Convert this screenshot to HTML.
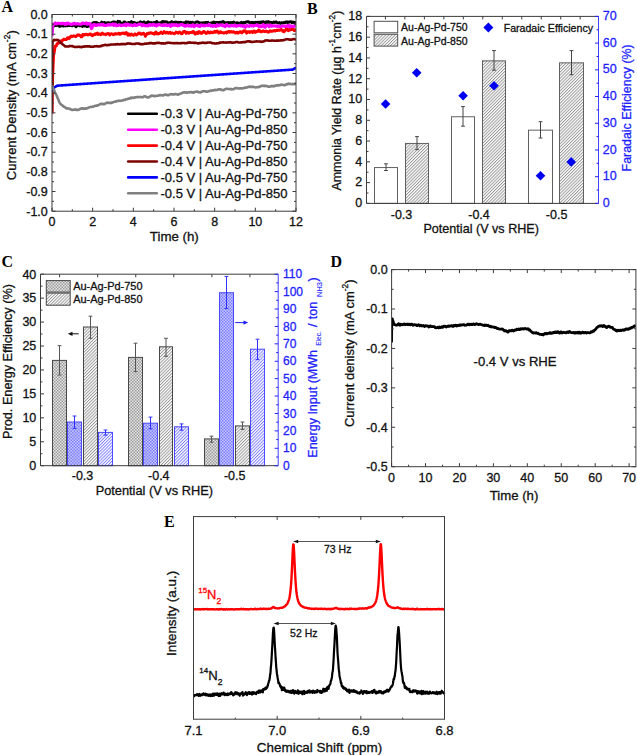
<!DOCTYPE html>
<html><head><meta charset="utf-8"><style>
html,body{margin:0;padding:0;background:#fff;width:637px;height:755px;overflow:hidden}
svg{display:block;font-family:"Liberation Sans", sans-serif}
</style></head><body>
<svg width="637" height="755" viewBox="0 0 637 755">
<defs>
<pattern id="hatchG" patternUnits="userSpaceOnUse" width="2.2" height="2.2" patternTransform="rotate(45)">
<rect width="2.2" height="2.2" fill="#fff"/><rect x="0" y="0" width="0.95" height="2.2" fill="#999999"/></pattern>
<pattern id="hatchB" patternUnits="userSpaceOnUse" width="2.2" height="2.2" patternTransform="rotate(45)">
<rect width="2.2" height="2.2" fill="#fff"/><rect x="0" y="0" width="0.95" height="2.2" fill="#8080ff"/></pattern>
<pattern id="xhatchG" patternUnits="userSpaceOnUse" width="3" height="3">
<rect width="3" height="3" fill="#e4e4e4"/><rect width="1.5" height="1.5" fill="#9c9c9c"/><rect x="1.5" y="1.5" width="1.5" height="1.5" fill="#9c9c9c"/></pattern>
<pattern id="xhatchB" patternUnits="userSpaceOnUse" width="3" height="3">
<rect width="3" height="3" fill="#c8c8ff"/><rect width="1.5" height="1.5" fill="#7c7cff"/><rect x="1.5" y="1.5" width="1.5" height="1.5" fill="#7c7cff"/></pattern>
</defs>
<rect width="637" height="755" fill="#fff"/>
<text x="1.5" y="11.8" font-family="Liberation Serif, serif" font-weight="bold" font-size="16" fill="#000">A</text>
<clipPath id="clipA"><rect x="52" y="14.5" width="244" height="196.7"/></clipPath>
<g clip-path="url(#clipA)">
<path d="M52.00,113.76 L52.16,104.56 L52.31,94.71 L52.47,85.64 L52.63,76.98 L52.78,73.20 L52.94,69.91 L53.09,66.07 L53.25,62.55 L53.41,59.10 L53.56,55.35 L53.72,53.88 L53.88,52.85 L54.03,52.64 L54.19,52.46 L54.35,51.77 L54.50,50.83 L54.66,49.75 L54.82,48.34 L54.97,46.78 L55.13,46.25 L55.28,46.54 L55.44,46.67 L55.60,46.59 L55.75,46.33 L55.91,45.84 L56.07,45.66 L56.22,45.84 L56.38,46.01 L56.54,44.95 L56.69,44.92 L56.85,44.44 L57.01,43.70 L57.16,44.12 L57.32,43.72 L57.47,43.52 L57.63,43.66 L57.79,43.73 L57.94,43.51 L58.10,42.93 L58.10,43.49 L58.53,42.54 L58.95,42.31 L59.38,42.78 L59.80,41.33 L60.23,41.14 L60.65,41.38 L61.08,40.91 L61.50,41.19 L61.93,41.30 L62.36,40.43 L62.78,40.26 L63.21,40.01 L63.63,39.22 L64.06,39.47 L64.48,39.16 L64.91,39.33 L65.33,39.57 L65.76,39.53 L66.19,39.58 L66.61,39.27 L67.04,38.78 L67.46,37.75 L67.89,37.79 L68.31,37.78 L68.74,37.65 L69.17,38.52 L69.59,38.00 L70.02,37.54 L70.44,37.16 L70.87,36.17 L71.29,36.06 L71.72,36.09 L72.14,36.56 L72.57,36.21 L73.00,36.18 L73.42,36.10 L73.85,35.83 L74.27,36.35 L74.70,36.21 L75.12,36.43 L75.55,36.50 L75.97,36.55 L76.40,36.01 L76.83,35.34 L77.25,35.29 L77.68,34.84 L78.10,35.30 L78.53,35.11 L78.95,35.04 L79.38,35.01 L79.80,35.28 L80.23,35.47 L80.66,35.99 L81.08,36.84 L81.51,36.44 L81.93,36.82 L82.36,36.11 L82.78,34.56 L83.21,34.69 L83.63,34.53 L84.06,34.46 L84.49,35.01 L84.91,34.72 L85.34,34.52 L85.76,34.28 L86.19,34.21 L86.61,34.45 L87.04,34.35 L87.47,34.52 L87.89,35.01 L88.32,34.50 L88.74,34.73 L89.17,34.39 L89.59,33.94 L90.02,33.99 L90.44,33.88 L90.87,34.25 L91.30,35.00 L91.72,35.41 L92.15,35.07 L92.57,35.75 L93.00,34.75 L93.42,34.95 L93.85,34.80 L94.27,34.34 L94.70,34.35 L95.13,33.68 L95.55,34.47 L95.98,33.73 L96.40,33.48 L96.83,33.54 L97.25,33.09 L97.68,33.56 L98.10,34.39 L98.53,33.97 L98.96,34.06 L99.38,34.00 L99.81,33.93 L100.23,34.52 L100.66,34.76 L101.08,34.29 L101.51,34.05 L101.93,33.49 L102.36,33.03 L102.79,33.69 L103.21,33.74 L103.64,34.26 L104.06,34.25 L104.49,34.12 L104.91,34.10 L105.34,34.37 L105.77,34.64 L106.19,33.92 L106.62,34.04 L107.04,33.91 L107.47,33.50 L107.89,33.57 L108.32,33.86 L108.74,33.58 L109.17,33.93 L109.60,35.05 L110.02,34.30 L110.45,34.25 L110.87,34.02 L111.30,33.68 L111.72,33.80 L112.15,33.99 L112.57,34.08 L113.00,34.22 L113.43,34.81 L113.85,34.18 L114.28,34.32 L114.70,33.84 L115.13,33.45 L115.55,34.08 L115.98,34.10 L116.40,33.99 L116.83,34.10 L117.26,34.01 L117.68,33.84 L118.11,33.67 L118.53,33.34 L118.96,33.17 L119.38,33.39 L119.81,34.29 L120.23,34.21 L120.66,34.03 L121.09,33.89 L121.51,33.24 L121.94,33.31 L122.36,33.37 L122.79,33.02 L123.21,33.38 L123.64,33.14 L124.07,33.88 L124.49,33.91 L124.92,33.60 L125.34,33.82 L125.77,32.72 L126.19,32.49 L126.62,33.05 L127.04,33.92 L127.47,34.28 L127.90,35.13 L128.32,34.72 L128.75,33.83 L129.17,34.67 L129.60,35.04 L130.02,34.93 L130.45,35.19 L130.87,34.69 L131.30,33.93 L131.73,34.30 L132.15,34.83 L132.58,34.79 L133.00,35.12 L133.43,35.38 L133.85,34.66 L134.28,34.61 L134.70,34.12 L135.13,33.88 L135.56,34.27 L135.98,34.58 L136.41,35.01 L136.83,34.59 L137.26,34.61 L137.68,34.13 L138.11,33.69 L138.53,33.04 L138.96,33.23 L139.39,33.03 L139.81,33.17 L140.24,33.86 L140.66,33.87 L141.09,34.32 L141.51,34.02 L141.94,34.03 L142.37,33.48 L142.79,33.41 L143.22,33.25 L143.64,33.21 L144.07,33.99 L144.49,34.12 L144.92,35.19 L145.34,36.30 L145.77,35.70 L146.20,34.98 L146.62,34.27 L147.05,33.53 L147.47,33.66 L147.90,33.71 L148.32,33.66 L148.75,33.22 L149.17,32.90 L149.60,33.26 L150.03,33.02 L150.45,32.83 L150.88,32.72 L151.30,33.08 L151.73,33.17 L152.15,33.59 L152.58,33.27 L153.00,33.33 L153.43,33.54 L153.86,33.30 L154.28,34.13 L154.71,33.08 L155.13,32.52 L155.56,32.67 L155.98,31.93 L156.41,32.40 L156.83,33.81 L157.26,33.55 L157.69,33.83 L158.11,33.93 L158.54,33.39 L158.96,33.56 L159.39,33.60 L159.81,33.20 L160.24,32.71 L160.67,32.61 L161.09,32.01 L161.52,32.61 L161.94,32.85 L162.37,33.48 L162.79,33.45 L163.22,32.92 L163.64,32.46 L164.07,31.59 L164.50,32.09 L164.92,32.34 L165.35,32.74 L165.77,33.04 L166.20,33.05 L166.62,32.59 L167.05,32.30 L167.47,32.25 L167.90,32.46 L168.33,33.20 L168.75,32.83 L169.18,32.63 L169.60,32.39 L170.03,32.29 L170.45,33.22 L170.88,33.42 L171.30,33.13 L171.73,33.14 L172.16,32.82 L172.58,32.87 L173.01,33.13 L173.43,33.54 L173.86,33.54 L174.28,33.75 L174.71,33.47 L175.13,33.18 L175.56,32.89 L175.99,32.06 L176.41,32.47 L176.84,32.40 L177.26,32.53 L177.69,33.05 L178.11,33.28 L178.54,32.90 L178.97,32.26 L179.39,32.35 L179.82,32.06 L180.24,32.58 L180.67,33.16 L181.09,33.50 L181.52,33.81 L181.94,32.99 L182.37,33.41 L182.80,32.60 L183.22,31.67 L183.65,32.02 L184.07,31.51 L184.50,31.20 L184.92,31.79 L185.35,32.08 L185.77,32.74 L186.20,33.39 L186.63,32.80 L187.05,32.26 L187.48,32.11 L187.90,32.41 L188.33,33.09 L188.75,33.32 L189.18,33.06 L189.60,32.68 L190.03,32.39 L190.46,32.59 L190.88,32.53 L191.31,32.52 L191.73,32.65 L192.16,32.36 L192.58,31.69 L193.01,31.55 L193.43,31.49 L193.86,32.25 L194.29,32.76 L194.71,33.63 L195.14,34.14 L195.56,33.25 L195.99,33.13 L196.41,32.50 L196.84,32.59 L197.27,33.01 L197.69,33.49 L198.12,33.21 L198.54,31.82 L198.97,31.61 L199.39,31.64 L199.82,32.26 L200.24,33.06 L200.67,33.19 L201.10,33.31 L201.52,32.86 L201.95,33.23 L202.37,32.77 L202.80,32.00 L203.22,31.65 L203.65,31.41 L204.07,31.61 L204.50,32.02 L204.93,32.53 L205.35,32.47 L205.78,33.10 L206.20,33.55 L206.63,33.13 L207.05,33.07 L207.48,32.54 L207.90,31.68 L208.33,32.55 L208.76,32.75 L209.18,32.76 L209.61,32.96 L210.03,32.48 L210.46,31.85 L210.88,31.83 L211.31,32.38 L211.73,32.56 L212.16,32.64 L212.59,32.54 L213.01,32.77 L213.44,31.97 L213.86,32.04 L214.29,31.73 L214.71,31.19 L215.14,31.75 L215.57,32.34 L215.99,31.92 L216.42,31.83 L216.84,31.17 L217.27,30.99 L217.69,31.81 L218.12,32.32 L218.54,32.99 L218.97,32.41 L219.40,32.90 L219.82,31.93 L220.25,31.67 L220.67,32.37 L221.10,32.09 L221.52,32.62 L221.95,32.74 L222.37,32.55 L222.80,32.66 L223.23,32.59 L223.65,32.92 L224.08,33.18 L224.50,32.89 L224.93,32.47 L225.35,32.63 L225.78,32.17 L226.20,32.37 L226.63,33.01 L227.06,32.17 L227.48,32.34 L227.91,31.58 L228.33,31.51 L228.76,31.66 L229.18,31.55 L229.61,32.32 L230.03,31.83 L230.46,32.01 L230.89,31.71 L231.31,31.46 L231.74,32.03 L232.16,32.00 L232.59,32.18 L233.01,31.82 L233.44,31.75 L233.87,31.72 L234.29,32.32 L234.72,32.42 L235.14,32.47 L235.57,33.07 L235.99,32.49 L236.42,32.32 L236.84,32.46 L237.27,32.20 L237.70,32.43 L238.12,33.20 L238.55,32.52 L238.97,32.42 L239.40,32.40 L239.82,31.79 L240.25,32.18 L240.67,31.73 L241.10,31.81 L241.53,32.43 L241.95,32.79 L242.38,32.28 L242.80,32.05 L243.23,31.53 L243.65,30.89 L244.08,31.47 L244.50,31.33 L244.93,30.75 L245.36,31.09 L245.78,31.67 L246.21,32.03 L246.63,33.15 L247.06,32.52 L247.48,31.68 L247.91,31.65 L248.33,31.66 L248.76,32.03 L249.19,31.83 L249.61,32.46 L250.04,31.78 L250.46,32.03 L250.89,32.14 L251.31,31.52 L251.74,31.79 L252.17,31.93 L252.59,32.62 L253.02,31.76 L253.44,31.36 L253.87,30.97 L254.29,30.92 L254.72,32.05 L255.14,32.46 L255.57,32.32 L256.00,32.03 L256.42,31.39 L256.85,31.62 L257.27,31.62 L257.70,31.59 L258.12,31.09 L258.55,30.03 L258.97,30.04 L259.40,30.28 L259.83,30.73 L260.25,31.58 L260.68,31.77 L261.10,31.51 L261.53,31.83 L261.95,31.39 L262.38,31.16 L262.80,31.03 L263.23,30.72 L263.66,31.16 L264.08,31.44 L264.51,31.59 L264.93,31.70 L265.36,31.35 L265.78,31.01 L266.21,31.38 L266.63,31.15 L267.06,31.69 L267.49,31.88 L267.91,31.49 L268.34,32.22 L268.76,31.71 L269.19,31.42 L269.61,31.36 L270.04,30.77 L270.47,30.91 L270.89,31.29 L271.32,31.31 L271.74,31.34 L272.17,31.16 L272.59,31.22 L273.02,31.03 L273.44,30.77 L273.87,30.84 L274.30,30.56 L274.72,30.43 L275.15,31.04 L275.57,30.82 L276.00,30.56 L276.42,30.64 L276.85,29.91 L277.27,30.28 L277.70,30.44 L278.13,30.30 L278.55,30.27 L278.98,29.95 L279.40,30.37 L279.83,30.39 L280.25,30.12 L280.68,29.82 L281.10,29.20 L281.53,29.91 L281.96,29.97 L282.38,30.36 L282.81,31.30 L283.23,30.61 L283.66,31.44 L284.08,31.83 L284.51,31.15 L284.93,30.82 L285.36,30.42 L285.79,29.85 L286.21,29.01 L286.64,28.88 L287.06,28.77 L287.49,28.93 L287.91,29.96 L288.34,30.74 L288.77,30.54 L289.19,30.30 L289.62,29.81 L290.04,29.21 L290.47,29.61 L290.89,29.75 L291.32,29.51 L291.74,29.64 L292.17,28.98 L292.60,28.81 L293.02,29.15 L293.45,29.22 L293.87,29.92 L294.30,30.61 L294.72,30.29 L295.15,30.42 L295.57,29.94 L296.00,29.95" fill="none" stroke="#ff0000" stroke-width="2.9" stroke-linejoin="round" stroke-linecap="butt" />
<path d="M52.00,112.64 L52.41,41.76 L52.81,41.47 L53.22,40.85 L53.63,40.37 L54.04,39.86 L54.44,39.91 L54.85,40.04 L55.26,40.10 L55.67,39.99 L56.07,40.00 L56.48,39.92 L56.89,39.94 L57.30,39.93 L57.70,40.00 L58.11,40.09 L58.52,40.35 L58.92,40.83 L59.33,41.28 L59.74,41.73 L60.15,42.14 L60.55,42.75 L60.96,42.94 L61.37,43.24 L61.78,43.54 L62.18,44.01 L62.59,44.37 L63.00,44.62 L63.41,44.81 L63.81,45.28 L64.22,45.65 L64.63,45.87 L65.04,46.35 L65.44,46.35 L65.85,46.38 L66.26,46.43 L66.66,46.52 L67.07,46.54 L67.48,46.57 L67.89,46.56 L68.29,46.53 L68.70,46.46 L69.11,46.22 L69.52,46.13 L69.92,46.15 L70.33,46.07 L70.74,45.96 L71.15,45.95 L71.55,46.12 L71.96,46.07 L72.37,46.00 L72.77,46.19 L73.18,46.52 L73.59,46.82 L74.00,46.78 L74.40,46.87 L74.81,47.02 L75.22,47.01 L75.63,46.89 L76.03,46.93 L76.44,46.94 L76.85,46.96 L77.26,46.86 L77.66,46.84 L78.07,46.81 L78.48,46.76 L78.88,46.82 L79.29,46.88 L79.70,46.96 L80.11,46.89 L80.51,47.07 L80.92,47.10 L81.33,47.11 L81.74,46.82 L82.14,46.85 L82.55,46.87 L82.96,46.76 L83.37,46.57 L83.77,46.58 L84.18,46.68 L84.59,46.46 L84.99,46.34 L85.40,46.26 L85.81,46.53 L86.22,46.46 L86.62,46.31 L87.03,46.29 L87.44,46.37 L87.85,46.49 L88.25,46.37 L88.66,46.45 L89.07,46.42 L89.48,46.39 L89.88,46.34 L90.29,46.61 L90.70,46.69 L91.11,46.76 L91.51,46.81 L91.92,46.66 L92.33,46.71 L92.73,46.85 L93.14,46.75 L93.55,46.75 L93.96,46.60 L94.36,46.26 L94.77,46.25 L95.18,46.31 L95.59,46.32 L95.99,46.34 L96.40,46.32 L96.81,46.08 L97.22,46.32 L97.62,46.28 L98.03,46.46 L98.44,46.57 L98.84,46.55 L99.25,46.39 L99.66,46.29 L100.07,46.20 L100.47,46.17 L100.88,46.29 L101.29,46.08 L101.70,45.92 L102.10,45.59 L102.51,45.46 L102.92,45.35 L103.33,45.34 L103.73,45.18 L104.14,45.10 L104.55,45.01 L104.95,44.86 L105.36,44.81 L105.77,44.96 L106.18,45.09 L106.58,45.25 L106.99,45.30 L107.40,45.02 L107.81,45.11 L108.21,45.08 L108.62,44.99 L109.03,44.87 L109.44,44.93 L109.84,44.87 L110.25,44.75 L110.66,44.60 L111.07,44.52 L111.47,44.54 L111.88,44.55 L112.29,44.48 L112.69,44.53 L113.10,44.43 L113.51,44.46 L113.92,44.45 L114.32,44.54 L114.73,44.46 L115.14,44.38 L115.55,44.36 L115.95,44.39 L116.36,44.30 L116.77,44.24 L117.18,44.38 L117.58,44.13 L117.99,44.11 L118.40,44.20 L118.80,44.25 L119.21,44.39 L119.62,44.52 L120.03,44.32 L120.43,44.31 L120.84,44.12 L121.25,44.05 L121.66,44.22 L122.06,44.20 L122.47,44.10 L122.88,44.16 L123.29,44.00 L123.69,43.99 L124.10,44.18 L124.51,44.15 L124.91,44.28 L125.32,44.23 L125.73,44.09 L126.14,43.97 L126.54,43.88 L126.95,43.67 L127.36,43.67 L127.77,43.58 L128.17,43.37 L128.58,43.55 L128.99,43.55 L129.40,43.60 L129.80,43.58 L130.21,43.74 L130.62,43.60 L131.03,43.69 L131.43,43.83 L131.84,44.00 L132.25,44.05 L132.65,43.93 L133.06,43.97 L133.47,43.94 L133.88,44.00 L134.28,43.84 L134.69,44.03 L135.10,44.04 L135.51,43.85 L135.91,43.49 L136.32,43.54 L136.73,43.57 L137.14,43.57 L137.54,43.51 L137.95,43.55 L138.36,43.63 L138.76,43.57 L139.17,43.64 L139.58,43.80 L139.99,44.05 L140.39,44.13 L140.80,44.21 L141.21,44.17 L141.62,44.22 L142.02,44.13 L142.43,44.24 L142.84,44.27 L143.25,44.11 L143.65,43.98 L144.06,43.94 L144.47,43.84 L144.87,43.66 L145.28,43.67 L145.69,43.77 L146.10,43.82 L146.50,43.55 L146.91,43.49 L147.32,43.45 L147.73,43.53 L148.13,43.44 L148.54,43.41 L148.95,43.47 L149.36,43.21 L149.76,43.05 L150.17,43.02 L150.58,43.14 L150.98,43.13 L151.39,43.12 L151.80,43.11 L152.21,43.33 L152.61,43.30 L153.02,43.28 L153.43,43.47 L153.84,43.42 L154.24,43.35 L154.65,43.27 L155.06,43.39 L155.47,43.41 L155.87,43.19 L156.28,42.98 L156.69,42.93 L157.10,42.91 L157.50,42.77 L157.91,42.95 L158.32,42.99 L158.72,43.01 L159.13,42.85 L159.54,42.96 L159.95,43.10 L160.35,43.19 L160.76,43.19 L161.17,43.21 L161.58,43.45 L161.98,43.38 L162.39,43.29 L162.80,43.40 L163.21,43.48 L163.61,43.39 L164.02,43.50 L164.43,43.45 L164.83,43.55 L165.24,43.44 L165.65,43.15 L166.06,42.97 L166.46,43.06 L166.87,42.91 L167.28,42.88 L167.69,42.92 L168.09,42.70 L168.50,42.82 L168.91,42.64 L169.32,42.74 L169.72,42.81 L170.13,42.96 L170.54,42.99 L170.94,43.03 L171.35,42.97 L171.76,42.97 L172.17,43.06 L172.57,42.99 L172.98,43.25 L173.39,43.17 L173.80,43.22 L174.20,43.22 L174.61,43.15 L175.02,43.09 L175.43,43.18 L175.83,43.24 L176.24,43.29 L176.65,43.15 L177.06,43.08 L177.46,43.05 L177.87,43.16 L178.28,43.26 L178.68,43.16 L179.09,43.25 L179.50,43.31 L179.91,43.28 L180.31,43.18 L180.72,43.18 L181.13,43.09 L181.54,43.16 L181.94,43.04 L182.35,43.00 L182.76,43.07 L183.17,43.06 L183.57,42.99 L183.98,43.00 L184.39,43.07 L184.79,43.16 L185.20,43.17 L185.61,43.23 L186.02,43.20 L186.42,43.12 L186.83,43.07 L187.24,42.97 L187.65,42.87 L188.05,42.63 L188.46,42.70 L188.87,42.63 L189.28,42.61 L189.68,42.42 L190.09,42.36 L190.50,42.54 L190.90,42.69 L191.31,42.73 L191.72,42.71 L192.13,42.84 L192.53,42.77 L192.94,42.79 L193.35,42.71 L193.76,42.87 L194.16,42.92 L194.57,42.94 L194.98,42.80 L195.39,42.94 L195.79,42.92 L196.20,43.00 L196.61,43.06 L197.02,43.07 L197.42,43.19 L197.83,43.26 L198.24,43.47 L198.64,43.28 L199.05,43.29 L199.46,43.11 L199.87,43.20 L200.27,43.09 L200.68,43.01 L201.09,43.05 L201.50,42.92 L201.90,42.75 L202.31,42.64 L202.72,42.66 L203.13,42.71 L203.53,42.78 L203.94,42.84 L204.35,42.84 L204.75,42.87 L205.16,42.82 L205.57,42.93 L205.98,42.99 L206.38,42.92 L206.79,42.93 L207.20,42.75 L207.61,42.72 L208.01,42.49 L208.42,42.49 L208.83,42.51 L209.24,42.58 L209.64,42.47 L210.05,42.49 L210.46,42.51 L210.86,42.50 L211.27,42.81 L211.68,42.86 L212.09,43.19 L212.49,43.24 L212.90,43.24 L213.31,43.26 L213.72,43.31 L214.12,43.29 L214.53,43.41 L214.94,43.52 L215.35,43.45 L215.75,43.59 L216.16,43.47 L216.57,43.36 L216.97,43.37 L217.38,43.25 L217.79,43.33 L218.20,43.32 L218.60,43.21 L219.01,43.06 L219.42,42.91 L219.83,42.58 L220.23,42.48 L220.64,42.59 L221.05,42.57 L221.46,42.56 L221.86,42.46 L222.27,42.40 L222.68,42.36 L223.09,42.20 L223.49,42.40 L223.90,42.56 L224.31,42.49 L224.71,42.52 L225.12,42.49 L225.53,42.55 L225.94,42.64 L226.34,42.68 L226.75,42.46 L227.16,42.50 L227.57,42.42 L227.97,42.45 L228.38,42.55 L228.79,42.42 L229.20,42.42 L229.60,42.44 L230.01,42.24 L230.42,42.16 L230.82,42.39 L231.23,42.56 L231.64,42.59 L232.05,42.56 L232.45,42.70 L232.86,42.71 L233.27,42.68 L233.68,42.58 L234.08,42.48 L234.49,42.44 L234.90,42.50 L235.31,42.32 L235.71,42.08 L236.12,42.07 L236.53,41.96 L236.93,42.02 L237.34,42.08 L237.75,41.99 L238.16,42.33 L238.56,42.51 L238.97,42.43 L239.38,42.51 L239.79,42.58 L240.19,42.48 L240.60,42.41 L241.01,42.29 L241.42,42.33 L241.82,42.44 L242.23,42.28 L242.64,42.17 L243.05,42.12 L243.45,42.16 L243.86,42.22 L244.27,42.16 L244.67,42.10 L245.08,42.24 L245.49,41.88 L245.90,41.68 L246.30,41.73 L246.71,41.70 L247.12,41.50 L247.53,41.35 L247.93,41.26 L248.34,41.33 L248.75,41.40 L249.16,41.34 L249.56,41.55 L249.97,41.67 L250.38,41.57 L250.78,41.62 L251.19,41.92 L251.60,41.97 L252.01,42.05 L252.41,42.04 L252.82,41.90 L253.23,41.84 L253.64,41.74 L254.04,41.76 L254.45,41.71 L254.86,41.67 L255.27,41.58 L255.67,41.49 L256.08,41.48 L256.49,41.33 L256.89,41.39 L257.30,41.46 L257.71,41.51 L258.12,41.57 L258.52,41.54 L258.93,41.56 L259.34,41.42 L259.75,41.52 L260.15,41.59 L260.56,41.74 L260.97,41.88 L261.38,41.80 L261.78,41.65 L262.19,41.51 L262.60,41.61 L263.01,41.59 L263.41,41.51 L263.82,41.39 L264.23,41.17 L264.63,41.00 L265.04,40.60 L265.45,40.46 L265.86,40.52 L266.26,40.51 L266.67,40.33 L267.08,40.29 L267.49,40.50 L267.89,40.50 L268.30,40.55 L268.71,40.62 L269.12,40.79 L269.52,40.68 L269.93,40.73 L270.34,40.75 L270.74,40.79 L271.15,40.67 L271.56,40.47 L271.97,40.49 L272.37,40.46 L272.78,40.56 L273.19,40.62 L273.60,40.75 L274.00,40.65 L274.41,40.69 L274.82,40.69 L275.23,40.69 L275.63,40.71 L276.04,40.70 L276.45,40.62 L276.85,40.61 L277.26,40.61 L277.67,40.49 L278.08,40.65 L278.48,40.57 L278.89,40.49 L279.30,40.50 L279.71,40.59 L280.11,40.52 L280.52,40.47 L280.93,40.30 L281.34,40.33 L281.74,40.46 L282.15,40.32 L282.56,40.31 L282.96,40.29 L283.37,40.18 L283.78,40.01 L284.19,40.02 L284.59,39.91 L285.00,39.78 L285.41,39.51 L285.82,39.35 L286.22,39.27 L286.63,39.21 L287.04,39.14 L287.45,39.28 L287.85,39.31 L288.26,39.29 L288.67,39.37 L289.08,39.59 L289.48,39.73 L289.89,39.82 L290.30,39.71 L290.70,39.59 L291.11,39.64 L291.52,39.51 L291.93,39.58 L292.33,39.47 L292.74,39.44 L293.15,39.21 L293.56,38.97 L293.96,38.94 L294.37,39.12 L294.78,39.25 L295.19,39.34 L295.59,39.39 L296.00,39.19" fill="none" stroke="#7b0000" stroke-width="2.6" stroke-linejoin="round" stroke-linecap="butt" />
<path d="M52.00,23.51 L52.41,23.84 L52.81,24.26 L53.22,24.65 L53.63,25.39 L54.04,25.80 L54.44,25.90 L54.85,25.59 L55.26,25.31 L55.67,25.50 L56.07,25.65 L56.48,25.51 L56.89,25.23 L57.30,24.93 L57.70,25.07 L58.11,24.97 L58.52,24.94 L58.92,25.86 L59.33,26.34 L59.74,26.56 L60.15,26.16 L60.55,25.93 L60.96,25.49 L61.37,25.35 L61.78,25.72 L62.18,25.50 L62.59,25.49 L63.00,25.52 L63.41,26.01 L63.81,25.78 L64.22,25.64 L64.63,25.49 L65.04,25.75 L65.44,25.81 L65.85,25.98 L66.26,25.64 L66.66,25.57 L67.07,25.53 L67.48,25.77 L67.89,24.84 L68.29,25.12 L68.70,24.73 L69.11,25.51 L69.52,25.36 L69.92,25.54 L70.33,25.29 L70.74,24.91 L71.15,25.02 L71.55,25.43 L71.96,25.93 L72.37,25.88 L72.77,25.57 L73.18,25.05 L73.59,25.07 L74.00,24.95 L74.40,24.92 L74.81,24.99 L75.22,25.69 L75.63,26.42 L76.03,26.86 L76.44,26.03 L76.85,25.95 L77.26,25.23 L77.66,25.50 L78.07,24.81 L78.48,24.88 L78.88,25.07 L79.29,25.59 L79.70,25.85 L80.11,25.77 L80.51,25.87 L80.92,25.90 L81.33,25.52 L81.74,25.84 L82.14,25.77 L82.55,26.45 L82.96,25.95 L83.37,25.79 L83.77,25.57 L84.18,25.41 L84.59,26.07 L84.99,25.76 L85.40,26.14 L85.81,25.54 L86.22,25.80 L86.62,26.34 L87.03,26.72 L87.44,26.71 L87.85,25.59 L88.25,25.31 L88.66,25.31 L89.07,26.12 L89.48,25.81 L89.88,25.40 L90.29,25.01 L90.70,25.46 L91.11,26.39 L91.51,26.17 L91.92,24.96 L92.33,23.69 L92.73,22.96 L93.14,22.92 L93.55,22.75 L93.96,22.52 L94.36,23.00 L94.77,22.79 L95.18,23.07 L95.59,22.50 L95.99,22.33 L96.40,22.30 L96.81,22.74 L97.22,23.21 L97.62,23.29 L98.03,23.28 L98.44,23.28 L98.84,23.64 L99.25,23.58 L99.66,23.73 L100.07,23.75 L100.47,24.06 L100.88,23.51 L101.29,23.03 L101.70,22.04 L102.10,22.50 L102.51,22.79 L102.92,23.09 L103.33,22.74 L103.73,22.64 L104.14,22.42 L104.55,22.46 L104.95,22.68 L105.36,23.50 L105.77,23.32 L106.18,22.92 L106.58,22.93 L106.99,23.29 L107.40,23.23 L107.81,22.70 L108.21,22.61 L108.62,22.58 L109.03,22.58 L109.44,22.89 L109.84,23.14 L110.25,23.18 L110.66,22.86 L111.07,23.35 L111.47,23.54 L111.88,23.18 L112.29,22.17 L112.69,22.69 L113.10,22.18 L113.51,22.91 L113.92,22.06 L114.32,22.43 L114.73,21.86 L115.14,22.08 L115.55,22.73 L115.95,22.82 L116.36,23.06 L116.77,23.42 L117.18,22.83 L117.58,22.44 L117.99,21.26 L118.40,22.28 L118.80,22.07 L119.21,22.13 L119.62,21.46 L120.03,21.86 L120.43,22.62 L120.84,23.09 L121.25,23.68 L121.66,23.81 L122.06,23.74 L122.47,23.41 L122.88,22.99 L123.29,23.05 L123.69,22.25 L124.10,21.86 L124.51,21.84 L124.91,22.03 L125.32,22.60 L125.73,22.67 L126.14,22.75 L126.54,22.88 L126.95,22.86 L127.36,23.47 L127.77,23.10 L128.17,22.58 L128.58,22.42 L128.99,22.39 L129.40,23.08 L129.80,23.19 L130.21,23.58 L130.62,22.94 L131.03,21.99 L131.43,21.52 L131.84,22.11 L132.25,22.56 L132.65,22.78 L133.06,22.37 L133.47,22.48 L133.88,22.31 L134.28,22.36 L134.69,22.60 L135.10,22.78 L135.51,23.41 L135.91,23.38 L136.32,23.65 L136.73,23.22 L137.14,23.36 L137.54,22.95 L137.95,22.78 L138.36,22.91 L138.76,23.16 L139.17,23.53 L139.58,22.95 L139.99,22.26 L140.39,21.77 L140.80,22.07 L141.21,22.14 L141.62,22.78 L142.02,22.27 L142.43,22.85 L142.84,23.19 L143.25,22.88 L143.65,22.27 L144.06,21.80 L144.47,22.47 L144.87,22.95 L145.28,22.65 L145.69,23.09 L146.10,23.22 L146.50,23.12 L146.91,22.66 L147.32,22.14 L147.73,22.25 L148.13,21.67 L148.54,22.19 L148.95,22.14 L149.36,23.30 L149.76,23.44 L150.17,23.15 L150.58,22.89 L150.98,22.40 L151.39,22.78 L151.80,22.80 L152.21,23.04 L152.61,23.16 L153.02,23.01 L153.43,22.71 L153.84,22.40 L154.24,22.42 L154.65,22.87 L155.06,22.97 L155.47,22.84 L155.87,22.31 L156.28,21.67 L156.69,21.41 L157.10,21.70 L157.50,22.46 L157.91,22.92 L158.32,23.16 L158.72,23.39 L159.13,23.26 L159.54,23.13 L159.95,22.65 L160.35,22.65 L160.76,22.59 L161.17,23.12 L161.58,22.57 L161.98,22.38 L162.39,21.56 L162.80,21.79 L163.21,21.52 L163.61,22.07 L164.02,22.09 L164.43,21.76 L164.83,22.03 L165.24,21.90 L165.65,22.17 L166.06,21.73 L166.46,21.84 L166.87,21.95 L167.28,22.25 L167.69,22.34 L168.09,22.93 L168.50,22.93 L168.91,23.21 L169.32,23.01 L169.72,22.78 L170.13,22.49 L170.54,22.84 L170.94,22.33 L171.35,22.13 L171.76,21.54 L172.17,22.19 L172.57,22.53 L172.98,22.58 L173.39,22.36 L173.80,22.81 L174.20,22.75 L174.61,22.05 L175.02,22.10 L175.43,22.03 L175.83,22.74 L176.24,22.25 L176.65,22.15 L177.06,22.58 L177.46,22.50 L177.87,22.47 L178.28,22.20 L178.68,22.36 L179.09,22.73 L179.50,22.80 L179.91,22.25 L180.31,22.54 L180.72,22.17 L181.13,22.95 L181.54,22.51 L181.94,22.78 L182.35,23.15 L182.76,23.34 L183.17,23.61 L183.57,23.01 L183.98,22.58 L184.39,22.59 L184.79,22.76 L185.20,22.79 L185.61,22.44 L186.02,21.72 L186.42,22.03 L186.83,22.31 L187.24,22.75 L187.65,22.50 L188.05,21.99 L188.46,21.97 L188.87,22.30 L189.28,22.59 L189.68,22.75 L190.09,22.23 L190.50,22.19 L190.90,22.35 L191.31,23.02 L191.72,22.82 L192.13,22.32 L192.53,22.23 L192.94,22.61 L193.35,22.79 L193.76,23.21 L194.16,23.39 L194.57,23.17 L194.98,22.84 L195.39,22.37 L195.79,22.25 L196.20,21.94 L196.61,22.03 L197.02,21.78 L197.42,21.77 L197.83,21.88 L198.24,22.27 L198.64,22.34 L199.05,22.48 L199.46,22.66 L199.87,22.82 L200.27,23.13 L200.68,23.20 L201.09,23.23 L201.50,22.80 L201.90,23.21 L202.31,23.23 L202.72,23.12 L203.13,22.63 L203.53,22.85 L203.94,22.66 L204.35,23.03 L204.75,22.77 L205.16,22.58 L205.57,22.44 L205.98,22.51 L206.38,22.58 L206.79,22.49 L207.20,22.43 L207.61,22.67 L208.01,22.27 L208.42,22.80 L208.83,23.09 L209.24,23.66 L209.64,23.35 L210.05,23.36 L210.46,23.31 L210.86,22.92 L211.27,22.93 L211.68,22.66 L212.09,22.63 L212.49,22.59 L212.90,22.58 L213.31,22.24 L213.72,21.95 L214.12,22.16 L214.53,22.63 L214.94,22.98 L215.35,22.72 L215.75,22.46 L216.16,22.44 L216.57,22.57 L216.97,22.50 L217.38,22.41 L217.79,22.30 L218.20,22.89 L218.60,22.98 L219.01,23.17 L219.42,22.30 L219.83,22.18 L220.23,22.18 L220.64,22.92 L221.05,22.86 L221.46,22.53 L221.86,22.33 L222.27,21.72 L222.68,21.84 L223.09,21.50 L223.49,21.98 L223.90,21.88 L224.31,22.66 L224.71,22.77 L225.12,22.95 L225.53,22.62 L225.94,23.17 L226.34,22.91 L226.75,22.95 L227.16,22.49 L227.57,22.79 L227.97,22.75 L228.38,22.52 L228.79,22.79 L229.20,22.98 L229.60,23.02 L230.01,22.63 L230.42,22.48 L230.82,22.71 L231.23,22.98 L231.64,22.89 L232.05,22.41 L232.45,22.47 L232.86,22.04 L233.27,22.13 L233.68,21.97 L234.08,22.17 L234.49,22.80 L234.90,23.14 L235.31,23.70 L235.71,23.42 L236.12,23.03 L236.53,22.82 L236.93,22.68 L237.34,23.17 L237.75,22.90 L238.16,23.31 L238.56,22.91 L238.97,23.16 L239.38,23.08 L239.79,23.27 L240.19,23.43 L240.60,23.12 L241.01,22.59 L241.42,22.16 L241.82,22.43 L242.23,22.80 L242.64,23.21 L243.05,22.81 L243.45,23.15 L243.86,22.56 L244.27,22.82 L244.67,22.48 L245.08,22.72 L245.49,22.31 L245.90,22.00 L246.30,21.81 L246.71,22.05 L247.12,21.81 L247.53,21.75 L247.93,21.82 L248.34,21.76 L248.75,22.05 L249.16,22.00 L249.56,22.64 L249.97,22.76 L250.38,22.57 L250.78,22.68 L251.19,22.42 L251.60,22.54 L252.01,22.11 L252.41,22.88 L252.82,23.00 L253.23,22.90 L253.64,22.51 L254.04,22.46 L254.45,23.28 L254.86,22.89 L255.27,23.09 L255.67,22.21 L256.08,22.89 L256.49,22.52 L256.89,22.82 L257.30,22.10 L257.71,22.54 L258.12,22.64 L258.52,22.25 L258.93,22.22 L259.34,22.25 L259.75,22.93 L260.15,22.98 L260.56,22.47 L260.97,21.92 L261.38,21.84 L261.78,22.63 L262.19,22.78 L262.60,22.28 L263.01,21.59 L263.41,21.59 L263.82,22.13 L264.23,22.40 L264.63,23.09 L265.04,23.23 L265.45,22.92 L265.86,22.73 L266.26,21.72 L266.67,21.97 L267.08,21.96 L267.49,22.36 L267.89,21.89 L268.30,21.58 L268.71,22.13 L269.12,22.52 L269.52,22.28 L269.93,22.08 L270.34,22.39 L270.74,22.49 L271.15,22.31 L271.56,22.40 L271.97,22.78 L272.37,23.02 L272.78,22.64 L273.19,22.51 L273.60,21.99 L274.00,21.88 L274.41,22.33 L274.82,22.53 L275.23,22.48 L275.63,21.93 L276.04,21.76 L276.45,22.15 L276.85,22.53 L277.26,22.56 L277.67,22.70 L278.08,23.03 L278.48,23.00 L278.89,22.91 L279.30,22.40 L279.71,23.06 L280.11,23.22 L280.52,23.45 L280.93,23.17 L281.34,22.71 L281.74,23.02 L282.15,22.71 L282.56,23.13 L282.96,22.80 L283.37,22.82 L283.78,22.52 L284.19,22.64 L284.59,22.33 L285.00,22.54 L285.41,22.05 L285.82,22.50 L286.22,21.88 L286.63,22.07 L287.04,21.85 L287.45,22.44 L287.85,22.01 L288.26,22.49 L288.67,22.38 L289.08,22.17 L289.48,21.88 L289.89,21.75 L290.30,21.66 L290.70,21.64 L291.11,21.89 L291.52,22.30 L291.93,22.72 L292.33,22.19 L292.74,22.06 L293.15,21.90 L293.56,22.37 L293.96,22.65 L294.37,22.49 L294.78,22.58 L295.19,22.48 L295.59,23.03 L296.00,22.89" fill="none" stroke="#000000" stroke-width="2.8" stroke-linejoin="round" stroke-linecap="butt" />
<path d="M52.00,36.21 L52.41,31.04 L52.81,25.63 L53.22,25.08 L53.63,24.71 L54.04,24.09 L54.44,23.90 L54.85,23.33 L55.26,22.91 L55.67,23.29 L56.07,23.89 L56.48,24.04 L56.89,23.87 L57.30,23.25 L57.70,23.53 L58.11,23.28 L58.52,23.36 L58.92,23.16 L59.33,23.36 L59.74,23.48 L60.15,23.62 L60.55,23.70 L60.96,23.53 L61.37,23.74 L61.78,23.32 L62.18,23.63 L62.59,23.20 L63.00,23.72 L63.41,23.76 L63.81,23.46 L64.22,23.52 L64.63,23.82 L65.04,24.59 L65.44,24.59 L65.85,23.62 L66.26,23.36 L66.66,23.01 L67.07,23.90 L67.48,23.86 L67.89,23.94 L68.29,23.14 L68.70,23.44 L69.11,23.46 L69.52,23.88 L69.92,23.97 L70.33,24.15 L70.74,24.31 L71.15,24.68 L71.55,24.50 L71.96,24.28 L72.37,23.74 L72.77,24.29 L73.18,24.03 L73.59,23.83 L74.00,23.16 L74.40,23.18 L74.81,23.40 L75.22,23.46 L75.63,23.93 L76.03,23.80 L76.44,24.05 L76.85,23.98 L77.26,23.65 L77.66,23.59 L78.07,23.63 L78.48,24.03 L78.88,23.97 L79.29,24.18 L79.70,24.24 L80.11,24.35 L80.51,24.26 L80.92,24.15 L81.33,24.31 L81.74,23.58 L82.14,23.17 L82.55,22.87 L82.96,23.45 L83.37,23.21 L83.77,23.25 L84.18,23.25 L84.59,23.79 L84.99,23.79 L85.40,23.37 L85.81,23.46 L86.22,22.95 L86.62,23.60 L87.03,23.40 L87.44,24.28 L87.85,23.51 L88.25,23.80 L88.66,23.54 L89.07,23.79 L89.48,23.34 L89.88,23.64 L90.29,24.00 L90.70,25.21 L91.11,27.74 L91.51,28.65 L91.92,28.36 L92.33,27.02 L92.73,25.13 L93.14,25.25 L93.55,24.91 L93.96,24.37 L94.36,24.71 L94.77,24.89 L95.18,25.44 L95.59,24.76 L95.99,25.00 L96.40,24.93 L96.81,25.36 L97.22,24.90 L97.62,24.83 L98.03,24.59 L98.44,24.68 L98.84,24.78 L99.25,25.18 L99.66,25.12 L100.07,24.97 L100.47,24.57 L100.88,24.47 L101.29,24.21 L101.70,24.48 L102.10,24.98 L102.51,24.89 L102.92,24.18 L103.33,24.17 L103.73,24.94 L104.14,25.53 L104.55,25.46 L104.95,25.58 L105.36,25.39 L105.77,25.62 L106.18,25.52 L106.58,25.27 L106.99,25.10 L107.40,24.78 L107.81,24.87 L108.21,24.45 L108.62,24.52 L109.03,24.69 L109.44,25.16 L109.84,24.57 L110.25,24.40 L110.66,24.48 L111.07,24.98 L111.47,24.96 L111.88,24.52 L112.29,24.01 L112.69,23.82 L113.10,24.11 L113.51,24.66 L113.92,25.41 L114.32,25.19 L114.73,25.13 L115.14,24.00 L115.55,24.05 L115.95,24.69 L116.36,25.64 L116.77,25.64 L117.18,25.41 L117.58,25.47 L117.99,25.60 L118.40,25.15 L118.80,24.96 L119.21,25.11 L119.62,24.99 L120.03,25.10 L120.43,24.99 L120.84,25.60 L121.25,25.68 L121.66,25.35 L122.06,25.42 L122.47,25.22 L122.88,25.21 L123.29,24.86 L123.69,24.77 L124.10,25.30 L124.51,24.82 L124.91,24.58 L125.32,24.20 L125.73,25.07 L126.14,25.68 L126.54,25.47 L126.95,24.50 L127.36,24.12 L127.77,24.04 L128.17,24.70 L128.58,24.84 L128.99,25.20 L129.40,24.91 L129.80,25.29 L130.21,25.03 L130.62,24.78 L131.03,24.67 L131.43,25.33 L131.84,25.60 L132.25,25.47 L132.65,25.76 L133.06,25.63 L133.47,25.40 L133.88,24.87 L134.28,24.50 L134.69,24.51 L135.10,24.59 L135.51,25.16 L135.91,25.50 L136.32,25.51 L136.73,25.43 L137.14,25.29 L137.54,25.21 L137.95,24.85 L138.36,24.45 L138.76,24.10 L139.17,24.42 L139.58,24.53 L139.99,24.35 L140.39,24.51 L140.80,24.12 L141.21,24.81 L141.62,24.88 L142.02,25.79 L142.43,25.62 L142.84,25.41 L143.25,24.61 L143.65,24.70 L144.06,24.85 L144.47,25.37 L144.87,25.39 L145.28,25.73 L145.69,25.62 L146.10,25.90 L146.50,25.53 L146.91,25.55 L147.32,25.25 L147.73,25.57 L148.13,25.97 L148.54,25.26 L148.95,25.35 L149.36,24.52 L149.76,24.88 L150.17,24.61 L150.58,25.38 L150.98,25.26 L151.39,24.67 L151.80,24.61 L152.21,24.99 L152.61,25.19 L153.02,24.83 L153.43,24.18 L153.84,24.64 L154.24,24.59 L154.65,25.51 L155.06,24.76 L155.47,25.12 L155.87,25.39 L156.28,26.03 L156.69,25.86 L157.10,24.70 L157.50,24.76 L157.91,24.73 L158.32,25.10 L158.72,24.56 L159.13,24.58 L159.54,24.46 L159.95,24.76 L160.35,24.83 L160.76,25.10 L161.17,25.25 L161.58,25.42 L161.98,25.11 L162.39,25.51 L162.80,24.92 L163.21,25.00 L163.61,24.63 L164.02,25.18 L164.43,25.52 L164.83,25.36 L165.24,24.94 L165.65,24.80 L166.06,24.65 L166.46,25.02 L166.87,25.04 L167.28,25.77 L167.69,25.40 L168.09,25.42 L168.50,25.10 L168.91,24.99 L169.32,24.84 L169.72,25.52 L170.13,25.84 L170.54,26.45 L170.94,25.36 L171.35,24.67 L171.76,24.40 L172.17,24.69 L172.57,25.47 L172.98,25.22 L173.39,25.06 L173.80,24.63 L174.20,25.01 L174.61,24.75 L175.02,25.38 L175.43,25.03 L175.83,25.15 L176.24,24.69 L176.65,25.03 L177.06,25.56 L177.46,25.90 L177.87,25.65 L178.28,25.13 L178.68,25.37 L179.09,25.22 L179.50,25.38 L179.91,24.86 L180.31,24.86 L180.72,24.61 L181.13,24.63 L181.54,24.52 L181.94,24.79 L182.35,24.43 L182.76,25.21 L183.17,25.01 L183.57,25.59 L183.98,25.14 L184.39,25.78 L184.79,26.23 L185.20,26.27 L185.61,26.19 L186.02,25.52 L186.42,25.83 L186.83,25.24 L187.24,25.30 L187.65,24.96 L188.05,25.57 L188.46,25.87 L188.87,26.12 L189.28,26.08 L189.68,25.86 L190.09,25.59 L190.50,25.84 L190.90,25.92 L191.31,26.12 L191.72,25.68 L192.13,25.08 L192.53,24.65 L192.94,24.79 L193.35,25.78 L193.76,26.36 L194.16,26.75 L194.57,26.09 L194.98,25.91 L195.39,25.42 L195.79,25.80 L196.20,25.56 L196.61,25.19 L197.02,25.21 L197.42,25.33 L197.83,25.96 L198.24,25.52 L198.64,25.72 L199.05,25.81 L199.46,26.46 L199.87,26.57 L200.27,26.12 L200.68,25.00 L201.09,24.88 L201.50,24.75 L201.90,25.41 L202.31,25.44 L202.72,25.79 L203.13,25.93 L203.53,25.82 L203.94,25.20 L204.35,25.67 L204.75,25.37 L205.16,25.83 L205.57,25.46 L205.98,25.52 L206.38,25.37 L206.79,25.17 L207.20,25.09 L207.61,25.15 L208.01,25.77 L208.42,25.47 L208.83,25.03 L209.24,24.18 L209.64,24.31 L210.05,25.36 L210.46,25.67 L210.86,26.19 L211.27,25.96 L211.68,25.66 L212.09,25.66 L212.49,25.53 L212.90,26.35 L213.31,26.17 L213.72,26.11 L214.12,25.77 L214.53,25.93 L214.94,25.43 L215.35,25.57 L215.75,25.67 L216.16,26.43 L216.57,25.75 L216.97,24.87 L217.38,24.55 L217.79,25.09 L218.20,25.81 L218.60,25.60 L219.01,25.66 L219.42,25.13 L219.83,25.04 L220.23,24.76 L220.64,24.99 L221.05,25.18 L221.46,24.77 L221.86,25.25 L222.27,25.13 L222.68,25.68 L223.09,25.60 L223.49,25.91 L223.90,25.87 L224.31,25.93 L224.71,26.41 L225.12,26.62 L225.53,25.94 L225.94,24.93 L226.34,24.48 L226.75,24.56 L227.16,25.27 L227.57,25.47 L227.97,25.73 L228.38,25.90 L228.79,26.16 L229.20,26.21 L229.60,26.00 L230.01,26.02 L230.42,25.94 L230.82,25.93 L231.23,25.34 L231.64,25.46 L232.05,25.47 L232.45,25.73 L232.86,25.78 L233.27,25.88 L233.68,26.03 L234.08,25.78 L234.49,25.41 L234.90,24.93 L235.31,25.63 L235.71,25.92 L236.12,26.41 L236.53,25.88 L236.93,25.90 L237.34,25.93 L237.75,25.76 L238.16,25.59 L238.56,25.77 L238.97,25.62 L239.38,25.39 L239.79,25.23 L240.19,25.37 L240.60,25.87 L241.01,25.39 L241.42,25.69 L241.82,25.71 L242.23,26.14 L242.64,26.29 L243.05,26.01 L243.45,25.86 L243.86,25.64 L244.27,25.85 L244.67,26.94 L245.08,26.93 L245.49,27.31 L245.90,26.21 L246.30,25.92 L246.71,25.30 L247.12,25.49 L247.53,25.86 L247.93,25.98 L248.34,26.03 L248.75,26.14 L249.16,26.37 L249.56,25.88 L249.97,25.72 L250.38,25.19 L250.78,25.60 L251.19,25.58 L251.60,25.90 L252.01,25.70 L252.41,25.49 L252.82,25.38 L253.23,25.70 L253.64,26.16 L254.04,25.76 L254.45,25.65 L254.86,25.52 L255.27,25.58 L255.67,25.19 L256.08,24.96 L256.49,25.49 L256.89,25.14 L257.30,25.18 L257.71,24.91 L258.12,25.63 L258.52,26.15 L258.93,26.68 L259.34,26.52 L259.75,26.01 L260.15,25.70 L260.56,26.15 L260.97,26.68 L261.38,26.70 L261.78,26.79 L262.19,26.13 L262.60,25.71 L263.01,24.50 L263.41,24.51 L263.82,25.01 L264.23,26.06 L264.63,27.28 L265.04,27.29 L265.45,27.09 L265.86,25.85 L266.26,25.51 L266.67,25.29 L267.08,25.51 L267.49,25.50 L267.89,25.26 L268.30,25.62 L268.71,25.94 L269.12,26.75 L269.52,25.99 L269.93,25.50 L270.34,24.89 L270.74,25.69 L271.15,26.01 L271.56,26.30 L271.97,25.94 L272.37,26.04 L272.78,25.83 L273.19,25.97 L273.60,25.68 L274.00,25.76 L274.41,25.73 L274.82,26.01 L275.23,26.20 L275.63,25.89 L276.04,25.94 L276.45,25.74 L276.85,26.08 L277.26,26.43 L277.67,26.26 L278.08,26.45 L278.48,25.84 L278.89,25.98 L279.30,26.15 L279.71,26.61 L280.11,26.88 L280.52,26.65 L280.93,26.72 L281.34,26.36 L281.74,26.20 L282.15,25.76 L282.56,26.09 L282.96,25.94 L283.37,26.27 L283.78,26.16 L284.19,26.08 L284.59,25.86 L285.00,25.98 L285.41,26.46 L285.82,26.43 L286.22,26.20 L286.63,25.97 L287.04,26.24 L287.45,26.18 L287.85,25.41 L288.26,25.28 L288.67,25.34 L289.08,25.94 L289.48,26.59 L289.89,26.65 L290.30,26.96 L290.70,25.84 L291.11,25.95 L291.52,25.98 L291.93,26.43 L292.33,26.32 L292.74,26.26 L293.15,26.21 L293.56,26.65 L293.96,26.55 L294.37,26.32 L294.78,25.38 L295.19,25.12 L295.59,25.27 L296.00,25.49" fill="none" stroke="#ff00ff" stroke-width="3.0" stroke-linejoin="round" stroke-linecap="butt" />
<path d="M52.00,91.21 L52.41,90.03 L52.81,88.85 L53.22,88.13 L53.63,87.88 L54.04,87.62 L54.44,87.36 L54.85,87.11 L55.26,86.85 L55.67,86.60 L56.07,86.34 L56.48,86.08 L56.89,85.83 L57.30,85.69 L57.70,85.66 L58.11,85.64 L58.52,85.61 L58.92,85.58 L59.33,85.55 L59.74,85.52 L60.15,85.50 L60.55,85.47 L60.96,85.44 L61.37,85.41 L61.78,85.38 L62.18,85.36 L62.59,85.33 L63.00,85.30 L63.41,85.27 L63.81,85.25 L64.22,85.22 L64.63,85.19 L65.04,85.16 L65.44,85.13 L65.85,85.11 L66.26,85.08 L66.66,85.05 L67.07,85.02 L67.48,84.99 L67.89,84.97 L68.29,84.94 L68.70,84.91 L69.11,84.88 L69.52,84.86 L69.92,84.83 L70.33,84.80 L70.74,84.77 L71.15,84.74 L71.55,84.72 L71.96,84.69 L72.37,84.66 L72.77,84.63 L73.18,84.60 L73.59,84.58 L74.00,84.55 L74.40,84.52 L74.81,84.49 L75.22,84.47 L75.63,84.44 L76.03,84.41 L76.44,84.38 L76.85,84.35 L77.26,84.33 L77.66,84.30 L78.07,84.27 L78.48,84.24 L78.88,84.21 L79.29,84.19 L79.70,84.16 L80.11,84.13 L80.51,84.10 L80.92,84.08 L81.33,84.05 L81.74,84.02 L82.14,83.99 L82.55,83.96 L82.96,83.94 L83.37,83.91 L83.77,83.88 L84.18,83.85 L84.59,83.82 L84.99,83.80 L85.40,83.77 L85.81,83.74 L86.22,83.71 L86.62,83.69 L87.03,83.66 L87.44,83.63 L87.85,83.60 L88.25,83.57 L88.66,83.55 L89.07,83.52 L89.48,83.49 L89.88,83.46 L90.29,83.43 L90.70,83.41 L91.11,83.38 L91.51,83.35 L91.92,83.32 L92.33,83.30 L92.73,83.27 L93.14,83.24 L93.55,83.21 L93.96,83.18 L94.36,83.16 L94.77,83.13 L95.18,83.10 L95.59,83.07 L95.99,83.04 L96.40,83.02 L96.81,82.99 L97.22,82.96 L97.62,82.93 L98.03,82.91 L98.44,82.88 L98.84,82.85 L99.25,82.82 L99.66,82.79 L100.07,82.77 L100.47,82.74 L100.88,82.71 L101.29,82.68 L101.70,82.65 L102.10,82.63 L102.51,82.60 L102.92,82.57 L103.33,82.54 L103.73,82.52 L104.14,82.49 L104.55,82.46 L104.95,82.43 L105.36,82.40 L105.77,82.38 L106.18,82.35 L106.58,82.32 L106.99,82.29 L107.40,82.26 L107.81,82.24 L108.21,82.21 L108.62,82.18 L109.03,82.15 L109.44,82.13 L109.84,82.10 L110.25,82.07 L110.66,82.04 L111.07,82.01 L111.47,81.99 L111.88,81.96 L112.29,81.93 L112.69,81.90 L113.10,81.87 L113.51,81.85 L113.92,81.82 L114.32,81.79 L114.73,81.76 L115.14,81.74 L115.55,81.71 L115.95,81.68 L116.36,81.65 L116.77,81.62 L117.18,81.60 L117.58,81.57 L117.99,81.54 L118.40,81.51 L118.80,81.48 L119.21,81.46 L119.62,81.43 L120.03,81.40 L120.43,81.37 L120.84,81.35 L121.25,81.32 L121.66,81.29 L122.06,81.26 L122.47,81.23 L122.88,81.21 L123.29,81.18 L123.69,81.15 L124.10,81.12 L124.51,81.09 L124.91,81.07 L125.32,81.04 L125.73,81.01 L126.14,80.98 L126.54,80.96 L126.95,80.93 L127.36,80.90 L127.77,80.87 L128.17,80.84 L128.58,80.82 L128.99,80.79 L129.40,80.76 L129.80,80.73 L130.21,80.70 L130.62,80.68 L131.03,80.65 L131.43,80.62 L131.84,80.59 L132.25,80.57 L132.65,80.54 L133.06,80.51 L133.47,80.48 L133.88,80.45 L134.28,80.43 L134.69,80.40 L135.10,80.37 L135.51,80.34 L135.91,80.31 L136.32,80.29 L136.73,80.26 L137.14,80.23 L137.54,80.20 L137.95,80.18 L138.36,80.15 L138.76,80.12 L139.17,80.09 L139.58,80.06 L139.99,80.04 L140.39,80.01 L140.80,79.98 L141.21,79.95 L141.62,79.92 L142.02,79.90 L142.43,79.87 L142.84,79.84 L143.25,79.81 L143.65,79.79 L144.06,79.76 L144.47,79.73 L144.87,79.70 L145.28,79.67 L145.69,79.65 L146.10,79.62 L146.50,79.59 L146.91,79.56 L147.32,79.53 L147.73,79.51 L148.13,79.48 L148.54,79.45 L148.95,79.42 L149.36,79.40 L149.76,79.37 L150.17,79.34 L150.58,79.31 L150.98,79.28 L151.39,79.26 L151.80,79.23 L152.21,79.20 L152.61,79.17 L153.02,79.14 L153.43,79.12 L153.84,79.09 L154.24,79.06 L154.65,79.03 L155.06,79.01 L155.47,78.98 L155.87,78.95 L156.28,78.92 L156.69,78.89 L157.10,78.87 L157.50,78.84 L157.91,78.81 L158.32,78.78 L158.72,78.75 L159.13,78.73 L159.54,78.70 L159.95,78.67 L160.35,78.64 L160.76,78.62 L161.17,78.59 L161.58,78.56 L161.98,78.53 L162.39,78.50 L162.80,78.48 L163.21,78.45 L163.61,78.42 L164.02,78.39 L164.43,78.36 L164.83,78.34 L165.24,78.31 L165.65,78.28 L166.06,78.25 L166.46,78.23 L166.87,78.20 L167.28,78.17 L167.69,78.14 L168.09,78.11 L168.50,78.09 L168.91,78.06 L169.32,78.03 L169.72,78.00 L170.13,77.97 L170.54,77.95 L170.94,77.92 L171.35,77.89 L171.76,77.86 L172.17,77.84 L172.57,77.81 L172.98,77.78 L173.39,77.75 L173.80,77.72 L174.20,77.70 L174.61,77.67 L175.02,77.64 L175.43,77.61 L175.83,77.58 L176.24,77.56 L176.65,77.53 L177.06,77.50 L177.46,77.47 L177.87,77.45 L178.28,77.42 L178.68,77.39 L179.09,77.36 L179.50,77.33 L179.91,77.31 L180.31,77.28 L180.72,77.25 L181.13,77.22 L181.54,77.19 L181.94,77.17 L182.35,77.14 L182.76,77.11 L183.17,77.08 L183.57,77.06 L183.98,77.03 L184.39,77.00 L184.79,76.97 L185.20,76.94 L185.61,76.92 L186.02,76.89 L186.42,76.86 L186.83,76.83 L187.24,76.80 L187.65,76.78 L188.05,76.75 L188.46,76.72 L188.87,76.69 L189.28,76.67 L189.68,76.64 L190.09,76.61 L190.50,76.58 L190.90,76.55 L191.31,76.53 L191.72,76.50 L192.13,76.47 L192.53,76.44 L192.94,76.41 L193.35,76.39 L193.76,76.36 L194.16,76.33 L194.57,76.30 L194.98,76.28 L195.39,76.25 L195.79,76.22 L196.20,76.19 L196.61,76.16 L197.02,76.14 L197.42,76.11 L197.83,76.08 L198.24,76.05 L198.64,76.02 L199.05,76.00 L199.46,75.97 L199.87,75.94 L200.27,75.91 L200.68,75.89 L201.09,75.86 L201.50,75.83 L201.90,75.80 L202.31,75.77 L202.72,75.75 L203.13,75.72 L203.53,75.69 L203.94,75.66 L204.35,75.63 L204.75,75.61 L205.16,75.58 L205.57,75.55 L205.98,75.52 L206.38,75.50 L206.79,75.47 L207.20,75.44 L207.61,75.41 L208.01,75.38 L208.42,75.36 L208.83,75.33 L209.24,75.30 L209.64,75.27 L210.05,75.24 L210.46,75.22 L210.86,75.19 L211.27,75.16 L211.68,75.13 L212.09,75.11 L212.49,75.08 L212.90,75.05 L213.31,75.02 L213.72,74.99 L214.12,74.97 L214.53,74.94 L214.94,74.91 L215.35,74.88 L215.75,74.86 L216.16,74.83 L216.57,74.80 L216.97,74.77 L217.38,74.74 L217.79,74.72 L218.20,74.69 L218.60,74.66 L219.01,74.63 L219.42,74.60 L219.83,74.58 L220.23,74.55 L220.64,74.52 L221.05,74.49 L221.46,74.47 L221.86,74.44 L222.27,74.41 L222.68,74.38 L223.09,74.35 L223.49,74.33 L223.90,74.30 L224.31,74.27 L224.71,74.24 L225.12,74.21 L225.53,74.19 L225.94,74.16 L226.34,74.13 L226.75,74.10 L227.16,74.08 L227.57,74.05 L227.97,74.02 L228.38,73.99 L228.79,73.96 L229.20,73.94 L229.60,73.91 L230.01,73.88 L230.42,73.85 L230.82,73.82 L231.23,73.80 L231.64,73.77 L232.05,73.74 L232.45,73.71 L232.86,73.69 L233.27,73.66 L233.68,73.63 L234.08,73.60 L234.49,73.57 L234.90,73.55 L235.31,73.52 L235.71,73.49 L236.12,73.46 L236.53,73.43 L236.93,73.41 L237.34,73.38 L237.75,73.35 L238.16,73.32 L238.56,73.30 L238.97,73.27 L239.38,73.24 L239.79,73.21 L240.19,73.18 L240.60,73.16 L241.01,73.13 L241.42,73.10 L241.82,73.07 L242.23,73.04 L242.64,73.02 L243.05,72.99 L243.45,72.96 L243.86,72.93 L244.27,72.91 L244.67,72.88 L245.08,72.85 L245.49,72.82 L245.90,72.79 L246.30,72.77 L246.71,72.74 L247.12,72.71 L247.53,72.68 L247.93,72.65 L248.34,72.63 L248.75,72.60 L249.16,72.57 L249.56,72.54 L249.97,72.52 L250.38,72.49 L250.78,72.46 L251.19,72.43 L251.60,72.40 L252.01,72.38 L252.41,72.35 L252.82,72.32 L253.23,72.29 L253.64,72.26 L254.04,72.24 L254.45,72.21 L254.86,72.18 L255.27,72.15 L255.67,72.13 L256.08,72.10 L256.49,72.07 L256.89,72.04 L257.30,72.01 L257.71,71.99 L258.12,71.96 L258.52,71.93 L258.93,71.90 L259.34,71.87 L259.75,71.85 L260.15,71.82 L260.56,71.79 L260.97,71.76 L261.38,71.74 L261.78,71.71 L262.19,71.68 L262.60,71.65 L263.01,71.62 L263.41,71.60 L263.82,71.57 L264.23,71.54 L264.63,71.51 L265.04,71.48 L265.45,71.46 L265.86,71.43 L266.26,71.40 L266.67,71.37 L267.08,71.35 L267.49,71.32 L267.89,71.29 L268.30,71.26 L268.71,71.23 L269.12,71.21 L269.52,71.18 L269.93,71.15 L270.34,71.12 L270.74,71.09 L271.15,71.07 L271.56,71.04 L271.97,71.01 L272.37,70.98 L272.78,70.96 L273.19,70.93 L273.60,70.90 L274.00,70.87 L274.41,70.84 L274.82,70.82 L275.23,70.79 L275.63,70.76 L276.04,70.73 L276.45,70.70 L276.85,70.68 L277.26,70.65 L277.67,70.62 L278.08,70.59 L278.48,70.57 L278.89,70.54 L279.30,70.51 L279.71,70.48 L280.11,70.45 L280.52,70.43 L280.93,70.40 L281.34,70.37 L281.74,70.34 L282.15,70.31 L282.56,70.29 L282.96,70.26 L283.37,70.23 L283.78,70.20 L284.19,70.18 L284.59,70.15 L285.00,70.12 L285.41,70.09 L285.82,70.06 L286.22,70.04 L286.63,70.01 L287.04,69.98 L287.45,69.95 L287.85,69.92 L288.26,69.90 L288.67,69.87 L289.08,69.84 L289.48,69.81 L289.89,69.79 L290.30,69.76 L290.70,69.73 L291.11,69.70 L291.52,69.67 L291.93,69.65 L292.33,69.62 L292.74,69.59 L293.15,69.45 L293.56,69.19 L293.96,68.92 L294.37,68.66 L294.78,68.40 L295.19,68.13 L295.59,67.87 L296.00,67.61" fill="none" stroke="#0000ff" stroke-width="2.6" stroke-linejoin="round" stroke-linecap="butt" />
<path d="M52.00,85.00 L52.41,86.45 L52.81,87.56 L53.22,88.52 L53.63,89.41 L54.04,90.28 L54.44,90.94 L54.85,92.29 L55.26,93.14 L55.67,93.64 L56.07,94.46 L56.48,95.24 L56.89,96.14 L57.30,97.23 L57.70,98.38 L58.11,99.11 L58.52,100.05 L58.92,101.09 L59.33,102.08 L59.74,102.91 L60.15,103.60 L60.55,103.84 L60.96,104.35 L61.37,104.72 L61.78,105.15 L62.18,105.32 L62.59,105.62 L63.00,105.94 L63.41,106.31 L63.81,106.72 L64.22,106.84 L64.63,107.01 L65.04,107.36 L65.44,107.58 L65.85,107.81 L66.26,108.27 L66.66,108.37 L67.07,108.41 L67.48,108.38 L67.89,108.46 L68.29,108.46 L68.70,108.60 L69.11,108.76 L69.52,108.72 L69.92,108.84 L70.33,109.30 L70.74,109.37 L71.15,109.59 L71.55,109.82 L71.96,109.93 L72.37,110.03 L72.77,109.88 L73.18,109.77 L73.59,109.67 L74.00,109.74 L74.40,109.77 L74.81,109.32 L75.22,109.40 L75.63,109.55 L76.03,109.78 L76.44,109.86 L76.85,109.67 L77.26,110.00 L77.66,109.85 L78.07,109.85 L78.48,109.93 L78.88,109.43 L79.29,109.48 L79.70,109.08 L80.11,108.93 L80.51,108.64 L80.92,108.51 L81.33,108.63 L81.74,108.42 L82.14,108.44 L82.55,108.39 L82.96,108.85 L83.37,108.54 L83.77,108.47 L84.18,108.60 L84.59,108.53 L84.99,108.57 L85.40,108.75 L85.81,108.66 L86.22,108.39 L86.62,108.56 L87.03,108.27 L87.44,108.15 L87.85,108.04 L88.25,107.65 L88.66,107.52 L89.07,107.33 L89.48,107.29 L89.88,107.07 L90.29,107.06 L90.70,106.90 L91.11,107.05 L91.51,107.02 L91.92,106.89 L92.33,106.73 L92.73,106.52 L93.14,106.68 L93.55,106.53 L93.96,106.34 L94.36,106.15 L94.77,105.92 L95.18,105.77 L95.59,105.82 L95.99,105.69 L96.40,105.59 L96.81,105.69 L97.22,105.71 L97.62,105.34 L98.03,105.20 L98.44,105.11 L98.84,104.76 L99.25,104.69 L99.66,104.45 L100.07,104.18 L100.47,104.03 L100.88,103.82 L101.29,103.90 L101.70,103.93 L102.10,103.88 L102.51,103.84 L102.92,103.84 L103.33,104.27 L103.73,104.09 L104.14,104.21 L104.55,104.04 L104.95,103.66 L105.36,103.52 L105.77,103.38 L106.18,103.12 L106.58,102.73 L106.99,102.82 L107.40,102.70 L107.81,102.66 L108.21,102.88 L108.62,102.97 L109.03,102.90 L109.44,103.04 L109.84,102.79 L110.25,102.71 L110.66,102.97 L111.07,103.08 L111.47,102.58 L111.88,102.74 L112.29,102.59 L112.69,102.31 L113.10,102.19 L113.51,102.23 L113.92,101.98 L114.32,101.73 L114.73,101.78 L115.14,101.59 L115.55,101.70 L115.95,101.56 L116.36,101.42 L116.77,101.13 L117.18,101.09 L117.58,100.98 L117.99,100.99 L118.40,100.71 L118.80,100.64 L119.21,100.68 L119.62,100.77 L120.03,100.89 L120.43,100.70 L120.84,100.68 L121.25,100.67 L121.66,100.65 L122.06,100.59 L122.47,100.53 L122.88,100.38 L123.29,100.11 L123.69,99.92 L124.10,100.00 L124.51,100.07 L124.91,100.01 L125.32,99.68 L125.73,99.31 L126.14,99.21 L126.54,99.29 L126.95,99.24 L127.36,99.12 L127.77,99.04 L128.17,98.64 L128.58,98.58 L128.99,98.69 L129.40,98.62 L129.80,98.18 L130.21,98.17 L130.62,97.81 L131.03,97.67 L131.43,98.13 L131.84,97.90 L132.25,97.72 L132.65,97.65 L133.06,97.79 L133.47,97.73 L133.88,97.95 L134.28,97.56 L134.69,97.24 L135.10,97.32 L135.51,97.42 L135.91,97.31 L136.32,97.23 L136.73,97.11 L137.14,97.13 L137.54,97.22 L137.95,96.98 L138.36,97.07 L138.76,97.09 L139.17,97.07 L139.58,96.97 L139.99,96.94 L140.39,96.96 L140.80,96.91 L141.21,97.32 L141.62,97.32 L142.02,97.19 L142.43,97.30 L142.84,97.28 L143.25,96.90 L143.65,96.53 L144.06,96.46 L144.47,96.38 L144.87,96.31 L145.28,96.48 L145.69,96.47 L146.10,96.68 L146.50,97.15 L146.91,97.24 L147.32,97.43 L147.73,97.45 L148.13,97.51 L148.54,97.26 L148.95,97.14 L149.36,96.81 L149.76,96.54 L150.17,96.51 L150.58,96.24 L150.98,96.20 L151.39,95.67 L151.80,95.53 L152.21,95.52 L152.61,95.77 L153.02,95.82 L153.43,95.98 L153.84,96.13 L154.24,95.80 L154.65,96.06 L155.06,96.24 L155.47,96.05 L155.87,95.99 L156.28,95.96 L156.69,95.74 L157.10,95.71 L157.50,95.71 L157.91,95.81 L158.32,95.45 L158.72,95.62 L159.13,95.18 L159.54,95.32 L159.95,95.13 L160.35,95.14 L160.76,95.34 L161.17,95.15 L161.58,95.27 L161.98,95.33 L162.39,95.40 L162.80,95.32 L163.21,95.34 L163.61,95.09 L164.02,94.79 L164.43,95.01 L164.83,94.85 L165.24,94.56 L165.65,94.74 L166.06,94.73 L166.46,94.94 L166.87,95.13 L167.28,95.10 L167.69,94.86 L168.09,95.19 L168.50,95.30 L168.91,94.99 L169.32,94.86 L169.72,94.67 L170.13,94.27 L170.54,94.24 L170.94,94.15 L171.35,94.04 L171.76,94.14 L172.17,94.46 L172.57,94.44 L172.98,94.36 L173.39,94.45 L173.80,94.40 L174.20,94.34 L174.61,94.19 L175.02,94.08 L175.43,94.17 L175.83,94.14 L176.24,94.20 L176.65,94.30 L177.06,94.37 L177.46,94.53 L177.87,94.67 L178.28,94.51 L178.68,94.17 L179.09,94.15 L179.50,93.92 L179.91,93.82 L180.31,93.89 L180.72,93.68 L181.13,93.24 L181.54,93.28 L181.94,93.10 L182.35,92.79 L182.76,92.62 L183.17,92.66 L183.57,92.22 L183.98,92.17 L184.39,92.42 L184.79,92.32 L185.20,92.36 L185.61,92.50 L186.02,92.69 L186.42,92.37 L186.83,92.70 L187.24,92.82 L187.65,92.64 L188.05,92.48 L188.46,92.37 L188.87,92.49 L189.28,92.28 L189.68,92.35 L190.09,91.98 L190.50,91.97 L190.90,92.01 L191.31,92.10 L191.72,92.42 L192.13,92.34 L192.53,92.30 L192.94,92.39 L193.35,92.68 L193.76,92.36 L194.16,92.22 L194.57,92.01 L194.98,91.87 L195.39,91.74 L195.79,91.72 L196.20,91.71 L196.61,91.67 L197.02,91.64 L197.42,91.53 L197.83,91.77 L198.24,91.98 L198.64,92.13 L199.05,92.36 L199.46,92.26 L199.87,92.04 L200.27,92.13 L200.68,92.40 L201.09,92.18 L201.50,91.93 L201.90,91.70 L202.31,91.62 L202.72,91.20 L203.13,91.14 L203.53,91.19 L203.94,91.19 L204.35,91.23 L204.75,91.29 L205.16,91.34 L205.57,91.32 L205.98,91.52 L206.38,91.65 L206.79,91.61 L207.20,91.62 L207.61,91.68 L208.01,91.43 L208.42,91.32 L208.83,91.03 L209.24,91.20 L209.64,90.96 L210.05,90.78 L210.46,90.57 L210.86,90.64 L211.27,90.77 L211.68,90.60 L212.09,90.53 L212.49,90.38 L212.90,90.38 L213.31,90.44 L213.72,90.45 L214.12,90.23 L214.53,89.89 L214.94,89.91 L215.35,90.09 L215.75,90.13 L216.16,90.12 L216.57,89.99 L216.97,90.02 L217.38,89.67 L217.79,89.73 L218.20,89.74 L218.60,89.48 L219.01,89.26 L219.42,89.32 L219.83,89.26 L220.23,89.25 L220.64,89.54 L221.05,89.84 L221.46,89.64 L221.86,90.06 L222.27,90.08 L222.68,90.14 L223.09,90.31 L223.49,90.16 L223.90,90.01 L224.31,89.59 L224.71,89.48 L225.12,89.14 L225.53,89.08 L225.94,89.02 L226.34,88.76 L226.75,88.68 L227.16,88.74 L227.57,88.80 L227.97,89.02 L228.38,89.01 L228.79,89.04 L229.20,88.99 L229.60,89.15 L230.01,89.04 L230.42,89.17 L230.82,89.21 L231.23,88.96 L231.64,89.31 L232.05,89.43 L232.45,89.23 L232.86,89.32 L233.27,89.04 L233.68,89.12 L234.08,88.82 L234.49,88.78 L234.90,88.26 L235.31,88.17 L235.71,88.18 L236.12,88.04 L236.53,88.25 L236.93,88.02 L237.34,88.21 L237.75,88.26 L238.16,88.49 L238.56,88.48 L238.97,88.47 L239.38,88.50 L239.79,88.42 L240.19,88.19 L240.60,88.32 L241.01,88.43 L241.42,88.35 L241.82,88.35 L242.23,88.33 L242.64,88.21 L243.05,88.21 L243.45,88.31 L243.86,87.95 L244.27,87.91 L244.67,87.66 L245.08,87.61 L245.49,87.66 L245.90,87.68 L246.30,87.70 L246.71,87.45 L247.12,87.26 L247.53,87.05 L247.93,87.10 L248.34,87.02 L248.75,86.86 L249.16,86.68 L249.56,86.53 L249.97,86.49 L250.38,86.86 L250.78,87.09 L251.19,86.90 L251.60,86.80 L252.01,86.85 L252.41,86.65 L252.82,86.87 L253.23,87.00 L253.64,86.92 L254.04,87.05 L254.45,87.09 L254.86,87.26 L255.27,87.27 L255.67,87.50 L256.08,87.31 L256.49,87.25 L256.89,87.16 L257.30,87.09 L257.71,87.19 L258.12,87.19 L258.52,87.04 L258.93,86.86 L259.34,86.93 L259.75,86.61 L260.15,86.51 L260.56,86.18 L260.97,86.12 L261.38,85.91 L261.78,85.79 L262.19,85.66 L262.60,85.80 L263.01,85.90 L263.41,85.87 L263.82,85.79 L264.23,85.72 L264.63,85.83 L265.04,86.08 L265.45,85.96 L265.86,85.72 L266.26,86.02 L266.67,86.01 L267.08,86.15 L267.49,86.43 L267.89,86.54 L268.30,86.56 L268.71,86.74 L269.12,86.75 L269.52,86.56 L269.93,86.54 L270.34,86.38 L270.74,86.38 L271.15,86.08 L271.56,85.95 L271.97,86.12 L272.37,86.15 L272.78,86.10 L273.19,86.15 L273.60,86.39 L274.00,86.14 L274.41,85.80 L274.82,85.80 L275.23,85.83 L275.63,85.69 L276.04,85.56 L276.45,85.43 L276.85,85.35 L277.26,85.12 L277.67,85.47 L278.08,85.45 L278.48,85.27 L278.89,85.29 L279.30,85.24 L279.71,85.19 L280.11,85.01 L280.52,84.99 L280.93,84.84 L281.34,84.54 L281.74,84.61 L282.15,84.78 L282.56,84.74 L282.96,84.98 L283.37,84.98 L283.78,85.09 L284.19,85.13 L284.59,85.28 L285.00,84.88 L285.41,84.97 L285.82,84.93 L286.22,84.40 L286.63,84.33 L287.04,84.28 L287.45,84.09 L287.85,83.75 L288.26,84.07 L288.67,83.68 L289.08,83.80 L289.48,84.00 L289.89,83.95 L290.30,83.83 L290.70,83.95 L291.11,84.15 L291.52,84.05 L291.93,84.12 L292.33,84.09 L292.74,84.15 L293.15,84.29 L293.56,84.14 L293.96,84.07 L294.37,84.23 L294.78,83.96 L295.19,83.94 L295.59,83.82 L296.00,83.78" fill="none" stroke="#808080" stroke-width="2.6" stroke-linejoin="round" stroke-linecap="butt" />
</g>
<rect x="52" y="14.5" width="244" height="196.7" fill="none" stroke="#3c3c3c" stroke-width="1"/>
<line x1="52.00" y1="14.50" x2="55.50" y2="14.50" stroke="#3c3c3c" stroke-width="1"/>
<line x1="296.00" y1="14.50" x2="292.50" y2="14.50" stroke="#3c3c3c" stroke-width="1"/>
<line x1="52.00" y1="24.34" x2="54.00" y2="24.34" stroke="#3c3c3c" stroke-width="1"/>
<line x1="296.00" y1="24.34" x2="294.00" y2="24.34" stroke="#3c3c3c" stroke-width="1"/>
<line x1="52.00" y1="34.17" x2="55.50" y2="34.17" stroke="#3c3c3c" stroke-width="1"/>
<line x1="296.00" y1="34.17" x2="292.50" y2="34.17" stroke="#3c3c3c" stroke-width="1"/>
<line x1="52.00" y1="44.01" x2="54.00" y2="44.01" stroke="#3c3c3c" stroke-width="1"/>
<line x1="296.00" y1="44.01" x2="294.00" y2="44.01" stroke="#3c3c3c" stroke-width="1"/>
<line x1="52.00" y1="53.84" x2="55.50" y2="53.84" stroke="#3c3c3c" stroke-width="1"/>
<line x1="296.00" y1="53.84" x2="292.50" y2="53.84" stroke="#3c3c3c" stroke-width="1"/>
<line x1="52.00" y1="63.67" x2="54.00" y2="63.67" stroke="#3c3c3c" stroke-width="1"/>
<line x1="296.00" y1="63.67" x2="294.00" y2="63.67" stroke="#3c3c3c" stroke-width="1"/>
<line x1="52.00" y1="73.51" x2="55.50" y2="73.51" stroke="#3c3c3c" stroke-width="1"/>
<line x1="296.00" y1="73.51" x2="292.50" y2="73.51" stroke="#3c3c3c" stroke-width="1"/>
<line x1="52.00" y1="83.34" x2="54.00" y2="83.34" stroke="#3c3c3c" stroke-width="1"/>
<line x1="296.00" y1="83.34" x2="294.00" y2="83.34" stroke="#3c3c3c" stroke-width="1"/>
<line x1="52.00" y1="93.18" x2="55.50" y2="93.18" stroke="#3c3c3c" stroke-width="1"/>
<line x1="296.00" y1="93.18" x2="292.50" y2="93.18" stroke="#3c3c3c" stroke-width="1"/>
<line x1="52.00" y1="103.02" x2="54.00" y2="103.02" stroke="#3c3c3c" stroke-width="1"/>
<line x1="296.00" y1="103.02" x2="294.00" y2="103.02" stroke="#3c3c3c" stroke-width="1"/>
<line x1="52.00" y1="112.85" x2="55.50" y2="112.85" stroke="#3c3c3c" stroke-width="1"/>
<line x1="296.00" y1="112.85" x2="292.50" y2="112.85" stroke="#3c3c3c" stroke-width="1"/>
<line x1="52.00" y1="122.69" x2="54.00" y2="122.69" stroke="#3c3c3c" stroke-width="1"/>
<line x1="296.00" y1="122.69" x2="294.00" y2="122.69" stroke="#3c3c3c" stroke-width="1"/>
<line x1="52.00" y1="132.52" x2="55.50" y2="132.52" stroke="#3c3c3c" stroke-width="1"/>
<line x1="296.00" y1="132.52" x2="292.50" y2="132.52" stroke="#3c3c3c" stroke-width="1"/>
<line x1="52.00" y1="142.36" x2="54.00" y2="142.36" stroke="#3c3c3c" stroke-width="1"/>
<line x1="296.00" y1="142.36" x2="294.00" y2="142.36" stroke="#3c3c3c" stroke-width="1"/>
<line x1="52.00" y1="152.19" x2="55.50" y2="152.19" stroke="#3c3c3c" stroke-width="1"/>
<line x1="296.00" y1="152.19" x2="292.50" y2="152.19" stroke="#3c3c3c" stroke-width="1"/>
<line x1="52.00" y1="162.02" x2="54.00" y2="162.02" stroke="#3c3c3c" stroke-width="1"/>
<line x1="296.00" y1="162.02" x2="294.00" y2="162.02" stroke="#3c3c3c" stroke-width="1"/>
<line x1="52.00" y1="171.86" x2="55.50" y2="171.86" stroke="#3c3c3c" stroke-width="1"/>
<line x1="296.00" y1="171.86" x2="292.50" y2="171.86" stroke="#3c3c3c" stroke-width="1"/>
<line x1="52.00" y1="181.70" x2="54.00" y2="181.70" stroke="#3c3c3c" stroke-width="1"/>
<line x1="296.00" y1="181.70" x2="294.00" y2="181.70" stroke="#3c3c3c" stroke-width="1"/>
<line x1="52.00" y1="191.53" x2="55.50" y2="191.53" stroke="#3c3c3c" stroke-width="1"/>
<line x1="296.00" y1="191.53" x2="292.50" y2="191.53" stroke="#3c3c3c" stroke-width="1"/>
<line x1="52.00" y1="201.37" x2="54.00" y2="201.37" stroke="#3c3c3c" stroke-width="1"/>
<line x1="296.00" y1="201.37" x2="294.00" y2="201.37" stroke="#3c3c3c" stroke-width="1"/>
<line x1="52.00" y1="211.20" x2="55.50" y2="211.20" stroke="#3c3c3c" stroke-width="1"/>
<line x1="296.00" y1="211.20" x2="292.50" y2="211.20" stroke="#3c3c3c" stroke-width="1"/>
<line x1="52.00" y1="211.20" x2="52.00" y2="207.70" stroke="#3c3c3c" stroke-width="1"/>
<line x1="52.00" y1="14.50" x2="52.00" y2="18.00" stroke="#3c3c3c" stroke-width="1"/>
<line x1="72.33" y1="211.20" x2="72.33" y2="209.20" stroke="#3c3c3c" stroke-width="1"/>
<line x1="72.33" y1="14.50" x2="72.33" y2="16.50" stroke="#3c3c3c" stroke-width="1"/>
<line x1="92.67" y1="211.20" x2="92.67" y2="207.70" stroke="#3c3c3c" stroke-width="1"/>
<line x1="92.67" y1="14.50" x2="92.67" y2="18.00" stroke="#3c3c3c" stroke-width="1"/>
<line x1="113.00" y1="211.20" x2="113.00" y2="209.20" stroke="#3c3c3c" stroke-width="1"/>
<line x1="113.00" y1="14.50" x2="113.00" y2="16.50" stroke="#3c3c3c" stroke-width="1"/>
<line x1="133.33" y1="211.20" x2="133.33" y2="207.70" stroke="#3c3c3c" stroke-width="1"/>
<line x1="133.33" y1="14.50" x2="133.33" y2="18.00" stroke="#3c3c3c" stroke-width="1"/>
<line x1="153.67" y1="211.20" x2="153.67" y2="209.20" stroke="#3c3c3c" stroke-width="1"/>
<line x1="153.67" y1="14.50" x2="153.67" y2="16.50" stroke="#3c3c3c" stroke-width="1"/>
<line x1="174.00" y1="211.20" x2="174.00" y2="207.70" stroke="#3c3c3c" stroke-width="1"/>
<line x1="174.00" y1="14.50" x2="174.00" y2="18.00" stroke="#3c3c3c" stroke-width="1"/>
<line x1="194.33" y1="211.20" x2="194.33" y2="209.20" stroke="#3c3c3c" stroke-width="1"/>
<line x1="194.33" y1="14.50" x2="194.33" y2="16.50" stroke="#3c3c3c" stroke-width="1"/>
<line x1="214.67" y1="211.20" x2="214.67" y2="207.70" stroke="#3c3c3c" stroke-width="1"/>
<line x1="214.67" y1="14.50" x2="214.67" y2="18.00" stroke="#3c3c3c" stroke-width="1"/>
<line x1="235.00" y1="211.20" x2="235.00" y2="209.20" stroke="#3c3c3c" stroke-width="1"/>
<line x1="235.00" y1="14.50" x2="235.00" y2="16.50" stroke="#3c3c3c" stroke-width="1"/>
<line x1="255.33" y1="211.20" x2="255.33" y2="207.70" stroke="#3c3c3c" stroke-width="1"/>
<line x1="255.33" y1="14.50" x2="255.33" y2="18.00" stroke="#3c3c3c" stroke-width="1"/>
<line x1="275.67" y1="211.20" x2="275.67" y2="209.20" stroke="#3c3c3c" stroke-width="1"/>
<line x1="275.67" y1="14.50" x2="275.67" y2="16.50" stroke="#3c3c3c" stroke-width="1"/>
<line x1="296.00" y1="211.20" x2="296.00" y2="207.70" stroke="#3c3c3c" stroke-width="1"/>
<line x1="296.00" y1="14.50" x2="296.00" y2="18.00" stroke="#3c3c3c" stroke-width="1"/>
<text x="47.80" y="18.80" font-size="12.5" text-anchor="end" fill="#111"  stroke="#111" stroke-width="0.3">0.0</text>
<text x="47.80" y="38.47" font-size="12.5" text-anchor="end" fill="#111"  stroke="#111" stroke-width="0.3">-0.1</text>
<text x="47.80" y="58.14" font-size="12.5" text-anchor="end" fill="#111"  stroke="#111" stroke-width="0.3">-0.2</text>
<text x="47.80" y="77.81" font-size="12.5" text-anchor="end" fill="#111"  stroke="#111" stroke-width="0.3">-0.3</text>
<text x="47.80" y="97.48" font-size="12.5" text-anchor="end" fill="#111"  stroke="#111" stroke-width="0.3">-0.4</text>
<text x="47.80" y="117.15" font-size="12.5" text-anchor="end" fill="#111"  stroke="#111" stroke-width="0.3">-0.5</text>
<text x="47.80" y="136.82" font-size="12.5" text-anchor="end" fill="#111"  stroke="#111" stroke-width="0.3">-0.6</text>
<text x="47.80" y="156.49" font-size="12.5" text-anchor="end" fill="#111"  stroke="#111" stroke-width="0.3">-0.7</text>
<text x="47.80" y="176.16" font-size="12.5" text-anchor="end" fill="#111"  stroke="#111" stroke-width="0.3">-0.8</text>
<text x="47.80" y="195.83" font-size="12.5" text-anchor="end" fill="#111"  stroke="#111" stroke-width="0.3">-0.9</text>
<text x="47.80" y="215.50" font-size="12.5" text-anchor="end" fill="#111"  stroke="#111" stroke-width="0.3">-1.0</text>
<text x="52.00" y="226.00" font-size="12.5" text-anchor="middle" fill="#111"  stroke="#111" stroke-width="0.3">0</text>
<text x="92.67" y="226.00" font-size="12.5" text-anchor="middle" fill="#111"  stroke="#111" stroke-width="0.3">2</text>
<text x="133.33" y="226.00" font-size="12.5" text-anchor="middle" fill="#111"  stroke="#111" stroke-width="0.3">4</text>
<text x="174.00" y="226.00" font-size="12.5" text-anchor="middle" fill="#111"  stroke="#111" stroke-width="0.3">6</text>
<text x="214.67" y="226.00" font-size="12.5" text-anchor="middle" fill="#111"  stroke="#111" stroke-width="0.3">8</text>
<text x="255.33" y="226.00" font-size="12.5" text-anchor="middle" fill="#111"  stroke="#111" stroke-width="0.3">10</text>
<text x="296.00" y="226.00" font-size="12.5" text-anchor="middle" fill="#111"  stroke="#111" stroke-width="0.3">12</text>
<text x="174.30" y="240.80" font-size="13.3" text-anchor="middle" fill="#111"  stroke="#111" stroke-width="0.3">Time (h)</text>
<text transform="translate(15.6,105.2) rotate(-90)" font-size="13" text-anchor="middle" fill="#111" stroke="#111" stroke-width="0.3">Current Density (mA cm<tspan font-size="8.5" dy="-6">-2</tspan><tspan dy="6">)</tspan></text>
<line x1="128.2" y1="113.80" x2="156.8" y2="113.80" stroke="#000000" stroke-width="2.6" stroke-linecap="round"/>
<text x="160.50" y="118.30" font-size="13.0" text-anchor="start" fill="#111"  stroke="#111" stroke-width="0.3">-0.3 V | Au-Ag-Pd-750</text>
<line x1="128.2" y1="129.70" x2="156.8" y2="129.70" stroke="#ff00ff" stroke-width="2.6" stroke-linecap="round"/>
<text x="160.50" y="134.20" font-size="13.0" text-anchor="start" fill="#111"  stroke="#111" stroke-width="0.3">-0.3 V | Au-Ag-Pd-850</text>
<line x1="128.2" y1="145.60" x2="156.8" y2="145.60" stroke="#ff0000" stroke-width="2.6" stroke-linecap="round"/>
<text x="160.50" y="150.10" font-size="13.0" text-anchor="start" fill="#111"  stroke="#111" stroke-width="0.3">-0.4 V | Au-Ag-Pd-750</text>
<line x1="128.2" y1="161.50" x2="156.8" y2="161.50" stroke="#7b0000" stroke-width="2.6" stroke-linecap="round"/>
<text x="160.50" y="166.00" font-size="13.0" text-anchor="start" fill="#111"  stroke="#111" stroke-width="0.3">-0.4 V | Au-Ag-Pd-850</text>
<line x1="128.2" y1="177.40" x2="156.8" y2="177.40" stroke="#0000ff" stroke-width="2.6" stroke-linecap="round"/>
<text x="160.50" y="181.90" font-size="13.0" text-anchor="start" fill="#111"  stroke="#111" stroke-width="0.3">-0.5 V | Au-Ag-Pd-750</text>
<line x1="128.2" y1="193.30" x2="156.8" y2="193.30" stroke="#808080" stroke-width="2.6" stroke-linecap="round"/>
<text x="160.50" y="197.80" font-size="13.0" text-anchor="start" fill="#111"  stroke="#111" stroke-width="0.3">-0.5 V | Au-Ag-Pd-850</text>
<text x="307" y="14.4" font-family="Liberation Serif, serif" font-weight="bold" font-size="16" fill="#000">B</text>
<rect x="374.50" y="167.56" width="23.00" height="35.84" fill="#fff" stroke="#606060" stroke-width="1"/>
<line x1="386.00" y1="163.80" x2="386.00" y2="170.50" stroke="#444" stroke-width="1"/>
<line x1="384.10" y1="163.80" x2="387.90" y2="163.80" stroke="#444" stroke-width="1"/>
<line x1="384.10" y1="170.50" x2="387.90" y2="170.50" stroke="#444" stroke-width="1"/>
<rect x="405.50" y="143.46" width="23.00" height="59.94" fill="url(#hatchG)" stroke="#606060" stroke-width="1"/>
<line x1="417.00" y1="136.60" x2="417.00" y2="149.60" stroke="#444" stroke-width="1"/>
<line x1="415.10" y1="136.60" x2="418.90" y2="136.60" stroke="#444" stroke-width="1"/>
<line x1="415.10" y1="149.60" x2="418.90" y2="149.60" stroke="#444" stroke-width="1"/>
<rect x="451.50" y="116.76" width="23.00" height="86.64" fill="#fff" stroke="#606060" stroke-width="1"/>
<line x1="463.00" y1="106.60" x2="463.00" y2="126.20" stroke="#444" stroke-width="1"/>
<line x1="461.10" y1="106.60" x2="464.90" y2="106.60" stroke="#444" stroke-width="1"/>
<line x1="461.10" y1="126.20" x2="464.90" y2="126.20" stroke="#444" stroke-width="1"/>
<rect x="482.50" y="60.86" width="23.00" height="142.54" fill="url(#hatchG)" stroke="#606060" stroke-width="1"/>
<line x1="494.00" y1="50.60" x2="494.00" y2="70.20" stroke="#444" stroke-width="1"/>
<line x1="492.10" y1="50.60" x2="495.90" y2="50.60" stroke="#444" stroke-width="1"/>
<line x1="492.10" y1="70.20" x2="495.90" y2="70.20" stroke="#444" stroke-width="1"/>
<rect x="528.50" y="130.16" width="24.00" height="73.24" fill="#fff" stroke="#606060" stroke-width="1"/>
<line x1="540.50" y1="121.70" x2="540.50" y2="138.00" stroke="#444" stroke-width="1"/>
<line x1="538.60" y1="121.70" x2="542.40" y2="121.70" stroke="#444" stroke-width="1"/>
<line x1="538.60" y1="138.00" x2="542.40" y2="138.00" stroke="#444" stroke-width="1"/>
<rect x="559.50" y="62.84" width="24.00" height="140.56" fill="url(#hatchG)" stroke="#606060" stroke-width="1"/>
<line x1="571.50" y1="50.60" x2="571.50" y2="74.70" stroke="#444" stroke-width="1"/>
<line x1="569.60" y1="50.60" x2="573.40" y2="50.60" stroke="#444" stroke-width="1"/>
<line x1="569.60" y1="74.70" x2="573.40" y2="74.70" stroke="#444" stroke-width="1"/>
<path d="M385.60,99.20 L390.40,104.00 L385.60,108.80 L380.80,104.00 Z" fill="#0000f0"/>
<path d="M416.70,67.97 L421.50,72.77 L416.70,77.57 L411.90,72.77 Z" fill="#0000f0"/>
<path d="M463.10,91.00 L467.90,95.80 L463.10,100.60 L458.30,95.80 Z" fill="#0000f0"/>
<path d="M494.00,80.90 L498.80,85.70 L494.00,90.50 L489.20,85.70 Z" fill="#0000f0"/>
<path d="M540.50,170.90 L545.30,175.70 L540.50,180.50 L535.70,175.70 Z" fill="#0000f0"/>
<path d="M571.20,157.10 L576.00,161.90 L571.20,166.70 L566.40,161.90 Z" fill="#0000f0"/>
<line x1="366.50" y1="16.40" x2="598.50" y2="16.40" stroke="#3c3c3c" stroke-width="1"/>
<line x1="366.50" y1="16.40" x2="366.50" y2="203.40" stroke="#3c3c3c" stroke-width="1"/>
<line x1="366.50" y1="203.40" x2="598.50" y2="203.40" stroke="#3c3c3c" stroke-width="1"/>
<line x1="598.50" y1="16.40" x2="598.50" y2="203.40" stroke="#4040ff" stroke-width="1"/>
<line x1="366.50" y1="203.40" x2="370.00" y2="203.40" stroke="#3c3c3c" stroke-width="1"/>
<line x1="366.50" y1="193.01" x2="368.50" y2="193.01" stroke="#3c3c3c" stroke-width="1"/>
<line x1="366.50" y1="182.62" x2="370.00" y2="182.62" stroke="#3c3c3c" stroke-width="1"/>
<line x1="366.50" y1="172.23" x2="368.50" y2="172.23" stroke="#3c3c3c" stroke-width="1"/>
<line x1="366.50" y1="161.84" x2="370.00" y2="161.84" stroke="#3c3c3c" stroke-width="1"/>
<line x1="366.50" y1="151.46" x2="368.50" y2="151.46" stroke="#3c3c3c" stroke-width="1"/>
<line x1="366.50" y1="141.07" x2="370.00" y2="141.07" stroke="#3c3c3c" stroke-width="1"/>
<line x1="366.50" y1="130.68" x2="368.50" y2="130.68" stroke="#3c3c3c" stroke-width="1"/>
<line x1="366.50" y1="120.29" x2="370.00" y2="120.29" stroke="#3c3c3c" stroke-width="1"/>
<line x1="366.50" y1="109.90" x2="368.50" y2="109.90" stroke="#3c3c3c" stroke-width="1"/>
<line x1="366.50" y1="99.51" x2="370.00" y2="99.51" stroke="#3c3c3c" stroke-width="1"/>
<line x1="366.50" y1="89.12" x2="368.50" y2="89.12" stroke="#3c3c3c" stroke-width="1"/>
<line x1="366.50" y1="78.73" x2="370.00" y2="78.73" stroke="#3c3c3c" stroke-width="1"/>
<line x1="366.50" y1="68.34" x2="368.50" y2="68.34" stroke="#3c3c3c" stroke-width="1"/>
<line x1="366.50" y1="57.96" x2="370.00" y2="57.96" stroke="#3c3c3c" stroke-width="1"/>
<line x1="366.50" y1="47.57" x2="368.50" y2="47.57" stroke="#3c3c3c" stroke-width="1"/>
<line x1="366.50" y1="37.18" x2="370.00" y2="37.18" stroke="#3c3c3c" stroke-width="1"/>
<line x1="366.50" y1="26.79" x2="368.50" y2="26.79" stroke="#3c3c3c" stroke-width="1"/>
<line x1="366.50" y1="16.40" x2="370.00" y2="16.40" stroke="#3c3c3c" stroke-width="1"/>
<line x1="598.50" y1="203.40" x2="595.00" y2="203.40" stroke="#1f1fff" stroke-width="1"/>
<line x1="598.50" y1="190.04" x2="596.50" y2="190.04" stroke="#1f1fff" stroke-width="1"/>
<line x1="598.50" y1="176.69" x2="595.00" y2="176.69" stroke="#1f1fff" stroke-width="1"/>
<line x1="598.50" y1="163.33" x2="596.50" y2="163.33" stroke="#1f1fff" stroke-width="1"/>
<line x1="598.50" y1="149.97" x2="595.00" y2="149.97" stroke="#1f1fff" stroke-width="1"/>
<line x1="598.50" y1="136.61" x2="596.50" y2="136.61" stroke="#1f1fff" stroke-width="1"/>
<line x1="598.50" y1="123.26" x2="595.00" y2="123.26" stroke="#1f1fff" stroke-width="1"/>
<line x1="598.50" y1="109.90" x2="596.50" y2="109.90" stroke="#1f1fff" stroke-width="1"/>
<line x1="598.50" y1="96.54" x2="595.00" y2="96.54" stroke="#1f1fff" stroke-width="1"/>
<line x1="598.50" y1="83.19" x2="596.50" y2="83.19" stroke="#1f1fff" stroke-width="1"/>
<line x1="598.50" y1="69.83" x2="595.00" y2="69.83" stroke="#1f1fff" stroke-width="1"/>
<line x1="598.50" y1="56.47" x2="596.50" y2="56.47" stroke="#1f1fff" stroke-width="1"/>
<line x1="598.50" y1="43.11" x2="595.00" y2="43.11" stroke="#1f1fff" stroke-width="1"/>
<line x1="598.50" y1="29.76" x2="596.50" y2="29.76" stroke="#1f1fff" stroke-width="1"/>
<line x1="598.50" y1="16.40" x2="595.00" y2="16.40" stroke="#1f1fff" stroke-width="1"/>
<line x1="385.40" y1="16.40" x2="385.40" y2="19.40" stroke="#3c3c3c" stroke-width="1"/>
<line x1="404.88" y1="16.40" x2="404.88" y2="19.40" stroke="#3c3c3c" stroke-width="1"/>
<line x1="424.36" y1="16.40" x2="424.36" y2="19.40" stroke="#3c3c3c" stroke-width="1"/>
<line x1="443.84" y1="16.40" x2="443.84" y2="19.40" stroke="#3c3c3c" stroke-width="1"/>
<line x1="463.32" y1="16.40" x2="463.32" y2="19.40" stroke="#3c3c3c" stroke-width="1"/>
<line x1="482.80" y1="16.40" x2="482.80" y2="19.40" stroke="#3c3c3c" stroke-width="1"/>
<line x1="502.28" y1="16.40" x2="502.28" y2="19.40" stroke="#3c3c3c" stroke-width="1"/>
<line x1="521.76" y1="16.40" x2="521.76" y2="19.40" stroke="#3c3c3c" stroke-width="1"/>
<line x1="541.24" y1="16.40" x2="541.24" y2="19.40" stroke="#3c3c3c" stroke-width="1"/>
<line x1="560.72" y1="16.40" x2="560.72" y2="19.40" stroke="#3c3c3c" stroke-width="1"/>
<line x1="580.20" y1="16.40" x2="580.20" y2="19.40" stroke="#3c3c3c" stroke-width="1"/>
<text x="362.20" y="207.20" font-size="12.5" text-anchor="end" fill="#111"  stroke="#111" stroke-width="0.3">0</text>
<text x="362.20" y="186.42" font-size="12.5" text-anchor="end" fill="#111"  stroke="#111" stroke-width="0.3">2</text>
<text x="362.20" y="165.64" font-size="12.5" text-anchor="end" fill="#111"  stroke="#111" stroke-width="0.3">4</text>
<text x="362.20" y="144.87" font-size="12.5" text-anchor="end" fill="#111"  stroke="#111" stroke-width="0.3">6</text>
<text x="362.20" y="124.09" font-size="12.5" text-anchor="end" fill="#111"  stroke="#111" stroke-width="0.3">8</text>
<text x="362.20" y="103.31" font-size="12.5" text-anchor="end" fill="#111"  stroke="#111" stroke-width="0.3">10</text>
<text x="362.20" y="82.53" font-size="12.5" text-anchor="end" fill="#111"  stroke="#111" stroke-width="0.3">12</text>
<text x="362.20" y="61.76" font-size="12.5" text-anchor="end" fill="#111"  stroke="#111" stroke-width="0.3">14</text>
<text x="362.20" y="40.98" font-size="12.5" text-anchor="end" fill="#111"  stroke="#111" stroke-width="0.3">16</text>
<text x="362.20" y="20.20" font-size="12.5" text-anchor="end" fill="#111"  stroke="#111" stroke-width="0.3">18</text>
<text x="602.80" y="207.00" font-size="12.5" text-anchor="start" fill="#1f1fff"  stroke="#1f1fff" stroke-width="0.3">0</text>
<text x="602.80" y="180.29" font-size="12.5" text-anchor="start" fill="#1f1fff"  stroke="#1f1fff" stroke-width="0.3">10</text>
<text x="602.80" y="153.57" font-size="12.5" text-anchor="start" fill="#1f1fff"  stroke="#1f1fff" stroke-width="0.3">20</text>
<text x="602.80" y="126.86" font-size="12.5" text-anchor="start" fill="#1f1fff"  stroke="#1f1fff" stroke-width="0.3">30</text>
<text x="602.80" y="100.14" font-size="12.5" text-anchor="start" fill="#1f1fff"  stroke="#1f1fff" stroke-width="0.3">40</text>
<text x="602.80" y="73.43" font-size="12.5" text-anchor="start" fill="#1f1fff"  stroke="#1f1fff" stroke-width="0.3">50</text>
<text x="602.80" y="46.71" font-size="12.5" text-anchor="start" fill="#1f1fff"  stroke="#1f1fff" stroke-width="0.3">60</text>
<text x="602.80" y="20.00" font-size="12.5" text-anchor="start" fill="#1f1fff"  stroke="#1f1fff" stroke-width="0.3">70</text>
<text x="401.50" y="218.80" font-size="12.5" text-anchor="middle" fill="#111"  stroke="#111" stroke-width="0.3">-0.3</text>
<text x="479.00" y="218.80" font-size="12.5" text-anchor="middle" fill="#111"  stroke="#111" stroke-width="0.3">-0.4</text>
<text x="556.60" y="218.80" font-size="12.5" text-anchor="middle" fill="#111"  stroke="#111" stroke-width="0.3">-0.5</text>
<text x="481.20" y="233.10" font-size="12.6" text-anchor="middle" fill="#111"  stroke="#111" stroke-width="0.3">Potential (V vs RHE)</text>
<text transform="translate(341.4,100.6) rotate(-90)" font-size="12.42" text-anchor="middle" fill="#111" stroke="#111" stroke-width="0.3">Ammonia Yield Rate (µg h<tspan font-size="8.3" dy="-6.5">-1</tspan><tspan dy="6.5">cm</tspan><tspan font-size="8.3" dy="-6.5">-2</tspan><tspan dy="6.5">)</tspan></text>
<text transform="translate(631.2,107.85) rotate(-90)" font-size="12.4" text-anchor="middle" fill="#1f1fff" stroke="#1f1fff" stroke-width="0.3">Faradaic Efficiency (%)</text>
<rect x="374.1" y="21.3" width="23.6" height="11.5" fill="#fff" stroke="#505050" stroke-width="1"/>
<rect x="374.1" y="34.3" width="23.6" height="11.8" fill="url(#hatchG)" stroke="#505050" stroke-width="1"/>
<text x="401.10" y="31.40" font-size="10.5" text-anchor="start" fill="#111"  stroke="#111" stroke-width="0.3">Au-Ag-Pd-750</text>
<text x="401.10" y="44.50" font-size="10.5" text-anchor="start" fill="#111"  stroke="#111" stroke-width="0.3">Au-Ag-Pd-850</text>
<path d="M488.40,22.60 L493.40,27.60 L488.40,32.60 L483.40,27.60 Z" fill="#0000f0"/>
<text x="503.70" y="31.70" font-size="10.6" text-anchor="start" fill="#111"  stroke="#111" stroke-width="0.3">Faradaic Efficiency</text>
<text x="1.5" y="267" font-family="Liberation Serif, serif" font-weight="bold" font-size="16" fill="#000">C</text>
<rect x="52.50" y="360.40" width="14" height="105.30" fill="url(#xhatchG)" stroke="#484848" stroke-width="1"/>
<line x1="59.50" y1="345.70" x2="59.50" y2="375.00" stroke="#555555" stroke-width="1"/>
<line x1="57.60" y1="345.70" x2="61.40" y2="345.70" stroke="#555555" stroke-width="1"/>
<line x1="57.60" y1="375.00" x2="61.40" y2="375.00" stroke="#555555" stroke-width="1"/>
<rect x="67.50" y="422.00" width="14" height="43.70" fill="url(#xhatchB)" stroke="#4a4aff" stroke-width="1"/>
<line x1="74.50" y1="416.00" x2="74.50" y2="428.40" stroke="#3030ff" stroke-width="1"/>
<line x1="72.60" y1="416.00" x2="76.40" y2="416.00" stroke="#3030ff" stroke-width="1"/>
<line x1="72.60" y1="428.40" x2="76.40" y2="428.40" stroke="#3030ff" stroke-width="1"/>
<rect x="83.50" y="327.00" width="14" height="138.70" fill="url(#hatchG)" stroke="#484848" stroke-width="1"/>
<line x1="90.50" y1="316.20" x2="90.50" y2="338.30" stroke="#555555" stroke-width="1"/>
<line x1="88.60" y1="316.20" x2="92.40" y2="316.20" stroke="#555555" stroke-width="1"/>
<line x1="88.60" y1="338.30" x2="92.40" y2="338.30" stroke="#555555" stroke-width="1"/>
<rect x="98.50" y="432.40" width="14" height="33.30" fill="url(#hatchB)" stroke="#4a4aff" stroke-width="1"/>
<line x1="105.50" y1="430.00" x2="105.50" y2="435.10" stroke="#3030ff" stroke-width="1"/>
<line x1="103.60" y1="430.00" x2="107.40" y2="430.00" stroke="#3030ff" stroke-width="1"/>
<line x1="103.60" y1="435.10" x2="107.40" y2="435.10" stroke="#3030ff" stroke-width="1"/>
<rect x="128.50" y="357.40" width="14" height="108.30" fill="url(#xhatchG)" stroke="#484848" stroke-width="1"/>
<line x1="135.50" y1="343.20" x2="135.50" y2="371.60" stroke="#555555" stroke-width="1"/>
<line x1="133.60" y1="343.20" x2="137.40" y2="343.20" stroke="#555555" stroke-width="1"/>
<line x1="133.60" y1="371.60" x2="137.40" y2="371.60" stroke="#555555" stroke-width="1"/>
<rect x="143.50" y="423.20" width="14" height="42.50" fill="url(#xhatchB)" stroke="#4a4aff" stroke-width="1"/>
<line x1="150.50" y1="417.10" x2="150.50" y2="428.80" stroke="#3030ff" stroke-width="1"/>
<line x1="148.60" y1="417.10" x2="152.40" y2="417.10" stroke="#3030ff" stroke-width="1"/>
<line x1="148.60" y1="428.80" x2="152.40" y2="428.80" stroke="#3030ff" stroke-width="1"/>
<rect x="159.50" y="346.80" width="13" height="118.90" fill="url(#hatchG)" stroke="#484848" stroke-width="1"/>
<line x1="166.00" y1="338.30" x2="166.00" y2="356.30" stroke="#555555" stroke-width="1"/>
<line x1="164.10" y1="338.30" x2="167.90" y2="338.30" stroke="#555555" stroke-width="1"/>
<line x1="164.10" y1="356.30" x2="167.90" y2="356.30" stroke="#555555" stroke-width="1"/>
<rect x="174.50" y="426.80" width="14" height="38.90" fill="url(#hatchB)" stroke="#4a4aff" stroke-width="1"/>
<line x1="181.50" y1="423.90" x2="181.50" y2="430.20" stroke="#3030ff" stroke-width="1"/>
<line x1="179.60" y1="423.90" x2="183.40" y2="423.90" stroke="#3030ff" stroke-width="1"/>
<line x1="179.60" y1="430.20" x2="183.40" y2="430.20" stroke="#3030ff" stroke-width="1"/>
<rect x="204.50" y="438.90" width="14" height="26.80" fill="url(#xhatchG)" stroke="#484848" stroke-width="1"/>
<line x1="211.50" y1="436.20" x2="211.50" y2="442.20" stroke="#555555" stroke-width="1"/>
<line x1="209.60" y1="436.20" x2="213.40" y2="436.20" stroke="#555555" stroke-width="1"/>
<line x1="209.60" y1="442.20" x2="213.40" y2="442.20" stroke="#555555" stroke-width="1"/>
<rect x="219.50" y="292.70" width="14" height="173.00" fill="url(#xhatchB)" stroke="#4a4aff" stroke-width="1"/>
<line x1="226.50" y1="276.40" x2="226.50" y2="308.50" stroke="#3030ff" stroke-width="1"/>
<line x1="224.60" y1="276.40" x2="228.40" y2="276.40" stroke="#3030ff" stroke-width="1"/>
<line x1="224.60" y1="308.50" x2="228.40" y2="308.50" stroke="#3030ff" stroke-width="1"/>
<rect x="235.50" y="425.90" width="14" height="39.80" fill="url(#hatchG)" stroke="#484848" stroke-width="1"/>
<line x1="242.50" y1="422.00" x2="242.50" y2="429.40" stroke="#555555" stroke-width="1"/>
<line x1="240.60" y1="422.00" x2="244.40" y2="422.00" stroke="#555555" stroke-width="1"/>
<line x1="240.60" y1="429.40" x2="244.40" y2="429.40" stroke="#555555" stroke-width="1"/>
<rect x="250.50" y="349.20" width="14" height="116.50" fill="url(#hatchB)" stroke="#4a4aff" stroke-width="1"/>
<line x1="257.50" y1="339.20" x2="257.50" y2="359.60" stroke="#3030ff" stroke-width="1"/>
<line x1="255.60" y1="339.20" x2="259.40" y2="339.20" stroke="#3030ff" stroke-width="1"/>
<line x1="255.60" y1="359.60" x2="259.40" y2="359.60" stroke="#3030ff" stroke-width="1"/>
<line x1="40.50" y1="274.20" x2="278.20" y2="274.20" stroke="#3c3c3c" stroke-width="1"/>
<line x1="40.50" y1="274.20" x2="40.50" y2="465.70" stroke="#3c3c3c" stroke-width="1"/>
<line x1="40.50" y1="465.70" x2="278.20" y2="465.70" stroke="#3c3c3c" stroke-width="1"/>
<line x1="278.20" y1="274.20" x2="278.20" y2="465.70" stroke="#4040ff" stroke-width="1"/>
<line x1="40.50" y1="465.70" x2="44.00" y2="465.70" stroke="#3c3c3c" stroke-width="1"/>
<line x1="40.50" y1="453.73" x2="42.50" y2="453.73" stroke="#3c3c3c" stroke-width="1"/>
<line x1="40.50" y1="441.76" x2="44.00" y2="441.76" stroke="#3c3c3c" stroke-width="1"/>
<line x1="40.50" y1="429.79" x2="42.50" y2="429.79" stroke="#3c3c3c" stroke-width="1"/>
<line x1="40.50" y1="417.82" x2="44.00" y2="417.82" stroke="#3c3c3c" stroke-width="1"/>
<line x1="40.50" y1="405.86" x2="42.50" y2="405.86" stroke="#3c3c3c" stroke-width="1"/>
<line x1="40.50" y1="393.89" x2="44.00" y2="393.89" stroke="#3c3c3c" stroke-width="1"/>
<line x1="40.50" y1="381.92" x2="42.50" y2="381.92" stroke="#3c3c3c" stroke-width="1"/>
<line x1="40.50" y1="369.95" x2="44.00" y2="369.95" stroke="#3c3c3c" stroke-width="1"/>
<line x1="40.50" y1="357.98" x2="42.50" y2="357.98" stroke="#3c3c3c" stroke-width="1"/>
<line x1="40.50" y1="346.01" x2="44.00" y2="346.01" stroke="#3c3c3c" stroke-width="1"/>
<line x1="40.50" y1="334.04" x2="42.50" y2="334.04" stroke="#3c3c3c" stroke-width="1"/>
<line x1="40.50" y1="322.07" x2="44.00" y2="322.07" stroke="#3c3c3c" stroke-width="1"/>
<line x1="40.50" y1="310.11" x2="42.50" y2="310.11" stroke="#3c3c3c" stroke-width="1"/>
<line x1="40.50" y1="298.14" x2="44.00" y2="298.14" stroke="#3c3c3c" stroke-width="1"/>
<line x1="40.50" y1="286.17" x2="42.50" y2="286.17" stroke="#3c3c3c" stroke-width="1"/>
<line x1="40.50" y1="274.20" x2="44.00" y2="274.20" stroke="#3c3c3c" stroke-width="1"/>
<line x1="278.20" y1="465.70" x2="274.70" y2="465.70" stroke="#1f1fff" stroke-width="1"/>
<line x1="278.20" y1="457.00" x2="276.20" y2="457.00" stroke="#1f1fff" stroke-width="1"/>
<line x1="278.20" y1="448.29" x2="274.70" y2="448.29" stroke="#1f1fff" stroke-width="1"/>
<line x1="278.20" y1="439.59" x2="276.20" y2="439.59" stroke="#1f1fff" stroke-width="1"/>
<line x1="278.20" y1="430.88" x2="274.70" y2="430.88" stroke="#1f1fff" stroke-width="1"/>
<line x1="278.20" y1="422.18" x2="276.20" y2="422.18" stroke="#1f1fff" stroke-width="1"/>
<line x1="278.20" y1="413.47" x2="274.70" y2="413.47" stroke="#1f1fff" stroke-width="1"/>
<line x1="278.20" y1="404.77" x2="276.20" y2="404.77" stroke="#1f1fff" stroke-width="1"/>
<line x1="278.20" y1="396.06" x2="274.70" y2="396.06" stroke="#1f1fff" stroke-width="1"/>
<line x1="278.20" y1="387.36" x2="276.20" y2="387.36" stroke="#1f1fff" stroke-width="1"/>
<line x1="278.20" y1="378.65" x2="274.70" y2="378.65" stroke="#1f1fff" stroke-width="1"/>
<line x1="278.20" y1="369.95" x2="276.20" y2="369.95" stroke="#1f1fff" stroke-width="1"/>
<line x1="278.20" y1="361.25" x2="274.70" y2="361.25" stroke="#1f1fff" stroke-width="1"/>
<line x1="278.20" y1="352.54" x2="276.20" y2="352.54" stroke="#1f1fff" stroke-width="1"/>
<line x1="278.20" y1="343.84" x2="274.70" y2="343.84" stroke="#1f1fff" stroke-width="1"/>
<line x1="278.20" y1="335.13" x2="276.20" y2="335.13" stroke="#1f1fff" stroke-width="1"/>
<line x1="278.20" y1="326.43" x2="274.70" y2="326.43" stroke="#1f1fff" stroke-width="1"/>
<line x1="278.20" y1="317.72" x2="276.20" y2="317.72" stroke="#1f1fff" stroke-width="1"/>
<line x1="278.20" y1="309.02" x2="274.70" y2="309.02" stroke="#1f1fff" stroke-width="1"/>
<line x1="278.20" y1="300.31" x2="276.20" y2="300.31" stroke="#1f1fff" stroke-width="1"/>
<line x1="278.20" y1="291.61" x2="274.70" y2="291.61" stroke="#1f1fff" stroke-width="1"/>
<line x1="278.20" y1="282.90" x2="276.20" y2="282.90" stroke="#1f1fff" stroke-width="1"/>
<line x1="278.20" y1="274.20" x2="274.70" y2="274.20" stroke="#1f1fff" stroke-width="1"/>
<line x1="59.60" y1="274.20" x2="59.60" y2="277.20" stroke="#3c3c3c" stroke-width="1"/>
<line x1="97.67" y1="274.20" x2="97.67" y2="277.20" stroke="#3c3c3c" stroke-width="1"/>
<line x1="135.74" y1="274.20" x2="135.74" y2="277.20" stroke="#3c3c3c" stroke-width="1"/>
<line x1="173.81" y1="274.20" x2="173.81" y2="277.20" stroke="#3c3c3c" stroke-width="1"/>
<line x1="211.88" y1="274.20" x2="211.88" y2="277.20" stroke="#3c3c3c" stroke-width="1"/>
<line x1="249.95" y1="274.20" x2="249.95" y2="277.20" stroke="#3c3c3c" stroke-width="1"/>
<text x="36.30" y="470.00" font-size="12.5" text-anchor="end" fill="#111"  stroke="#111" stroke-width="0.3">0</text>
<text x="36.30" y="446.06" font-size="12.5" text-anchor="end" fill="#111"  stroke="#111" stroke-width="0.3">5</text>
<text x="36.30" y="422.12" font-size="12.5" text-anchor="end" fill="#111"  stroke="#111" stroke-width="0.3">10</text>
<text x="36.30" y="398.19" font-size="12.5" text-anchor="end" fill="#111"  stroke="#111" stroke-width="0.3">15</text>
<text x="36.30" y="374.25" font-size="12.5" text-anchor="end" fill="#111"  stroke="#111" stroke-width="0.3">20</text>
<text x="36.30" y="350.31" font-size="12.5" text-anchor="end" fill="#111"  stroke="#111" stroke-width="0.3">25</text>
<text x="36.30" y="326.38" font-size="12.5" text-anchor="end" fill="#111"  stroke="#111" stroke-width="0.3">30</text>
<text x="36.30" y="302.44" font-size="12.5" text-anchor="end" fill="#111"  stroke="#111" stroke-width="0.3">35</text>
<text x="36.30" y="278.50" font-size="12.5" text-anchor="end" fill="#111"  stroke="#111" stroke-width="0.3">40</text>
<text x="283.00" y="469.80" font-size="12" text-anchor="start" fill="#1f1fff"  stroke="#1f1fff" stroke-width="0.3">0</text>
<text x="283.00" y="452.39" font-size="12" text-anchor="start" fill="#1f1fff"  stroke="#1f1fff" stroke-width="0.3">10</text>
<text x="283.00" y="434.98" font-size="12" text-anchor="start" fill="#1f1fff"  stroke="#1f1fff" stroke-width="0.3">20</text>
<text x="283.00" y="417.57" font-size="12" text-anchor="start" fill="#1f1fff"  stroke="#1f1fff" stroke-width="0.3">30</text>
<text x="283.00" y="400.16" font-size="12" text-anchor="start" fill="#1f1fff"  stroke="#1f1fff" stroke-width="0.3">40</text>
<text x="283.00" y="382.75" font-size="12" text-anchor="start" fill="#1f1fff"  stroke="#1f1fff" stroke-width="0.3">50</text>
<text x="283.00" y="365.35" font-size="12" text-anchor="start" fill="#1f1fff"  stroke="#1f1fff" stroke-width="0.3">60</text>
<text x="283.00" y="347.94" font-size="12" text-anchor="start" fill="#1f1fff"  stroke="#1f1fff" stroke-width="0.3">70</text>
<text x="283.00" y="330.53" font-size="12" text-anchor="start" fill="#1f1fff"  stroke="#1f1fff" stroke-width="0.3">80</text>
<text x="283.00" y="313.12" font-size="12" text-anchor="start" fill="#1f1fff"  stroke="#1f1fff" stroke-width="0.3">90</text>
<text x="283.00" y="295.71" font-size="12" text-anchor="start" fill="#1f1fff"  stroke="#1f1fff" stroke-width="0.3">100</text>
<text x="283.00" y="278.30" font-size="12" text-anchor="start" fill="#1f1fff"  stroke="#1f1fff" stroke-width="0.3">110</text>
<text x="82.50" y="480.30" font-size="12.5" text-anchor="middle" fill="#111"  stroke="#111" stroke-width="0.3">-0.3</text>
<text x="158.80" y="480.30" font-size="12.5" text-anchor="middle" fill="#111"  stroke="#111" stroke-width="0.3">-0.4</text>
<text x="234.70" y="480.30" font-size="12.5" text-anchor="middle" fill="#111"  stroke="#111" stroke-width="0.3">-0.5</text>
<text x="154.30" y="495.10" font-size="12.8" text-anchor="middle" fill="#111"  stroke="#111" stroke-width="0.3">Potential (V vs RHE)</text>
<text transform="translate(12.0,361.5) rotate(-90)" font-size="12.7" text-anchor="middle" fill="#111" stroke="#111" stroke-width="0.3">Prod. Energy Efficiency (%)</text>
<text transform="translate(316.90,457.70) rotate(-90)" font-size="12.5" fill="#1f1fff" stroke="#1f1fff" stroke-width="0.3">Energy Input (MWh</text>
<text transform="translate(321.30,345.80) rotate(-90)" font-size="6.6" fill="#1f1fff" stroke="#1f1fff" stroke-width="0.1">Elec.</text>
<text transform="translate(316.90,327.00) rotate(-90)" font-size="12.5" fill="#1f1fff" stroke="#1f1fff" stroke-width="0.3">/</text>
<text transform="translate(316.90,319.20) rotate(-90)" font-size="12.5" fill="#1f1fff" stroke="#1f1fff" stroke-width="0.3">ton</text>
<text transform="translate(321.50,297.00) rotate(-90)" font-size="7.5" fill="#1f1fff" stroke="#1f1fff" stroke-width="0.1">NH3</text>
<text transform="translate(316.90,281.60) rotate(-90)" font-size="12.5" fill="#1f1fff" stroke="#1f1fff" stroke-width="0.3">)</text>
<line x1="70.00" y1="333.80" x2="78.70" y2="333.80" stroke="#111" stroke-width="1"/>
<path d="M67.8,333.8 L72.5,331.7 L72.5,335.9 Z" fill="#111"/>
<line x1="235.20" y1="322.60" x2="245.50" y2="322.60" stroke="#1f1fff" stroke-width="1"/>
<path d="M248.2,322.6 L243.5,320.5 L243.5,324.7 Z" fill="#1f1fff"/>
<rect x="46.3" y="280.6" width="23.9" height="11.5" fill="url(#xhatchG)" stroke="#454545" stroke-width="1"/>
<rect x="46.3" y="293.1" width="23.9" height="12.1" fill="url(#hatchG)" stroke="#454545" stroke-width="1"/>
<text x="73.20" y="290.30" font-size="10.95" text-anchor="start" fill="#111"  stroke="#111" stroke-width="0.3">Au-Ag-Pd-750</text>
<text x="73.20" y="303.30" font-size="10.95" text-anchor="start" fill="#111"  stroke="#111" stroke-width="0.3">Au-Ag-Pd-850</text>
<text x="330.5" y="267" font-family="Liberation Serif, serif" font-weight="bold" font-size="16" fill="#000">D</text>
<clipPath id="clipD"><rect x="391.6" y="269.6" width="244.3" height="197.1"/></clipPath>
<g clip-path="url(#clipD)">
<path d="M391.60,342.50 L391.87,319.09 L392.14,318.91 L392.42,318.95 L392.69,319.88 L392.96,320.71 L393.23,321.96 L393.50,322.83 L393.77,323.75 L394.05,324.54 L394.32,324.61 L394.59,324.57 L394.86,324.48 L395.13,324.68 L395.40,324.82 L395.68,325.00 L395.95,325.25 L396.22,325.12 L396.49,325.17 L396.76,325.27 L397.03,325.06 L397.31,324.79 L397.58,324.60 L397.85,324.16 L398.12,324.24 L398.39,323.82 L398.67,323.62 L398.94,323.90 L399.21,323.97 L399.48,325.07 L399.75,325.27 L400.02,325.32 L400.30,324.86 L400.57,324.58 L400.84,324.18 L401.11,324.25 L401.38,324.46 L401.65,324.66 L401.93,324.98 L402.20,324.98 L402.47,324.98 L402.74,324.48 L403.01,324.70 L403.29,324.45 L403.56,324.44 L403.83,324.33 L404.10,323.92 L404.37,323.88 L404.64,324.00 L404.92,324.35 L405.19,324.78 L405.46,324.72 L405.73,324.57 L406.00,324.29 L406.27,324.10 L406.55,324.33 L406.82,324.45 L407.09,324.52 L407.36,324.55 L407.63,324.14 L407.90,324.09 L408.18,324.13 L408.45,324.23 L408.72,324.78 L408.99,324.72 L409.26,324.50 L409.54,324.33 L409.81,324.21 L410.08,324.43 L410.35,324.81 L410.62,324.56 L410.89,324.53 L411.17,324.04 L411.44,324.01 L411.71,324.31 L411.98,324.24 L412.25,324.78 L412.52,324.93 L412.80,325.11 L413.07,325.28 L413.34,325.20 L413.61,324.99 L413.88,324.66 L414.15,324.53 L414.43,324.56 L414.70,324.57 L414.97,324.84 L415.24,324.95 L415.51,324.87 L415.79,324.89 L416.06,324.79 L416.33,324.99 L416.60,325.45 L416.87,325.67 L417.14,325.65 L417.42,325.53 L417.69,325.01 L417.96,324.84 L418.23,324.86 L418.50,324.72 L418.77,324.87 L419.05,325.02 L419.32,325.24 L419.59,325.50 L419.86,325.89 L420.13,325.72 L420.41,325.53 L420.68,325.67 L420.95,325.16 L421.22,325.33 L421.49,325.59 L421.76,325.57 L422.04,326.10 L422.31,326.00 L422.58,325.99 L422.85,325.67 L423.12,325.45 L423.39,325.46 L423.67,325.54 L423.94,326.14 L424.21,326.30 L424.48,326.59 L424.75,326.40 L425.02,326.17 L425.30,325.88 L425.57,325.62 L425.84,325.67 L426.11,325.65 L426.38,325.95 L426.66,326.00 L426.93,326.01 L427.20,326.22 L427.47,326.19 L427.74,325.86 L428.01,326.08 L428.29,326.02 L428.56,326.27 L428.83,327.06 L429.10,326.85 L429.37,326.82 L429.64,326.67 L429.92,326.09 L430.19,325.88 L430.46,326.09 L430.73,325.98 L431.00,326.23 L431.27,326.65 L431.55,326.43 L431.82,326.66 L432.09,326.51 L432.36,326.50 L432.63,326.56 L432.91,326.35 L433.18,326.51 L433.45,326.57 L433.72,326.61 L433.99,326.54 L434.26,326.64 L434.54,326.78 L434.81,327.03 L435.08,327.45 L435.35,327.77 L435.62,327.76 L435.89,327.58 L436.17,327.93 L436.44,327.76 L436.71,327.69 L436.98,327.72 L437.25,327.49 L437.53,327.23 L437.80,327.45 L438.07,327.68 L438.34,327.67 L438.61,327.88 L438.88,327.54 L439.16,327.07 L439.43,326.80 L439.70,326.99 L439.97,327.26 L440.24,327.61 L440.51,327.66 L440.79,327.73 L441.06,327.56 L441.33,327.25 L441.60,327.21 L441.87,326.77 L442.14,326.93 L442.42,327.29 L442.69,327.35 L442.96,327.20 L443.23,326.80 L443.50,326.59 L443.78,326.22 L444.05,326.46 L444.32,326.34 L444.59,326.14 L444.86,326.42 L445.13,326.18 L445.41,326.57 L445.68,326.81 L445.95,326.96 L446.22,327.03 L446.49,326.87 L446.76,326.68 L447.04,326.46 L447.31,326.21 L447.58,326.25 L447.85,326.34 L448.12,326.00 L448.39,325.98 L448.67,325.81 L448.94,325.97 L449.21,326.28 L449.48,326.40 L449.75,326.43 L450.03,325.79 L450.30,325.90 L450.57,325.86 L450.84,325.95 L451.11,325.96 L451.38,325.69 L451.66,325.60 L451.93,325.57 L452.20,326.05 L452.47,326.21 L452.74,326.49 L453.01,326.53 L453.29,326.01 L453.56,325.53 L453.83,325.34 L454.10,325.31 L454.37,325.53 L454.65,325.87 L454.92,325.62 L455.19,325.34 L455.46,325.20 L455.73,325.12 L456.00,325.73 L456.28,325.90 L456.55,326.17 L456.82,326.00 L457.09,325.58 L457.36,325.56 L457.63,325.39 L457.91,325.14 L458.18,325.31 L458.45,325.30 L458.72,325.24 L458.99,325.63 L459.26,325.50 L459.54,325.20 L459.81,324.81 L460.08,324.98 L460.35,324.89 L460.62,324.97 L460.90,325.30 L461.17,324.99 L461.44,325.04 L461.71,324.85 L461.98,324.91 L462.25,324.89 L462.53,324.82 L462.80,324.97 L463.07,324.91 L463.34,324.69 L463.61,324.68 L463.88,324.66 L464.16,324.63 L464.43,324.99 L464.70,325.13 L464.97,325.34 L465.24,325.29 L465.52,325.23 L465.79,325.26 L466.06,325.01 L466.33,324.94 L466.60,325.12 L466.87,324.60 L467.15,324.63 L467.42,324.74 L467.69,324.20 L467.96,324.49 L468.23,324.60 L468.50,324.16 L468.78,324.55 L469.05,324.57 L469.32,324.29 L469.59,324.88 L469.86,324.69 L470.13,324.59 L470.41,324.30 L470.68,324.25 L470.95,324.23 L471.22,324.17 L471.49,324.59 L471.77,324.64 L472.04,324.54 L472.31,324.64 L472.58,324.56 L472.85,324.11 L473.12,323.99 L473.40,323.93 L473.67,323.94 L473.94,324.34 L474.21,324.55 L474.48,324.57 L474.75,324.69 L475.03,324.46 L475.30,324.58 L475.57,324.32 L475.84,323.84 L476.11,323.92 L476.38,323.68 L476.66,324.00 L476.93,324.15 L477.20,323.99 L477.47,324.04 L477.74,324.03 L478.02,324.26 L478.29,324.55 L478.56,324.46 L478.83,324.58 L479.10,324.53 L479.37,324.34 L479.65,324.29 L479.92,324.18 L480.19,324.12 L480.46,324.34 L480.73,324.45 L481.00,324.51 L481.28,324.69 L481.55,324.53 L481.82,324.50 L482.09,324.85 L482.36,324.85 L482.64,325.17 L482.91,325.14 L483.18,325.16 L483.45,325.43 L483.72,325.49 L483.99,325.43 L484.27,325.33 L484.54,325.15 L484.81,324.96 L485.08,325.62 L485.35,325.49 L485.62,325.46 L485.90,325.46 L486.17,325.02 L486.44,325.10 L486.71,325.29 L486.98,325.40 L487.25,325.58 L487.53,325.23 L487.80,325.24 L488.07,325.20 L488.34,325.45 L488.61,326.01 L488.89,325.88 L489.16,326.19 L489.43,326.32 L489.70,326.27 L489.97,326.69 L490.24,326.19 L490.52,326.53 L490.79,326.52 L491.06,326.38 L491.33,327.02 L491.60,326.77 L491.87,326.83 L492.15,326.73 L492.42,326.76 L492.69,327.00 L492.96,326.97 L493.23,327.06 L493.50,327.03 L493.78,327.22 L494.05,327.20 L494.32,327.59 L494.59,327.39 L494.86,327.06 L495.14,327.47 L495.41,327.60 L495.68,327.62 L495.95,327.43 L496.22,327.84 L496.49,328.01 L496.77,328.04 L497.04,328.45 L497.31,328.39 L497.58,328.30 L497.85,328.73 L498.12,328.77 L498.40,328.69 L498.67,328.83 L498.94,328.98 L499.21,328.98 L499.48,329.13 L499.76,329.20 L500.03,329.23 L500.30,329.13 L500.57,329.00 L500.84,329.05 L501.11,329.00 L501.39,329.25 L501.66,329.21 L501.93,329.17 L502.20,329.03 L502.47,328.93 L502.74,329.23 L503.02,329.48 L503.29,329.73 L503.56,329.97 L503.83,330.06 L504.10,330.34 L504.37,330.93 L504.65,331.04 L504.92,330.97 L505.19,330.63 L505.46,330.61 L505.73,330.57 L506.01,330.89 L506.28,331.05 L506.55,330.82 L506.82,331.24 L507.09,331.34 L507.36,331.85 L507.64,332.04 L507.91,332.18 L508.18,331.94 L508.45,331.50 L508.72,331.11 L508.99,330.66 L509.27,330.81 L509.54,330.71 L509.81,330.90 L510.08,330.80 L510.35,330.58 L510.62,330.78 L510.90,330.66 L511.17,330.71 L511.44,330.78 L511.71,330.38 L511.98,330.01 L512.26,330.04 L512.53,330.00 L512.80,330.53 L513.07,330.83 L513.34,330.79 L513.61,331.08 L513.89,330.56 L514.16,330.37 L514.43,330.38 L514.70,330.00 L514.97,330.18 L515.24,330.10 L515.52,330.20 L515.79,330.14 L516.06,329.55 L516.33,329.63 L516.60,329.22 L516.88,329.14 L517.15,329.67 L517.42,329.64 L517.69,329.60 L517.96,329.72 L518.23,329.40 L518.51,329.12 L518.78,328.95 L519.05,329.01 L519.32,329.21 L519.59,329.69 L519.86,329.65 L520.14,329.20 L520.41,328.84 L520.68,328.66 L520.95,329.03 L521.22,329.08 L521.49,329.15 L521.77,329.10 L522.04,328.82 L522.31,328.67 L522.58,328.60 L522.85,328.59 L523.13,328.96 L523.40,329.08 L523.67,329.05 L523.94,328.86 L524.21,328.51 L524.48,328.54 L524.76,328.45 L525.03,328.47 L525.30,328.43 L525.57,328.54 L525.84,328.85 L526.11,328.87 L526.39,329.14 L526.66,329.26 L526.93,329.26 L527.20,329.13 L527.47,328.97 L527.74,328.53 L528.02,328.55 L528.29,328.89 L528.56,329.39 L528.83,330.02 L529.10,329.97 L529.38,330.10 L529.65,329.96 L529.92,329.97 L530.19,330.48 L530.46,330.83 L530.73,331.19 L531.01,331.44 L531.28,331.60 L531.55,331.72 L531.82,331.96 L532.09,332.46 L532.36,332.64 L532.64,332.95 L532.91,332.84 L533.18,333.13 L533.45,333.17 L533.72,332.60 L534.00,332.90 L534.27,332.76 L534.54,332.77 L534.81,333.02 L535.08,333.04 L535.35,332.76 L535.63,332.79 L535.90,333.14 L536.17,332.57 L536.44,332.72 L536.71,332.89 L536.98,332.95 L537.26,333.51 L537.53,333.50 L537.80,333.30 L538.07,333.23 L538.34,333.61 L538.61,333.64 L538.89,333.89 L539.16,334.01 L539.43,334.07 L539.70,334.32 L539.97,334.44 L540.25,334.44 L540.52,334.49 L540.79,334.42 L541.06,334.31 L541.33,334.55 L541.60,334.45 L541.88,334.66 L542.15,334.49 L542.42,334.72 L542.69,334.63 L542.96,334.75 L543.23,334.96 L543.51,334.30 L543.78,334.32 L544.05,333.96 L544.32,334.00 L544.59,333.76 L544.86,333.44 L545.14,333.23 L545.41,333.28 L545.68,333.81 L545.95,333.75 L546.22,333.96 L546.50,333.72 L546.77,333.43 L547.04,333.82 L547.31,333.61 L547.58,333.53 L547.85,333.46 L548.13,333.32 L548.40,333.34 L548.67,333.44 L548.94,333.31 L549.21,332.95 L549.48,332.84 L549.76,332.58 L550.03,332.60 L550.30,333.28 L550.57,333.26 L550.84,333.37 L551.12,333.44 L551.39,332.96 L551.66,333.34 L551.93,333.35 L552.20,333.21 L552.47,332.86 L552.75,332.69 L553.02,332.72 L553.29,332.54 L553.56,332.93 L553.83,332.40 L554.10,332.19 L554.38,332.59 L554.65,332.21 L554.92,332.24 L555.19,332.48 L555.46,332.00 L555.73,332.23 L556.01,332.27 L556.28,332.07 L556.55,332.65 L556.82,332.51 L557.09,332.61 L557.37,332.15 L557.64,331.54 L557.91,331.51 L558.18,331.72 L558.45,332.21 L558.72,332.58 L559.00,332.86 L559.27,332.87 L559.54,333.24 L559.81,333.16 L560.08,333.01 L560.35,332.48 L560.63,331.87 L560.90,331.99 L561.17,331.88 L561.44,332.59 L561.71,332.84 L561.98,333.09 L562.26,332.93 L562.53,332.60 L562.80,332.70 L563.07,332.37 L563.34,332.46 L563.62,332.48 L563.89,332.19 L564.16,332.33 L564.43,332.63 L564.70,332.70 L564.97,332.60 L565.25,332.60 L565.52,332.69 L565.79,332.49 L566.06,332.84 L566.33,332.48 L566.60,332.23 L566.88,332.28 L567.15,331.78 L567.42,331.86 L567.69,331.76 L567.96,332.09 L568.24,332.54 L568.51,332.55 L568.78,332.41 L569.05,331.98 L569.32,331.42 L569.59,331.49 L569.87,331.73 L570.14,331.80 L570.41,332.23 L570.68,332.30 L570.95,332.53 L571.22,332.53 L571.50,332.73 L571.77,332.63 L572.04,332.70 L572.31,332.68 L572.58,332.67 L572.85,332.61 L573.13,332.64 L573.40,332.92 L573.67,332.52 L573.94,332.82 L574.21,332.51 L574.49,332.52 L574.76,333.17 L575.03,332.96 L575.30,332.89 L575.57,333.01 L575.84,332.48 L576.12,332.68 L576.39,332.95 L576.66,332.74 L576.93,332.97 L577.20,332.40 L577.47,332.50 L577.75,332.37 L578.02,332.06 L578.29,332.85 L578.56,332.88 L578.83,332.91 L579.11,333.19 L579.38,332.75 L579.65,332.22 L579.92,332.39 L580.19,332.50 L580.46,333.07 L580.74,333.25 L581.01,333.35 L581.28,333.10 L581.55,332.55 L581.82,332.84 L582.09,332.35 L582.37,332.21 L582.64,332.09 L582.91,332.06 L583.18,332.45 L583.45,332.75 L583.72,332.99 L584.00,332.98 L584.27,332.82 L584.54,332.68 L584.81,332.53 L585.08,332.42 L585.36,332.26 L585.63,332.27 L585.90,332.84 L586.17,332.87 L586.44,333.12 L586.71,332.97 L586.99,332.52 L587.26,332.45 L587.53,332.56 L587.80,332.62 L588.07,332.64 L588.34,332.71 L588.62,332.72 L588.89,332.74 L589.16,332.76 L589.43,332.96 L589.70,332.70 L589.97,332.94 L590.25,332.77 L590.52,332.36 L590.79,332.14 L591.06,331.70 L591.33,331.76 L591.61,331.75 L591.88,332.09 L592.15,331.86 L592.42,331.56 L592.69,331.16 L592.96,330.86 L593.24,331.44 L593.51,331.13 L593.78,331.25 L594.05,330.90 L594.32,330.22 L594.59,330.08 L594.87,329.70 L595.14,329.72 L595.41,329.24 L595.68,329.16 L595.95,329.04 L596.23,328.13 L596.50,327.86 L596.77,327.53 L597.04,327.49 L597.31,327.48 L597.58,327.26 L597.86,326.91 L598.13,326.50 L598.40,326.38 L598.67,326.52 L598.94,326.49 L599.21,326.14 L599.49,325.82 L599.76,325.75 L600.03,325.77 L600.30,325.85 L600.57,326.16 L600.84,326.07 L601.12,325.75 L601.39,325.84 L601.66,325.60 L601.93,325.68 L602.20,326.09 L602.48,326.47 L602.75,326.66 L603.02,326.39 L603.29,326.03 L603.56,325.52 L603.83,325.41 L604.11,325.64 L604.38,326.17 L604.65,326.44 L604.92,326.48 L605.19,326.66 L605.46,326.40 L605.74,326.58 L606.01,327.05 L606.28,327.11 L606.55,327.62 L606.82,327.72 L607.09,327.20 L607.37,327.08 L607.64,326.75 L607.91,326.31 L608.18,326.31 L608.45,326.39 L608.73,326.21 L609.00,326.38 L609.27,326.63 L609.54,326.48 L609.81,327.02 L610.08,327.26 L610.36,327.30 L610.63,327.30 L610.90,327.20 L611.17,327.28 L611.44,327.28 L611.71,327.34 L611.99,327.33 L612.26,327.28 L612.53,327.74 L612.80,328.26 L613.07,328.55 L613.35,329.04 L613.62,329.27 L613.89,329.11 L614.16,329.41 L614.43,329.73 L614.70,329.75 L614.98,329.92 L615.25,330.08 L615.52,329.87 L615.79,330.25 L616.06,330.73 L616.33,330.84 L616.61,331.07 L616.88,330.62 L617.15,330.71 L617.42,330.25 L617.69,330.38 L617.96,330.74 L618.24,330.34 L618.51,330.49 L618.78,330.23 L619.05,330.46 L619.32,330.52 L619.60,330.79 L619.87,330.34 L620.14,330.05 L620.41,330.05 L620.68,330.04 L620.95,330.56 L621.23,330.71 L621.50,330.52 L621.77,330.31 L622.04,330.07 L622.31,329.92 L622.58,330.15 L622.86,329.81 L623.13,330.05 L623.40,330.22 L623.67,330.00 L623.94,330.41 L624.21,330.26 L624.49,329.72 L624.76,329.90 L625.03,329.48 L625.30,329.48 L625.57,329.32 L625.85,328.86 L626.12,329.06 L626.39,328.91 L626.66,329.28 L626.93,329.43 L627.20,329.08 L627.48,329.25 L627.75,328.87 L628.02,329.09 L628.29,329.41 L628.56,329.41 L628.83,329.13 L629.11,328.82 L629.38,328.51 L629.65,328.20 L629.92,328.28 L630.19,328.58 L630.47,328.51 L630.74,327.87 L631.01,328.03 L631.28,327.53 L631.55,327.31 L631.82,327.76 L632.10,327.58 L632.37,327.29 L632.64,327.28 L632.91,326.95 L633.18,326.91 L633.45,326.92 L633.73,326.77 L634.00,326.36 L634.27,325.95 L634.54,325.85 L634.81,326.11 L635.08,326.04 L635.36,325.82 L635.63,325.74 L635.90,325.45" fill="none" stroke="#000" stroke-width="2.7" stroke-linejoin="round" stroke-linecap="butt" />
</g>
<rect x="391.6" y="269.6" width="244.29999999999995" height="197.09999999999997" fill="none" stroke="#3c3c3c" stroke-width="1"/>
<line x1="391.60" y1="269.60" x2="395.10" y2="269.60" stroke="#3c3c3c" stroke-width="1"/>
<line x1="635.90" y1="269.60" x2="632.40" y2="269.60" stroke="#3c3c3c" stroke-width="1"/>
<line x1="391.60" y1="289.31" x2="393.60" y2="289.31" stroke="#3c3c3c" stroke-width="1"/>
<line x1="635.90" y1="289.31" x2="633.90" y2="289.31" stroke="#3c3c3c" stroke-width="1"/>
<line x1="391.60" y1="309.02" x2="395.10" y2="309.02" stroke="#3c3c3c" stroke-width="1"/>
<line x1="635.90" y1="309.02" x2="632.40" y2="309.02" stroke="#3c3c3c" stroke-width="1"/>
<line x1="391.60" y1="328.73" x2="393.60" y2="328.73" stroke="#3c3c3c" stroke-width="1"/>
<line x1="635.90" y1="328.73" x2="633.90" y2="328.73" stroke="#3c3c3c" stroke-width="1"/>
<line x1="391.60" y1="348.44" x2="395.10" y2="348.44" stroke="#3c3c3c" stroke-width="1"/>
<line x1="635.90" y1="348.44" x2="632.40" y2="348.44" stroke="#3c3c3c" stroke-width="1"/>
<line x1="391.60" y1="368.15" x2="393.60" y2="368.15" stroke="#3c3c3c" stroke-width="1"/>
<line x1="635.90" y1="368.15" x2="633.90" y2="368.15" stroke="#3c3c3c" stroke-width="1"/>
<line x1="391.60" y1="387.86" x2="395.10" y2="387.86" stroke="#3c3c3c" stroke-width="1"/>
<line x1="635.90" y1="387.86" x2="632.40" y2="387.86" stroke="#3c3c3c" stroke-width="1"/>
<line x1="391.60" y1="407.57" x2="393.60" y2="407.57" stroke="#3c3c3c" stroke-width="1"/>
<line x1="635.90" y1="407.57" x2="633.90" y2="407.57" stroke="#3c3c3c" stroke-width="1"/>
<line x1="391.60" y1="427.28" x2="395.10" y2="427.28" stroke="#3c3c3c" stroke-width="1"/>
<line x1="635.90" y1="427.28" x2="632.40" y2="427.28" stroke="#3c3c3c" stroke-width="1"/>
<line x1="391.60" y1="446.99" x2="393.60" y2="446.99" stroke="#3c3c3c" stroke-width="1"/>
<line x1="635.90" y1="446.99" x2="633.90" y2="446.99" stroke="#3c3c3c" stroke-width="1"/>
<line x1="391.60" y1="466.70" x2="395.10" y2="466.70" stroke="#3c3c3c" stroke-width="1"/>
<line x1="635.90" y1="466.70" x2="632.40" y2="466.70" stroke="#3c3c3c" stroke-width="1"/>
<line x1="391.60" y1="466.70" x2="391.60" y2="463.20" stroke="#3c3c3c" stroke-width="1"/>
<line x1="391.60" y1="269.60" x2="391.60" y2="273.10" stroke="#3c3c3c" stroke-width="1"/>
<line x1="408.57" y1="466.70" x2="408.57" y2="464.70" stroke="#3c3c3c" stroke-width="1"/>
<line x1="408.57" y1="269.60" x2="408.57" y2="271.60" stroke="#3c3c3c" stroke-width="1"/>
<line x1="425.53" y1="466.70" x2="425.53" y2="463.20" stroke="#3c3c3c" stroke-width="1"/>
<line x1="425.53" y1="269.60" x2="425.53" y2="273.10" stroke="#3c3c3c" stroke-width="1"/>
<line x1="442.50" y1="466.70" x2="442.50" y2="464.70" stroke="#3c3c3c" stroke-width="1"/>
<line x1="442.50" y1="269.60" x2="442.50" y2="271.60" stroke="#3c3c3c" stroke-width="1"/>
<line x1="459.46" y1="466.70" x2="459.46" y2="463.20" stroke="#3c3c3c" stroke-width="1"/>
<line x1="459.46" y1="269.60" x2="459.46" y2="273.10" stroke="#3c3c3c" stroke-width="1"/>
<line x1="476.43" y1="466.70" x2="476.43" y2="464.70" stroke="#3c3c3c" stroke-width="1"/>
<line x1="476.43" y1="269.60" x2="476.43" y2="271.60" stroke="#3c3c3c" stroke-width="1"/>
<line x1="493.39" y1="466.70" x2="493.39" y2="463.20" stroke="#3c3c3c" stroke-width="1"/>
<line x1="493.39" y1="269.60" x2="493.39" y2="273.10" stroke="#3c3c3c" stroke-width="1"/>
<line x1="510.36" y1="466.70" x2="510.36" y2="464.70" stroke="#3c3c3c" stroke-width="1"/>
<line x1="510.36" y1="269.60" x2="510.36" y2="271.60" stroke="#3c3c3c" stroke-width="1"/>
<line x1="527.32" y1="466.70" x2="527.32" y2="463.20" stroke="#3c3c3c" stroke-width="1"/>
<line x1="527.32" y1="269.60" x2="527.32" y2="273.10" stroke="#3c3c3c" stroke-width="1"/>
<line x1="544.29" y1="466.70" x2="544.29" y2="464.70" stroke="#3c3c3c" stroke-width="1"/>
<line x1="544.29" y1="269.60" x2="544.29" y2="271.60" stroke="#3c3c3c" stroke-width="1"/>
<line x1="561.25" y1="466.70" x2="561.25" y2="463.20" stroke="#3c3c3c" stroke-width="1"/>
<line x1="561.25" y1="269.60" x2="561.25" y2="273.10" stroke="#3c3c3c" stroke-width="1"/>
<line x1="578.22" y1="466.70" x2="578.22" y2="464.70" stroke="#3c3c3c" stroke-width="1"/>
<line x1="578.22" y1="269.60" x2="578.22" y2="271.60" stroke="#3c3c3c" stroke-width="1"/>
<line x1="595.18" y1="466.70" x2="595.18" y2="463.20" stroke="#3c3c3c" stroke-width="1"/>
<line x1="595.18" y1="269.60" x2="595.18" y2="273.10" stroke="#3c3c3c" stroke-width="1"/>
<line x1="612.15" y1="466.70" x2="612.15" y2="464.70" stroke="#3c3c3c" stroke-width="1"/>
<line x1="612.15" y1="269.60" x2="612.15" y2="271.60" stroke="#3c3c3c" stroke-width="1"/>
<line x1="629.11" y1="466.70" x2="629.11" y2="463.20" stroke="#3c3c3c" stroke-width="1"/>
<line x1="629.11" y1="269.60" x2="629.11" y2="273.10" stroke="#3c3c3c" stroke-width="1"/>
<text x="387.70" y="273.90" font-size="12.5" text-anchor="end" fill="#111"  stroke="#111" stroke-width="0.3">0.0</text>
<text x="387.70" y="313.32" font-size="12.5" text-anchor="end" fill="#111"  stroke="#111" stroke-width="0.3">-0.1</text>
<text x="387.70" y="352.74" font-size="12.5" text-anchor="end" fill="#111"  stroke="#111" stroke-width="0.3">-0.2</text>
<text x="387.70" y="392.16" font-size="12.5" text-anchor="end" fill="#111"  stroke="#111" stroke-width="0.3">-0.3</text>
<text x="387.70" y="431.58" font-size="12.5" text-anchor="end" fill="#111"  stroke="#111" stroke-width="0.3">-0.4</text>
<text x="387.70" y="471.00" font-size="12.5" text-anchor="end" fill="#111"  stroke="#111" stroke-width="0.3">-0.5</text>
<text x="391.60" y="481.60" font-size="12.5" text-anchor="middle" fill="#111"  stroke="#111" stroke-width="0.3">0</text>
<text x="425.53" y="481.60" font-size="12.5" text-anchor="middle" fill="#111"  stroke="#111" stroke-width="0.3">10</text>
<text x="459.46" y="481.60" font-size="12.5" text-anchor="middle" fill="#111"  stroke="#111" stroke-width="0.3">20</text>
<text x="493.39" y="481.60" font-size="12.5" text-anchor="middle" fill="#111"  stroke="#111" stroke-width="0.3">30</text>
<text x="527.32" y="481.60" font-size="12.5" text-anchor="middle" fill="#111"  stroke="#111" stroke-width="0.3">40</text>
<text x="561.25" y="481.60" font-size="12.5" text-anchor="middle" fill="#111"  stroke="#111" stroke-width="0.3">50</text>
<text x="595.18" y="481.60" font-size="12.5" text-anchor="middle" fill="#111"  stroke="#111" stroke-width="0.3">60</text>
<text x="629.11" y="481.60" font-size="12.5" text-anchor="middle" fill="#111"  stroke="#111" stroke-width="0.3">70</text>
<text x="514.00" y="500.40" font-size="13.2" text-anchor="middle" fill="#111"  stroke="#111" stroke-width="0.3">Time (h)</text>
<text transform="translate(353.9,353.2) rotate(-90)" font-size="13" text-anchor="middle" fill="#111" stroke="#111" stroke-width="0.3">Current denisty (mA cm<tspan font-size="8.5" dy="-6">-2</tspan><tspan dy="6">)</tspan></text>
<text x="473.60" y="365.80" font-size="13.1" text-anchor="start" fill="#111"  stroke="#111" stroke-width="0.3">-0.4 V vs RHE</text>
<text x="164" y="526.6" font-family="Liberation Serif, serif" font-weight="bold" font-size="16" fill="#000">E</text>
<path d="M193.50,609.31 L193.75,609.34 L194.00,609.42 L194.25,609.42 L194.51,609.36 L194.76,609.18 L195.01,609.15 L195.26,609.10 L195.51,609.27 L195.76,609.35 L196.01,609.33 L196.26,609.43 L196.52,609.40 L196.77,609.31 L197.02,609.27 L197.27,609.39 L197.52,609.27 L197.77,609.29 L198.02,609.39 L198.27,609.21 L198.53,609.24 L198.78,609.18 L199.03,609.14 L199.28,609.23 L199.53,609.39 L199.78,609.49 L200.03,609.52 L200.28,609.37 L200.54,609.28 L200.79,609.23 L201.04,609.17 L201.29,609.30 L201.54,609.36 L201.79,609.34 L202.04,609.42 L202.29,609.33 L202.55,609.18 L202.80,609.24 L203.05,609.04 L203.30,609.07 L203.55,609.17 L203.80,609.16 L204.05,609.31 L204.30,609.29 L204.56,609.27 L204.81,609.17 L205.06,609.14 L205.31,609.10 L205.56,609.07 L205.81,609.16 L206.06,609.17 L206.31,609.12 L206.57,609.03 L206.82,609.02 L207.07,609.04 L207.32,609.19 L207.57,609.37 L207.82,609.48 L208.07,609.48 L208.32,609.46 L208.58,609.32 L208.83,609.15 L209.08,609.08 L209.33,609.10 L209.58,609.19 L209.83,609.26 L210.08,609.28 L210.33,609.31 L210.59,609.31 L210.84,609.33 L211.09,609.36 L211.34,609.28 L211.59,609.19 L211.84,609.20 L212.09,609.21 L212.34,609.23 L212.60,609.28 L212.85,609.41 L213.10,609.32 L213.35,609.32 L213.60,609.37 L213.85,609.12 L214.10,609.18 L214.35,609.33 L214.61,609.38 L214.86,609.51 L215.11,609.54 L215.36,609.42 L215.61,609.42 L215.86,609.36 L216.11,609.29 L216.36,609.29 L216.62,609.28 L216.87,609.32 L217.12,609.40 L217.37,609.24 L217.62,609.26 L217.87,609.41 L218.12,609.46 L218.37,609.58 L218.63,609.43 L218.88,609.28 L219.13,609.11 L219.38,609.19 L219.63,609.21 L219.88,609.26 L220.13,609.43 L220.38,609.23 L220.64,609.29 L220.89,609.17 L221.14,608.97 L221.39,609.07 L221.64,609.03 L221.89,609.16 L222.14,609.15 L222.39,609.27 L222.65,609.43 L222.90,609.40 L223.15,609.55 L223.40,609.48 L223.65,609.24 L223.90,609.24 L224.15,609.22 L224.40,609.28 L224.66,609.55 L224.91,609.57 L225.16,609.57 L225.41,609.63 L225.66,609.34 L225.91,609.20 L226.16,609.14 L226.41,608.98 L226.67,609.13 L226.92,609.19 L227.17,609.35 L227.42,609.50 L227.67,609.51 L227.92,609.50 L228.17,609.42 L228.42,609.37 L228.68,609.23 L228.93,609.29 L229.18,609.29 L229.43,609.25 L229.68,609.44 L229.93,609.51 L230.18,609.39 L230.43,609.39 L230.69,609.21 L230.94,609.16 L231.19,609.16 L231.44,609.22 L231.69,609.30 L231.94,609.33 L232.19,609.39 L232.44,609.21 L232.70,609.31 L232.95,609.23 L233.20,609.34 L233.45,609.48 L233.70,609.39 L233.95,609.54 L234.20,609.46 L234.45,609.53 L234.71,609.38 L234.96,609.31 L235.21,609.26 L235.46,609.15 L235.71,609.26 L235.96,609.22 L236.21,609.36 L236.46,609.23 L236.72,609.23 L236.97,609.15 L237.22,609.12 L237.47,609.22 L237.72,609.25 L237.97,609.27 L238.22,609.24 L238.47,609.34 L238.73,609.28 L238.98,609.31 L239.23,609.16 L239.48,609.10 L239.73,609.19 L239.98,609.15 L240.23,609.33 L240.48,609.16 L240.74,608.96 L240.99,608.90 L241.24,608.78 L241.49,608.93 L241.74,609.06 L241.99,609.16 L242.24,609.24 L242.49,609.21 L242.75,609.12 L243.00,609.03 L243.25,609.13 L243.50,608.99 L243.75,609.07 L244.00,609.27 L244.25,609.15 L244.50,609.26 L244.76,609.27 L245.01,609.23 L245.26,609.28 L245.51,609.27 L245.76,609.33 L246.01,609.28 L246.26,609.27 L246.51,609.44 L246.77,609.36 L247.02,609.23 L247.27,609.18 L247.52,609.21 L247.77,609.28 L248.02,609.40 L248.27,609.55 L248.52,609.34 L248.78,609.35 L249.03,609.29 L249.28,609.12 L249.53,609.20 L249.78,609.24 L250.03,609.22 L250.28,609.17 L250.53,609.05 L250.79,608.97 L251.04,609.00 L251.29,609.07 L251.54,609.11 L251.79,609.05 L252.04,609.15 L252.29,609.11 L252.54,609.23 L252.80,609.29 L253.05,609.19 L253.30,609.09 L253.55,609.11 L253.80,609.08 L254.05,609.18 L254.30,609.14 L254.55,608.95 L254.81,608.78 L255.06,608.64 L255.31,608.86 L255.56,609.02 L255.81,609.17 L256.06,609.24 L256.31,609.22 L256.56,609.15 L256.82,609.18 L257.07,609.18 L257.32,608.96 L257.57,608.95 L257.82,609.02 L258.07,608.98 L258.32,609.13 L258.57,609.11 L258.83,608.97 L259.08,609.08 L259.33,609.06 L259.58,609.03 L259.83,608.83 L260.08,608.71 L260.33,608.58 L260.58,608.52 L260.84,608.80 L261.09,608.89 L261.34,608.89 L261.59,609.08 L261.84,609.05 L262.09,608.94 L262.34,609.13 L262.59,608.94 L262.85,608.81 L263.10,608.76 L263.35,608.62 L263.60,608.80 L263.85,608.78 L264.10,608.80 L264.35,608.80 L264.60,608.75 L264.86,608.81 L265.11,608.96 L265.36,608.97 L265.61,608.85 L265.86,608.83 L266.11,608.76 L266.36,608.74 L266.61,608.84 L266.87,609.00 L267.12,608.94 L267.37,609.00 L267.62,609.07 L267.87,608.88 L268.12,608.84 L268.37,608.74 L268.62,608.66 L268.88,608.72 L269.13,608.76 L269.38,608.82 L269.63,608.85 L269.88,608.85 L270.13,608.72 L270.38,608.68 L270.63,608.55 L270.89,608.48 L271.14,608.50 L271.39,608.36 L271.64,608.21 L271.89,607.90 L272.14,607.74 L272.39,607.54 L272.64,607.39 L272.90,607.22 L273.15,607.04 L273.40,606.99 L273.65,606.97 L273.90,607.28 L274.15,607.48 L274.40,607.76 L274.65,607.91 L274.91,607.97 L275.16,607.97 L275.41,607.96 L275.66,608.05 L275.91,608.12 L276.16,608.27 L276.41,608.30 L276.66,608.41 L276.92,608.37 L277.17,608.39 L277.42,608.45 L277.67,608.37 L277.92,608.32 L278.17,608.28 L278.42,608.17 L278.67,608.18 L278.93,608.25 L279.18,608.26 L279.43,608.23 L279.68,608.07 L279.93,607.94 L280.18,607.83 L280.43,607.89 L280.68,607.91 L280.94,607.85 L281.19,607.86 L281.44,607.68 L281.69,607.64 L281.94,607.71 L282.19,607.70 L282.44,607.70 L282.69,607.65 L282.95,607.36 L283.20,607.20 L283.45,607.06 L283.70,606.95 L283.95,606.86 L284.20,606.69 L284.45,606.54 L284.70,606.40 L284.96,606.38 L285.21,606.23 L285.46,605.93 L285.71,605.62 L285.96,605.17 L286.21,604.84 L286.46,604.72 L286.71,604.51 L286.97,604.25 L287.22,603.94 L287.47,603.43 L287.72,602.82 L287.97,602.23 L288.22,601.56 L288.47,601.04 L288.72,600.28 L288.98,599.60 L289.23,598.75 L289.48,597.48 L289.73,596.23 L289.98,594.54 L290.23,592.63 L290.48,590.57 L290.73,588.09 L290.99,585.29 L291.24,581.96 L291.49,577.96 L291.74,573.41 L291.99,568.19 L292.24,562.55 L292.49,556.73 L292.74,551.38 L293.00,547.11 L293.25,544.49 L293.50,544.47 L293.75,546.43 L294.00,550.31 L294.25,555.58 L294.50,560.97 L294.75,566.62 L295.01,571.82 L295.26,576.44 L295.51,580.67 L295.76,584.29 L296.01,587.51 L296.26,590.21 L296.51,592.51 L296.76,594.40 L297.02,595.89 L297.27,597.30 L297.52,598.37 L297.77,599.32 L298.02,600.36 L298.27,601.13 L298.52,601.88 L298.77,602.59 L299.03,603.09 L299.28,603.41 L299.53,603.82 L299.78,604.07 L300.03,604.36 L300.28,604.72 L300.53,605.11 L300.78,605.50 L301.04,605.66 L301.29,605.93 L301.54,605.93 L301.79,606.08 L302.04,606.34 L302.29,606.52 L302.54,606.60 L302.79,606.71 L303.05,606.82 L303.30,606.94 L303.55,607.27 L303.80,607.29 L304.05,607.39 L304.30,607.40 L304.55,607.41 L304.80,607.61 L305.06,607.69 L305.31,607.76 L305.56,607.82 L305.81,607.76 L306.06,607.66 L306.31,607.79 L306.56,607.83 L306.81,607.84 L307.07,607.92 L307.32,607.92 L307.57,608.08 L307.82,608.31 L308.07,608.47 L308.32,608.37 L308.57,608.28 L308.82,608.27 L309.08,608.27 L309.33,608.46 L309.58,608.47 L309.83,608.59 L310.08,608.69 L310.33,608.68 L310.58,608.65 L310.83,608.69 L311.09,608.56 L311.34,608.67 L311.59,608.90 L311.84,608.70 L312.09,608.78 L312.34,608.68 L312.59,608.59 L312.84,608.70 L313.10,608.84 L313.35,608.92 L313.60,608.89 L313.85,608.97 L314.10,608.82 L314.35,608.76 L314.60,608.93 L314.85,608.80 L315.11,608.80 L315.36,608.84 L315.61,608.61 L315.86,608.52 L316.11,608.64 L316.36,608.59 L316.61,608.64 L316.86,608.77 L317.12,608.63 L317.37,608.62 L317.62,608.68 L317.87,608.89 L318.12,609.02 L318.37,609.16 L318.62,609.04 L318.87,608.87 L319.13,608.74 L319.38,608.74 L319.63,608.84 L319.88,608.85 L320.13,608.94 L320.38,608.84 L320.63,608.75 L320.88,608.80 L321.14,608.71 L321.39,608.67 L321.64,608.76 L321.89,608.67 L322.14,608.80 L322.39,608.96 L322.64,609.00 L322.89,609.07 L323.15,609.06 L323.40,609.05 L323.65,608.90 L323.90,608.92 L324.15,608.85 L324.40,608.70 L324.65,608.84 L324.90,608.78 L325.16,608.90 L325.41,609.07 L325.66,608.90 L325.91,608.93 L326.16,609.03 L326.41,609.01 L326.66,609.29 L326.91,609.30 L327.17,609.06 L327.42,608.91 L327.67,608.86 L327.92,608.92 L328.17,608.97 L328.42,609.03 L328.67,609.00 L328.92,608.80 L329.18,608.83 L329.43,608.96 L329.68,609.10 L329.93,609.22 L330.18,609.37 L330.43,609.21 L330.68,608.99 L330.93,608.83 L331.19,608.75 L331.44,608.76 L331.69,608.98 L331.94,609.15 L332.19,609.08 L332.44,608.95 L332.69,608.87 L332.94,608.79 L333.20,608.72 L333.45,608.65 L333.70,608.54 L333.95,608.56 L334.20,608.43 L334.45,608.47 L334.70,608.28 L334.95,608.10 L335.21,607.99 L335.46,608.00 L335.71,607.95 L335.96,607.93 L336.21,608.05 L336.46,607.91 L336.71,608.03 L336.96,608.28 L337.22,608.44 L337.47,608.64 L337.72,608.79 L337.97,608.62 L338.22,608.62 L338.47,608.75 L338.72,608.80 L338.97,608.91 L339.23,609.02 L339.48,609.13 L339.73,609.06 L339.98,609.18 L340.23,609.01 L340.48,608.74 L340.73,608.82 L340.98,608.77 L341.24,608.91 L341.49,609.01 L341.74,608.95 L341.99,609.01 L342.24,609.12 L342.49,609.15 L342.74,609.05 L342.99,609.09 L343.25,609.01 L343.50,609.07 L343.75,609.21 L344.00,609.28 L344.25,609.25 L344.50,609.23 L344.75,609.08 L345.00,608.87 L345.26,608.81 L345.51,608.77 L345.76,608.93 L346.01,608.92 L346.26,609.10 L346.51,609.02 L346.76,608.96 L347.01,609.03 L347.27,608.81 L347.52,608.93 L347.77,609.01 L348.02,608.97 L348.27,609.20 L348.52,609.16 L348.77,609.13 L349.02,609.08 L349.28,608.81 L349.53,608.76 L349.78,608.71 L350.03,608.75 L350.28,608.92 L350.53,608.79 L350.78,608.73 L351.03,608.62 L351.29,608.66 L351.54,608.79 L351.79,608.83 L352.04,608.88 L352.29,608.85 L352.54,608.85 L352.79,608.90 L353.04,608.83 L353.30,608.85 L353.55,608.90 L353.80,608.92 L354.05,609.15 L354.30,609.05 L354.55,609.00 L354.80,609.01 L355.05,608.94 L355.31,608.93 L355.56,608.94 L355.81,608.85 L356.06,608.86 L356.31,608.94 L356.56,608.93 L356.81,609.10 L357.06,608.93 L357.32,608.83 L357.57,608.95 L357.82,608.77 L358.07,608.76 L358.32,608.87 L358.57,608.77 L358.82,608.71 L359.07,608.87 L359.33,608.68 L359.58,608.54 L359.83,608.60 L360.08,608.50 L360.33,608.48 L360.58,608.54 L360.83,608.46 L361.08,608.49 L361.34,608.55 L361.59,608.62 L361.84,608.64 L362.09,608.53 L362.34,608.41 L362.59,608.32 L362.84,608.45 L363.09,608.59 L363.35,608.62 L363.60,608.69 L363.85,608.47 L364.10,608.46 L364.35,608.45 L364.60,608.42 L364.85,608.52 L365.10,608.40 L365.36,608.42 L365.61,608.26 L365.86,608.18 L366.11,608.24 L366.36,608.49 L366.61,608.58 L366.86,608.55 L367.11,608.36 L367.37,608.09 L367.62,607.87 L367.87,607.76 L368.12,607.81 L368.37,607.59 L368.62,607.77 L368.87,607.84 L369.12,607.71 L369.38,607.69 L369.63,607.41 L369.88,607.15 L370.13,607.14 L370.38,607.13 L370.63,607.16 L370.88,607.18 L371.13,606.99 L371.39,606.86 L371.64,606.59 L371.89,606.43 L372.14,606.43 L372.39,606.34 L372.64,606.23 L372.89,606.01 L373.14,605.79 L373.40,605.60 L373.65,605.26 L373.90,604.97 L374.15,604.58 L374.40,604.19 L374.65,603.86 L374.90,603.51 L375.15,602.99 L375.41,602.53 L375.66,602.02 L375.91,601.28 L376.16,600.49 L376.41,599.50 L376.66,598.50 L376.91,597.25 L377.16,595.92 L377.42,594.16 L377.67,592.20 L377.92,590.02 L378.17,587.36 L378.42,584.42 L378.67,580.91 L378.92,576.98 L379.17,572.48 L379.43,567.30 L379.68,561.67 L379.93,555.99 L380.18,550.54 L380.43,546.33 L380.68,544.23 L380.93,544.30 L381.18,546.88 L381.44,551.19 L381.69,556.33 L381.94,561.96 L382.19,567.53 L382.44,572.67 L382.69,577.33 L382.94,581.29 L383.19,584.62 L383.45,587.70 L383.70,590.30 L383.95,592.47 L384.20,594.31 L384.45,595.78 L384.70,597.14 L384.95,598.30 L385.20,599.39 L385.46,600.16 L385.71,600.80 L385.96,601.60 L386.21,602.28 L386.46,602.88 L386.71,603.39 L386.96,603.85 L387.21,604.13 L387.47,604.52 L387.72,604.93 L387.97,605.16 L388.22,605.53 L388.47,605.85 L388.72,605.99 L388.97,606.15 L389.22,606.25 L389.48,606.25 L389.73,606.37 L389.98,606.59 L390.23,606.60 L390.48,606.89 L390.73,607.09 L390.98,607.11 L391.23,607.36 L391.49,607.41 L391.74,607.56 L391.99,607.61 L392.24,607.62 L392.49,607.64 L392.74,607.74 L392.99,607.90 L393.24,607.89 L393.50,607.93 L393.75,607.78 L394.00,607.75 L394.25,607.86 L394.50,608.08 L394.75,608.02 L395.00,608.10 L395.25,608.12 L395.51,607.89 L395.76,608.00 L396.01,607.85 L396.26,607.76 L396.51,607.80 L396.76,607.59 L397.01,607.58 L397.26,607.40 L397.52,607.32 L397.77,607.41 L398.02,607.47 L398.27,607.69 L398.52,607.85 L398.77,608.02 L399.02,608.03 L399.27,608.18 L399.53,608.26 L399.78,608.50 L400.03,608.49 L400.28,608.49 L400.53,608.56 L400.78,608.36 L401.03,608.53 L401.28,608.73 L401.54,608.79 L401.79,608.84 L402.04,608.98 L402.29,608.94 L402.54,608.91 L402.79,609.02 L403.04,608.95 L403.29,608.81 L403.55,608.73 L403.80,608.77 L404.05,608.78 L404.30,608.99 L404.55,609.02 L404.80,608.80 L405.05,608.77 L405.30,608.67 L405.56,608.73 L405.81,608.92 L406.06,608.89 L406.31,608.99 L406.56,608.92 L406.81,608.98 L407.06,609.02 L407.31,608.83 L407.57,608.99 L407.82,608.76 L408.07,608.73 L408.32,608.85 L408.57,608.73 L408.82,608.98 L409.07,609.04 L409.32,608.98 L409.58,609.17 L409.83,609.10 L410.08,609.10 L410.33,609.06 L410.58,608.85 L410.83,608.92 L411.08,608.98 L411.33,609.06 L411.59,609.07 L411.84,609.08 L412.09,608.92 L412.34,608.89 L412.59,608.93 L412.84,608.82 L413.09,608.96 L413.34,608.94 L413.60,608.91 L413.85,609.10 L414.10,609.15 L414.35,609.29 L414.60,609.36 L414.85,609.30 L415.10,609.30 L415.35,609.31 L415.61,609.48 L415.86,609.40 L416.11,609.36 L416.36,609.27 L416.61,608.84 L416.86,608.76 L417.11,608.75 L417.36,608.80 L417.62,609.02 L417.87,609.21 L418.12,609.30 L418.37,609.23 L418.62,609.37 L418.87,609.42 L419.12,609.36 L419.37,609.33 L419.63,609.33 L419.88,609.19 L420.13,609.13 L420.38,609.22 L420.63,609.07 L420.88,609.16 L421.13,609.25 L421.38,609.33 L421.64,609.42 L421.89,609.28 L422.14,609.21 L422.39,609.19 L422.64,609.12 L422.89,609.39 L423.14,609.39 L423.39,609.28 L423.65,609.40 L423.90,609.24 L424.15,609.26 L424.40,609.29 L424.65,609.24 L424.90,609.24 L425.15,609.30 L425.40,609.30 L425.66,609.30 L425.91,609.30 L426.16,609.30 L426.41,609.10 L426.66,609.01 L426.91,608.89 L427.16,608.82 L427.41,609.06 L427.67,609.19 L427.92,609.29 L428.17,609.30 L428.42,609.29 L428.67,609.35 L428.92,609.27 L429.17,609.30 L429.42,609.41 L429.68,609.31 L429.93,609.21 L430.18,609.21 L430.43,609.07 L430.68,609.04 L430.93,609.27 L431.18,609.27 L431.43,609.28 L431.69,609.36 L431.94,609.31 L432.19,609.29 L432.44,609.33 L432.69,609.28 L432.94,609.23 L433.19,609.19 L433.44,609.17 L433.70,609.08 L433.95,609.01 L434.20,609.14 L434.45,609.13 L434.70,609.19 L434.95,609.28 L435.20,609.18 L435.45,609.20 L435.71,609.21 L435.96,609.16 L436.21,609.23 L436.46,609.18 L436.71,609.25 L436.96,609.17 L437.21,609.02 L437.46,609.15 L437.72,609.06 L437.97,609.15 L438.22,609.26 L438.47,609.11 L438.72,609.13 L438.97,609.02 L439.22,608.96 L439.47,608.99 L439.73,609.02 L439.98,609.25 L440.23,609.22 L440.48,609.38 L440.73,609.30 L440.98,609.09 L441.23,608.98 L441.48,608.97 L441.74,609.01 L441.99,609.11 L442.24,609.23 L442.49,609.04 L442.74,609.15 L442.99,609.19 L443.24,609.38 L443.49,609.44 L443.75,609.17 L444.00,609.24 L444.25,609.08 L444.50,609.08" fill="none" stroke="#ff0000" stroke-width="2.4" stroke-linejoin="round" stroke-linecap="butt" />
<path d="M193.50,694.78 L193.75,694.86 L194.00,695.26 L194.25,696.12 L194.51,695.46 L194.76,695.26 L195.01,695.54 L195.26,695.04 L195.51,695.21 L195.76,695.24 L196.01,695.07 L196.26,694.66 L196.52,694.37 L196.77,695.13 L197.02,694.62 L197.27,694.15 L197.52,694.29 L197.77,694.93 L198.02,694.82 L198.27,694.65 L198.53,695.90 L198.78,695.85 L199.03,694.09 L199.28,693.95 L199.53,695.43 L199.78,695.19 L200.03,695.23 L200.28,695.73 L200.54,695.34 L200.79,694.84 L201.04,694.31 L201.29,694.31 L201.54,694.62 L201.79,695.05 L202.04,695.25 L202.29,694.78 L202.55,694.58 L202.80,694.96 L203.05,694.01 L203.30,693.35 L203.55,693.81 L203.80,694.12 L204.05,694.41 L204.30,694.37 L204.56,694.03 L204.81,694.55 L205.06,695.18 L205.31,693.88 L205.56,693.73 L205.81,694.01 L206.06,694.95 L206.31,695.32 L206.57,694.14 L206.82,694.44 L207.07,694.54 L207.32,694.45 L207.57,695.43 L207.82,695.58 L208.07,695.17 L208.32,695.67 L208.58,694.65 L208.83,694.96 L209.08,695.89 L209.33,695.47 L209.58,694.60 L209.83,694.51 L210.08,695.22 L210.33,694.46 L210.59,695.50 L210.84,696.11 L211.09,694.69 L211.34,694.48 L211.59,695.11 L211.84,695.63 L212.09,695.44 L212.34,695.48 L212.60,695.97 L212.85,694.60 L213.10,693.50 L213.35,693.65 L213.60,693.97 L213.85,695.30 L214.10,695.60 L214.35,694.21 L214.61,693.67 L214.86,694.82 L215.11,694.68 L215.36,694.05 L215.61,694.51 L215.86,693.54 L216.11,693.80 L216.36,695.00 L216.62,694.88 L216.87,694.13 L217.12,693.38 L217.37,693.58 L217.62,694.15 L217.87,694.51 L218.12,694.44 L218.37,695.40 L218.63,696.05 L218.88,694.64 L219.13,693.53 L219.38,694.89 L219.63,695.07 L219.88,694.88 L220.13,695.94 L220.38,694.86 L220.64,693.81 L220.89,694.15 L221.14,693.81 L221.39,693.21 L221.64,693.46 L221.89,694.48 L222.14,694.45 L222.39,693.85 L222.65,693.83 L222.90,693.18 L223.15,694.26 L223.40,693.71 L223.65,692.50 L223.90,694.12 L224.15,693.70 L224.40,693.72 L224.66,695.19 L224.91,694.36 L225.16,693.77 L225.41,693.62 L225.66,693.78 L225.91,694.45 L226.16,694.28 L226.41,694.98 L226.67,695.12 L226.92,695.10 L227.17,695.19 L227.42,693.75 L227.67,693.54 L227.92,694.48 L228.17,693.51 L228.42,693.98 L228.68,694.82 L228.93,694.27 L229.18,693.72 L229.43,693.55 L229.68,694.21 L229.93,693.98 L230.18,693.85 L230.43,692.84 L230.69,693.55 L230.94,694.10 L231.19,692.11 L231.44,692.19 L231.69,692.94 L231.94,693.77 L232.19,693.72 L232.44,693.56 L232.70,693.53 L232.95,694.60 L233.20,695.43 L233.45,695.28 L233.70,694.40 L233.95,693.67 L234.20,693.69 L234.45,693.64 L234.71,694.54 L234.96,693.32 L235.21,692.30 L235.46,692.53 L235.71,692.31 L235.96,692.55 L236.21,692.84 L236.46,692.43 L236.72,693.02 L236.97,694.12 L237.22,693.32 L237.47,692.69 L237.72,693.42 L237.97,693.60 L238.22,693.19 L238.47,693.76 L238.73,694.62 L238.98,694.54 L239.23,693.94 L239.48,694.66 L239.73,695.74 L239.98,694.39 L240.23,693.34 L240.48,694.22 L240.74,693.83 L240.99,693.38 L241.24,693.84 L241.49,693.21 L241.74,693.05 L241.99,692.55 L242.24,692.36 L242.49,692.12 L242.75,693.68 L243.00,695.63 L243.25,695.03 L243.50,694.35 L243.75,694.21 L244.00,694.74 L244.25,694.73 L244.50,694.52 L244.76,693.43 L245.01,693.14 L245.26,693.34 L245.51,692.43 L245.76,692.08 L246.01,692.96 L246.26,694.18 L246.51,693.16 L246.77,693.53 L247.02,695.10 L247.27,693.90 L247.52,692.80 L247.77,692.96 L248.02,693.75 L248.27,693.56 L248.52,692.38 L248.78,692.77 L249.03,692.22 L249.28,692.09 L249.53,693.87 L249.78,693.95 L250.03,693.72 L250.28,693.81 L250.53,693.76 L250.79,693.54 L251.04,692.65 L251.29,692.43 L251.54,692.83 L251.79,693.64 L252.04,694.57 L252.29,694.08 L252.54,692.72 L252.80,692.06 L253.05,692.35 L253.30,693.51 L253.55,693.78 L253.80,692.95 L254.05,692.30 L254.30,692.80 L254.55,693.36 L254.81,692.81 L255.06,692.68 L255.31,693.62 L255.56,693.44 L255.81,693.41 L256.06,694.16 L256.31,693.21 L256.56,692.97 L256.82,692.84 L257.07,691.84 L257.32,691.72 L257.57,691.63 L257.82,692.02 L258.07,692.49 L258.32,692.48 L258.57,692.88 L258.83,690.77 L259.08,690.42 L259.33,691.10 L259.58,690.96 L259.83,691.42 L260.08,691.32 L260.33,692.50 L260.58,691.42 L260.84,690.69 L261.09,691.52 L261.34,690.27 L261.59,690.58 L261.84,691.57 L262.09,690.82 L262.34,690.29 L262.59,692.26 L262.85,692.32 L263.10,689.39 L263.35,688.96 L263.60,689.61 L263.85,689.76 L264.10,689.76 L264.35,689.21 L264.60,689.36 L264.86,689.47 L265.11,688.18 L265.36,687.75 L265.61,688.03 L265.86,688.67 L266.11,688.85 L266.36,687.84 L266.61,687.21 L266.87,687.11 L267.12,687.78 L267.37,686.82 L267.62,685.39 L267.87,685.52 L268.12,684.05 L268.37,682.98 L268.62,682.75 L268.88,681.42 L269.13,680.55 L269.38,680.16 L269.63,679.07 L269.88,676.80 L270.13,674.46 L270.38,673.80 L270.63,670.70 L270.89,666.79 L271.14,664.81 L271.39,661.27 L271.64,657.21 L271.89,652.90 L272.14,648.29 L272.39,644.08 L272.64,638.79 L272.90,633.88 L273.15,630.56 L273.40,628.10 L273.65,627.60 L273.90,628.35 L274.15,631.44 L274.40,636.83 L274.65,641.88 L274.91,646.44 L275.16,649.72 L275.41,654.39 L275.66,658.69 L275.91,661.56 L276.16,666.32 L276.41,668.68 L276.66,670.69 L276.92,673.68 L277.17,675.09 L277.42,676.15 L277.67,677.98 L277.92,679.53 L278.17,681.03 L278.42,683.00 L278.67,682.55 L278.93,682.39 L279.18,683.71 L279.43,683.97 L279.68,684.10 L279.93,685.33 L280.18,686.31 L280.43,685.75 L280.68,685.95 L280.94,687.52 L281.19,687.46 L281.44,686.94 L281.69,688.77 L281.94,690.26 L282.19,688.69 L282.44,687.41 L282.69,688.71 L282.95,688.98 L283.20,688.79 L283.45,689.36 L283.70,689.96 L283.95,688.93 L284.20,687.51 L284.45,688.36 L284.70,690.27 L284.96,690.97 L285.21,689.54 L285.46,689.99 L285.71,691.43 L285.96,691.10 L286.21,690.59 L286.46,691.04 L286.71,691.97 L286.97,691.88 L287.22,691.56 L287.47,691.50 L287.72,691.05 L287.97,690.61 L288.22,691.02 L288.47,691.41 L288.72,691.17 L288.98,691.90 L289.23,692.35 L289.48,692.35 L289.73,691.23 L289.98,691.09 L290.23,691.68 L290.48,690.94 L290.73,690.82 L290.99,691.98 L291.24,692.95 L291.49,691.90 L291.74,690.82 L291.99,691.25 L292.24,691.65 L292.49,692.60 L292.74,692.06 L293.00,690.12 L293.25,690.82 L293.50,691.86 L293.75,692.10 L294.00,692.53 L294.25,693.63 L294.50,693.03 L294.75,691.58 L295.01,690.80 L295.26,691.26 L295.51,692.73 L295.76,692.46 L296.01,692.66 L296.26,692.83 L296.51,693.03 L296.76,693.21 L297.02,691.78 L297.27,691.24 L297.52,690.99 L297.77,690.38 L298.02,691.39 L298.27,692.86 L298.52,693.81 L298.77,693.30 L299.03,692.08 L299.28,691.50 L299.53,692.19 L299.78,693.03 L300.03,692.15 L300.28,692.32 L300.53,692.97 L300.78,691.54 L301.04,691.65 L301.29,692.78 L301.54,692.14 L301.79,691.84 L302.04,693.04 L302.29,694.13 L302.54,694.18 L302.79,692.68 L303.05,691.29 L303.30,692.44 L303.55,692.13 L303.80,691.22 L304.05,690.89 L304.30,692.33 L304.55,693.93 L304.80,693.15 L305.06,692.68 L305.31,692.19 L305.56,691.84 L305.81,692.42 L306.06,692.24 L306.31,692.58 L306.56,692.70 L306.81,691.53 L307.07,692.53 L307.32,692.93 L307.57,692.51 L307.82,692.36 L308.07,690.78 L308.32,691.32 L308.57,691.82 L308.82,692.11 L309.08,691.99 L309.33,690.34 L309.58,691.37 L309.83,692.65 L310.08,692.53 L310.33,691.61 L310.58,692.04 L310.83,691.89 L311.09,691.13 L311.34,691.50 L311.59,691.54 L311.84,692.44 L312.09,692.29 L312.34,692.12 L312.59,692.85 L312.84,691.57 L313.10,690.52 L313.35,691.25 L313.60,691.56 L313.85,691.93 L314.10,691.17 L314.35,691.39 L314.60,692.87 L314.85,692.36 L315.11,691.15 L315.36,691.23 L315.61,691.69 L315.86,691.98 L316.11,692.22 L316.36,692.29 L316.61,692.07 L316.86,692.45 L317.12,691.38 L317.37,689.98 L317.62,691.52 L317.87,691.22 L318.12,691.33 L318.37,691.47 L318.62,691.08 L318.87,691.22 L319.13,690.89 L319.38,691.46 L319.63,691.61 L319.88,691.27 L320.13,692.49 L320.38,692.67 L320.63,690.88 L320.88,691.35 L321.14,692.30 L321.39,692.42 L321.64,692.90 L321.89,691.64 L322.14,691.17 L322.39,692.28 L322.64,691.62 L322.89,691.05 L323.15,689.30 L323.40,688.76 L323.65,691.36 L323.90,690.59 L324.15,689.20 L324.40,690.26 L324.65,690.78 L324.90,691.42 L325.16,689.99 L325.41,688.97 L325.66,690.30 L325.91,689.39 L326.16,688.73 L326.41,690.35 L326.66,690.92 L326.91,689.97 L327.17,687.56 L327.42,686.95 L327.67,688.38 L327.92,688.00 L328.17,687.45 L328.42,689.01 L328.67,688.57 L328.92,685.91 L329.18,685.73 L329.43,685.61 L329.68,684.77 L329.93,684.31 L330.18,684.26 L330.43,683.71 L330.68,681.78 L330.93,680.65 L331.19,680.54 L331.44,679.18 L331.69,678.22 L331.94,677.39 L332.19,674.46 L332.44,672.22 L332.69,671.61 L332.94,669.71 L333.20,665.61 L333.45,661.87 L333.70,657.72 L333.95,652.18 L334.20,648.24 L334.45,644.28 L334.70,639.28 L334.95,634.39 L335.21,630.19 L335.46,626.93 L335.71,625.53 L335.96,626.52 L336.21,628.14 L336.46,631.46 L336.71,634.81 L336.96,638.76 L337.22,645.54 L337.47,651.81 L337.72,655.67 L337.97,658.75 L338.22,661.58 L338.47,665.10 L338.72,669.10 L338.97,670.57 L339.23,672.64 L339.48,675.66 L339.73,677.26 L339.98,677.83 L340.23,679.18 L340.48,680.11 L340.73,681.65 L340.98,683.46 L341.24,682.77 L341.49,684.16 L341.74,686.10 L341.99,685.55 L342.24,686.66 L342.49,686.93 L342.74,686.30 L342.99,687.90 L343.25,686.81 L343.50,687.03 L343.75,688.56 L344.00,688.26 L344.25,687.94 L344.50,688.36 L344.75,688.55 L345.00,688.02 L345.26,688.57 L345.51,688.60 L345.76,689.88 L346.01,689.97 L346.26,688.80 L346.51,689.50 L346.76,690.04 L347.01,690.77 L347.27,691.33 L347.52,690.81 L347.77,690.23 L348.02,690.51 L348.27,691.26 L348.52,691.71 L348.77,691.03 L349.02,689.56 L349.28,691.11 L349.53,692.86 L349.78,691.86 L350.03,691.57 L350.28,691.19 L350.53,690.49 L350.78,690.64 L351.03,691.12 L351.29,691.00 L351.54,690.35 L351.79,690.56 L352.04,691.73 L352.29,691.67 L352.54,691.39 L352.79,690.54 L353.04,690.44 L353.30,691.56 L353.55,691.02 L353.80,690.15 L354.05,691.09 L354.30,691.63 L354.55,691.69 L354.80,691.93 L355.05,692.03 L355.31,692.09 L355.56,690.92 L355.81,691.08 L356.06,691.76 L356.31,692.19 L356.56,692.14 L356.81,691.57 L357.06,692.32 L357.32,693.20 L357.57,693.16 L357.82,693.10 L358.07,692.94 L358.32,692.81 L358.57,693.06 L358.82,692.86 L359.07,692.42 L359.33,692.28 L359.58,693.60 L359.83,693.54 L360.08,692.07 L360.33,691.87 L360.58,691.99 L360.83,692.34 L361.08,691.73 L361.34,690.49 L361.59,691.30 L361.84,691.51 L362.09,691.50 L362.34,692.48 L362.59,692.99 L362.84,693.85 L363.09,693.41 L363.35,692.17 L363.60,691.31 L363.85,691.18 L364.10,691.87 L364.35,691.16 L364.60,691.18 L364.85,692.33 L365.10,692.65 L365.36,692.47 L365.61,692.17 L365.86,691.95 L366.11,691.64 L366.36,691.06 L366.61,691.39 L366.86,693.24 L367.11,693.27 L367.37,692.61 L367.62,691.97 L367.87,692.56 L368.12,692.68 L368.37,692.33 L368.62,692.82 L368.87,691.83 L369.12,692.34 L369.38,692.89 L369.63,692.41 L369.88,692.65 L370.13,692.54 L370.38,692.07 L370.63,692.34 L370.88,692.32 L371.13,692.09 L371.39,691.94 L371.64,691.07 L371.89,691.06 L372.14,691.61 L372.39,691.99 L372.64,692.92 L372.89,691.96 L373.14,691.37 L373.40,691.07 L373.65,690.41 L373.90,691.35 L374.15,690.67 L374.40,689.91 L374.65,691.24 L374.90,692.32 L375.15,692.16 L375.41,691.65 L375.66,692.91 L375.91,693.26 L376.16,691.56 L376.41,692.58 L376.66,693.39 L376.91,692.23 L377.16,692.54 L377.42,692.82 L377.67,692.50 L377.92,692.53 L378.17,691.58 L378.42,691.97 L378.67,692.62 L378.92,691.50 L379.17,690.96 L379.43,692.04 L379.68,692.24 L379.93,691.71 L380.18,692.26 L380.43,692.28 L380.68,691.03 L380.93,691.29 L381.18,692.64 L381.44,692.74 L381.69,693.09 L381.94,692.78 L382.19,692.27 L382.44,692.92 L382.69,692.29 L382.94,692.33 L383.19,693.42 L383.45,692.85 L383.70,692.86 L383.95,692.85 L384.20,691.28 L384.45,691.39 L384.70,692.01 L384.95,691.54 L385.20,691.38 L385.46,691.85 L385.71,692.00 L385.96,690.78 L386.21,690.66 L386.46,691.37 L386.71,690.61 L386.96,689.86 L387.21,689.95 L387.47,689.75 L387.72,690.04 L387.97,690.83 L388.22,691.56 L388.47,691.52 L388.72,690.88 L388.97,690.68 L389.22,690.68 L389.48,689.64 L389.73,689.08 L389.98,689.24 L390.23,688.54 L390.48,687.84 L390.73,687.34 L390.98,687.13 L391.23,686.38 L391.49,686.44 L391.74,686.70 L391.99,686.01 L392.24,685.70 L392.49,685.48 L392.74,684.34 L392.99,683.17 L393.24,681.81 L393.50,679.75 L393.75,678.57 L394.00,679.54 L394.25,678.33 L394.50,676.28 L394.75,676.48 L395.00,674.07 L395.25,671.99 L395.51,670.81 L395.76,667.60 L396.01,664.68 L396.26,660.86 L396.51,655.07 L396.76,650.57 L397.01,645.99 L397.26,640.11 L397.52,634.97 L397.77,632.89 L398.02,630.21 L398.27,627.22 L398.52,627.12 L398.77,628.84 L399.02,632.13 L399.27,635.90 L399.53,640.02 L399.78,644.31 L400.03,649.33 L400.28,654.74 L400.53,660.40 L400.78,664.47 L401.03,667.56 L401.28,670.09 L401.54,671.51 L401.79,672.67 L402.04,674.62 L402.29,675.83 L402.54,677.12 L402.79,680.51 L403.04,682.00 L403.29,682.72 L403.55,683.21 L403.80,682.60 L404.05,683.26 L404.30,684.44 L404.55,685.95 L404.80,687.79 L405.05,687.16 L405.30,686.28 L405.56,686.99 L405.81,687.35 L406.06,687.05 L406.31,687.59 L406.56,688.75 L406.81,689.16 L407.06,688.51 L407.31,688.44 L407.57,688.34 L407.82,689.09 L408.07,689.66 L408.32,689.15 L408.57,689.61 L408.82,689.58 L409.07,689.36 L409.32,688.82 L409.58,690.49 L409.83,691.72 L410.08,691.00 L410.33,692.12 L410.58,692.00 L410.83,691.22 L411.08,691.36 L411.33,691.79 L411.59,692.13 L411.84,691.71 L412.09,691.34 L412.34,691.38 L412.59,692.23 L412.84,690.97 L413.09,690.29 L413.34,691.27 L413.60,691.22 L413.85,690.39 L414.10,691.01 L414.35,691.68 L414.60,691.18 L414.85,691.41 L415.10,690.63 L415.35,690.70 L415.61,690.63 L415.86,690.39 L416.11,691.27 L416.36,691.82 L416.61,692.06 L416.86,692.01 L417.11,693.20 L417.36,693.54 L417.62,691.68 L417.87,691.12 L418.12,691.46 L418.37,691.72 L418.62,691.77 L418.87,691.41 L419.12,692.69 L419.37,693.21 L419.63,692.11 L419.88,691.97 L420.13,692.05 L420.38,692.98 L420.63,693.39 L420.88,693.25 L421.13,691.25 L421.38,690.82 L421.64,693.17 L421.89,694.11 L422.14,693.54 L422.39,691.49 L422.64,691.81 L422.89,692.45 L423.14,691.13 L423.39,691.13 L423.65,692.73 L423.90,693.76 L424.15,693.58 L424.40,692.34 L424.65,693.35 L424.90,693.29 L425.15,691.85 L425.40,691.70 L425.66,692.49 L425.91,693.56 L426.16,693.32 L426.41,693.13 L426.66,692.61 L426.91,692.66 L427.16,691.65 L427.41,692.12 L427.67,693.69 L427.92,692.92 L428.17,692.41 L428.42,692.80 L428.67,693.69 L428.92,693.78 L429.17,692.93 L429.42,692.41 L429.68,691.55 L429.93,691.50 L430.18,692.39 L430.43,692.59 L430.68,692.60 L430.93,693.16 L431.18,693.37 L431.43,693.11 L431.69,693.24 L431.94,693.19 L432.19,692.81 L432.44,692.98 L432.69,692.03 L432.94,692.47 L433.19,692.72 L433.44,692.49 L433.70,693.23 L433.95,693.38 L434.20,693.40 L434.45,692.26 L434.70,692.84 L434.95,693.48 L435.20,692.95 L435.45,692.89 L435.71,693.39 L435.96,693.80 L436.21,693.38 L436.46,692.06 L436.71,691.70 L436.96,692.63 L437.21,693.87 L437.46,694.03 L437.72,692.97 L437.97,693.43 L438.22,693.42 L438.47,692.74 L438.72,692.89 L438.97,692.08 L439.22,692.53 L439.47,693.60 L439.73,692.91 L439.98,692.04 L440.23,692.32 L440.48,693.74 L440.73,693.27 L440.98,691.89 L441.23,692.49 L441.48,692.19 L441.74,690.72 L441.99,691.36 L442.24,692.22 L442.49,692.32 L442.74,692.40 L442.99,692.74 L443.24,692.93 L443.49,692.41 L443.75,692.28 L444.00,692.97 L444.25,693.76 L444.50,693.92" fill="none" stroke="#000" stroke-width="2.2" stroke-linejoin="round" stroke-linecap="butt" />
<rect x="193.5" y="516.6" width="251.0" height="202.60000000000002" fill="none" stroke="#3c3c3c" stroke-width="1"/>
<line x1="193.50" y1="719.20" x2="193.50" y2="715.90" stroke="#3c3c3c" stroke-width="1"/>
<line x1="193.50" y1="516.60" x2="193.50" y2="519.90" stroke="#3c3c3c" stroke-width="1"/>
<line x1="235.33" y1="719.20" x2="235.33" y2="717.60" stroke="#3c3c3c" stroke-width="1"/>
<line x1="235.33" y1="516.60" x2="235.33" y2="518.20" stroke="#3c3c3c" stroke-width="1"/>
<line x1="277.17" y1="719.20" x2="277.17" y2="715.90" stroke="#3c3c3c" stroke-width="1"/>
<line x1="277.17" y1="516.60" x2="277.17" y2="519.90" stroke="#3c3c3c" stroke-width="1"/>
<line x1="319.00" y1="719.20" x2="319.00" y2="717.60" stroke="#3c3c3c" stroke-width="1"/>
<line x1="319.00" y1="516.60" x2="319.00" y2="518.20" stroke="#3c3c3c" stroke-width="1"/>
<line x1="360.83" y1="719.20" x2="360.83" y2="715.90" stroke="#3c3c3c" stroke-width="1"/>
<line x1="360.83" y1="516.60" x2="360.83" y2="519.90" stroke="#3c3c3c" stroke-width="1"/>
<line x1="402.67" y1="719.20" x2="402.67" y2="717.60" stroke="#3c3c3c" stroke-width="1"/>
<line x1="402.67" y1="516.60" x2="402.67" y2="518.20" stroke="#3c3c3c" stroke-width="1"/>
<line x1="444.50" y1="719.20" x2="444.50" y2="715.90" stroke="#3c3c3c" stroke-width="1"/>
<line x1="444.50" y1="516.60" x2="444.50" y2="519.90" stroke="#3c3c3c" stroke-width="1"/>
<text x="193.50" y="734.50" font-size="13" text-anchor="middle" fill="#111"  stroke="#111" stroke-width="0.3">7.1</text>
<text x="277.17" y="734.50" font-size="13" text-anchor="middle" fill="#111"  stroke="#111" stroke-width="0.3">7.0</text>
<text x="360.83" y="734.50" font-size="13" text-anchor="middle" fill="#111"  stroke="#111" stroke-width="0.3">6.9</text>
<text x="444.50" y="734.50" font-size="13" text-anchor="middle" fill="#111"  stroke="#111" stroke-width="0.3">6.8</text>
<text x="319.55" y="751.70" font-size="13.45" text-anchor="middle" fill="#111"  stroke="#111" stroke-width="0.3">Chemical Shift (ppm)</text>
<text transform="translate(175.5,613.45) rotate(-90)" font-size="13.45" text-anchor="middle" fill="#111" stroke="#111" stroke-width="0.3">Intensity (a.u.)</text>
<line x1="297.20" y1="541.50" x2="376.80" y2="541.50" stroke="#555" stroke-width="1"/>
<path d="M293.20,541.50 L298.20,539.80 L298.20,543.20 Z" fill="#111"/>
<path d="M380.80,541.50 L375.80,539.80 L375.80,543.20 Z" fill="#111"/>
<line x1="277.60" y1="623.50" x2="331.80" y2="623.50" stroke="#555" stroke-width="1"/>
<path d="M273.60,623.50 L278.60,621.80 L278.60,625.20 Z" fill="#111"/>
<path d="M335.80,623.50 L330.80,621.80 L330.80,625.20 Z" fill="#111"/>
<text x="337.70" y="553.00" font-size="10.5" text-anchor="middle" fill="#111"  stroke="#111" stroke-width="0.3">73 Hz</text>
<text x="303.80" y="637.00" font-size="10.5" text-anchor="middle" fill="#111"  stroke="#111" stroke-width="0.3">52 Hz</text>
<text x="198.2" y="599.4" font-size="12.9" fill="#ff0000" stroke="#ff0000" stroke-width="0.3"><tspan font-size="8" dy="-6.8">15</tspan><tspan dy="6.8">N</tspan><tspan font-size="8.5" dy="5">2</tspan></text>
<text x="199.3" y="680.2" font-size="13.1" fill="#111" stroke="#111" stroke-width="0.3"><tspan font-size="8" dy="-6.8">14</tspan><tspan dy="6.8">N</tspan><tspan font-size="8.5" dy="5">2</tspan></text>
</svg></body></html>
